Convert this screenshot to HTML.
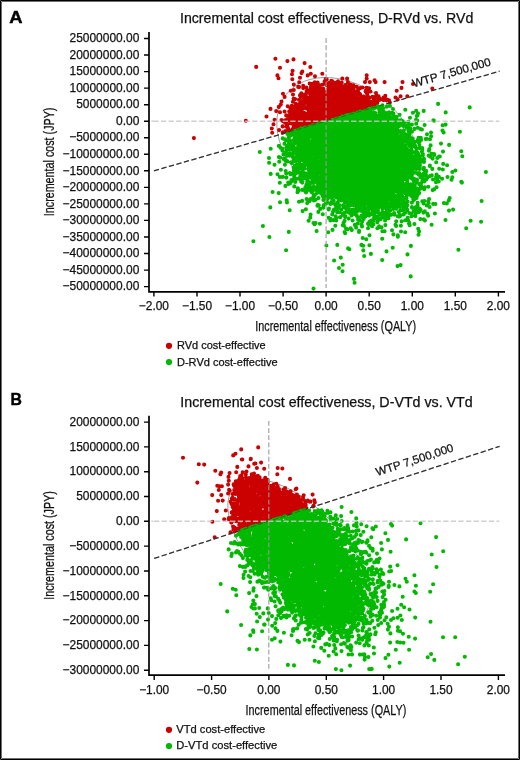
<!DOCTYPE html>
<html><head><meta charset="utf-8"><style>
html,body{margin:0;padding:0;background:#fff;width:520px;height:760px;overflow:hidden}
svg{display:block;will-change:transform}
text{font-family:"Liberation Sans",sans-serif;fill:#111;stroke:#111;stroke-width:0.25px}
</style></head><body>
<svg width="520" height="760" viewBox="0 0 520 760">
<rect x="0" y="0" width="520" height="760" fill="#fff"/>
<text x="9.3" y="22.7" font-size="17.4" font-weight="bold" textLength="13.3" lengthAdjust="spacingAndGlyphs" style="fill:#000;stroke:#000;stroke-width:0.45px">A</text>
<text x="180" y="22.9" font-size="14" textLength="293.3" lengthAdjust="spacingAndGlyphs">Incremental cost effectiveness, D-RVd vs. RVd</text>
<ellipse cx="348.2" cy="144.2" rx="79.5" ry="56.8" transform="rotate(-141.08 348.2 144.2)" fill="none" stroke="#8c8c8c" stroke-width="0.8"/>
<path d="M339.8 98.6h0M317.6 100.9h0M319.5 111.3h0M383.6 98.3h0M338.8 89.5h0M319.6 118h0M295.9 110.5h0M346 114.8h0M321.8 106h0M333.5 84.7h0M296.4 111.9h0M319.5 100.1h0M372.7 105.8h0M353.5 94.6h0M333.9 107.7h0M323.3 88.7h0M375.8 106.3h0M366.5 103.9h0M342.9 89h0M313.7 91.9h0M293.7 116h0M294.4 115.6h0M295.4 117.7h0M303.1 126h0M322.4 93.4h0M353.6 112h0M298.7 123.8h0M355.7 104.8h0M317 120h0M322.6 115.6h0M323 106.5h0M345.6 104.6h0M318.6 94.3h0M323.7 106.7h0M309.5 105.8h0M319.5 104.7h0M329.4 118.1h0M325 118.6h0M312.4 109.5h0M272.2 132.8h0M356.9 91.4h0M290.4 108.3h0M304.9 96.4h0M323.4 90.3h0M349.4 100.6h0M362.7 103.4h0M305 99.2h0M331.7 110.8h0M344.7 91.3h0M353.8 110.1h0M351.5 90.8h0M372.4 96.9h0M358.2 89.2h0M296 106.8h0M362 101.2h0M346.9 100h0M299.8 114.3h0M308 103.3h0M321.1 118.9h0M351.7 104.8h0M300.1 115.5h0M337.2 113.6h0M300.1 120.6h0M348.9 106h0M342.3 107.7h0M310 111.7h0M327.6 110.1h0M315.9 119.5h0M306.3 124.9h0M324.4 98.3h0M352.8 95.3h0M331.5 94.3h0M314.9 113.1h0M348.1 97.6h0M297.4 127.9h0M330.9 98.2h0M311.3 120.4h0M334.3 116h0M302.7 116.7h0M337.3 109.1h0M306.3 118.8h0M314.8 82.2h0M314.6 93.7h0M367.8 100h0M313.7 108.4h0M317.4 88.3h0M365.1 105.9h0M365.5 108h0M305.6 116.5h0M333.3 103.4h0M356.1 108.5h0M339.2 93.8h0M291 112.6h0M362.1 97.1h0M331.7 93.6h0M316.9 94.6h0M303.3 97.4h0M328.8 119.5h0M307.8 100.3h0M332.5 97.4h0M299.5 124.6h0M309.7 123.4h0M346.3 91.7h0M321.1 121.6h0M287 120.8h0M330.4 95.2h0M342.1 112.4h0M368.6 106.8h0M302.3 116.3h0M325 115.6h0M318.7 103.5h0M348.6 96.9h0M332.4 83.9h0M344.4 107.7h0M369.1 88.2h0M331.6 87.5h0M322.2 118.7h0M350.3 96.3h0M346.4 106.7h0M314.1 115.1h0M324.7 111.9h0M328.9 111.2h0M287.9 131.6h0M345.7 96.4h0M356.1 102.2h0M325.6 115h0M344.5 107.1h0M377.5 101h0M330.5 92.1h0M331.6 111.6h0M339.9 107.1h0M305.4 122.2h0M320.4 100.8h0M362 100.7h0M347.1 78.6h0M319.1 91.6h0M339.4 96.6h0M329.7 113.5h0M361 105.4h0M328.2 103.5h0M306.1 115.6h0M333.8 96.8h0M324.5 114.2h0M316 95.8h0M312.8 95.5h0M319 98.1h0M352.7 99.5h0M334.7 95.9h0M332.3 95.1h0M300.9 113.7h0M304.3 127.3h0M356.1 94.7h0M308 125.8h0M305.9 119.1h0M335.2 110h0M338.3 87h0M322.7 113.9h0M314.4 104h0M383.6 97.5h0M311.9 123h0M296.7 119h0M351.7 97.8h0M355 107.6h0M331.4 117.1h0M362.6 97.8h0M326.3 100.1h0M317.6 98.4h0M343.4 105.5h0M319 93.8h0M327.2 112.7h0M335.9 109.4h0M327.7 108.2h0M310.5 91.7h0M335.1 97.2h0M308.1 116.3h0M320.4 118.8h0M298.5 116.2h0M331.9 106.3h0M327.4 104.7h0M332.7 114.6h0M313.7 86.8h0M336.5 95.4h0M319.9 95.4h0M319.8 104.8h0M327 117.3h0M357.2 99.5h0M310.3 97h0M326.3 113h0M317.9 108.7h0M357 97.7h0M291.7 107h0M306.3 99.5h0M334.1 87.4h0M313.4 118.1h0M352.1 90.5h0M374.5 100.2h0M320.2 116.5h0M373.5 103.9h0M341.4 113h0M349.8 89.7h0M310.6 97.5h0M344.1 97.5h0M337.3 87h0M302.6 116.8h0M298.4 120.3h0M352.4 91.5h0M302.5 107.4h0M324.4 118.3h0M336 113.6h0M297.6 107.1h0M307.9 99.7h0M329.8 117.4h0M363.6 101.3h0M312.2 111.9h0M356.5 98.9h0M361.6 109.1h0M300.6 97h0M300.7 110.6h0M312.2 117.1h0M315.6 105.1h0M310 100.2h0M328.9 119.3h0M331.1 85.9h0M317.3 123.3h0M324.1 96.4h0M316.5 121.4h0M325.4 112.1h0M300.5 100.9h0M321 121.4h0M333.6 98.9h0M342.5 96.4h0M322.8 95.8h0M334.1 99.4h0M341.8 96.2h0M345.2 107h0M298.2 125.7h0M333.5 95.4h0M321.2 97.8h0M356.3 99.1h0M317.6 82.6h0M355 104.8h0M294.7 113.8h0M324.7 99.4h0M365.6 91.6h0M345.6 96.1h0M328.3 88.7h0M289.3 130.9h0M345.8 99.9h0M319.3 109.2h0M330.1 110.3h0M322.3 84.8h0M344.1 93.9h0M325.8 111.2h0M313 112.9h0M315.4 102.9h0M286.5 120h0M328 105.3h0M328.4 106.8h0M336.4 115.8h0M305.9 121.5h0M331.7 112.2h0M305.4 115.5h0M307 92.4h0M298.9 99.8h0M320.3 88.2h0M359.7 93.7h0M332.4 81.4h0M331.4 103.7h0M359.8 101.8h0M383.6 100.1h0M323.4 110.1h0M329.7 105.2h0M344.7 107.2h0M298 125.4h0M345.7 114.2h0M354 92.5h0M289.2 111.5h0M338.7 96.9h0M346 97.1h0M335.3 101.1h0M312.1 122.5h0M307.1 123.9h0M350.6 100.3h0M377.5 99h0M329.3 119.9h0M347.2 100.9h0M317.8 87.4h0M303 108.3h0M338.6 99.2h0M354.1 91.1h0M299.5 128.3h0M346.3 99.3h0M344.2 88.3h0M333.8 92.8h0M316.7 92.2h0M355.3 109.3h0M297.9 116.6h0M321.8 114h0M300.6 122.6h0M305.1 119.9h0M353 103h0M341.7 106.4h0M343.1 99h0M314.3 111.7h0M323.6 108.2h0M293.7 126.6h0M336.5 84.4h0M317.3 101.6h0M299.4 112.2h0M296.4 117.2h0M378.6 96.4h0M339.4 101.2h0M301.3 93.2h0M329.5 95h0M350 102h0M343.4 110.2h0M366.7 78.6h0M330.7 101.7h0M362.9 96.8h0M304.2 114.8h0M366.2 107.1h0M360.5 97.9h0M336.6 103.1h0M340.7 87.3h0M310.8 95.6h0M349.8 95.2h0M360.2 94.6h0M314.6 96h0M312.5 119.6h0M278.8 106.9h0M313.5 91.9h0M314.7 113.2h0M360.5 104.9h0M342.5 98.7h0M331.8 83.3h0M303 121h0M335.5 99.2h0M321.8 111.4h0M310.4 115.7h0M307.4 120.2h0M305.5 116.3h0M361.1 98.9h0M318.3 108.1h0M360.4 107.2h0M350.5 103.7h0M329.3 103.3h0M350.2 92.7h0M352.3 109.2h0M309.2 113.8h0M349.7 101.8h0M325 82.6h0M325.4 119h0M345.7 101.1h0M304.3 127.2h0M355 96.9h0M314.5 97.1h0M347.9 97.2h0M318 112h0M334.4 105.3h0M348.4 90.1h0M313.8 90.7h0M345.1 99.3h0M303.2 88.1h0M333.6 109h0M338 102.3h0M314.3 103h0M326.9 85.3h0M311.6 111.5h0M337.8 114.3h0M334.4 87.3h0M327.4 96.2h0M310.8 88.4h0M370.2 105.4h0M329.7 96.1h0M327.1 108.2h0M377.3 103h0M317.7 109h0M354.9 108.6h0M317 119.1h0M318.4 92.3h0M331.4 92.4h0M340.4 115.2h0M329.9 82.9h0M327.9 112.1h0M333.3 111.9h0M336.3 94h0M324 120.6h0M309.8 107.9h0M326.5 101.5h0M339 85.4h0M366 103.3h0M304.5 118.5h0M311.6 91.5h0M322.3 96h0M308.5 97.6h0M300.2 103.1h0M329.8 96.9h0M298.6 112.5h0M337.7 89.4h0M303 118h0M294.5 127.7h0M322.8 98.5h0M294.5 108.5h0M301.6 106.6h0M302.9 118.6h0M330.4 119.6h0M335 98.7h0M329.3 100.8h0M356.7 86.7h0M294.9 127h0M334.1 117h0M331.6 92.4h0M303.2 127.5h0M327.5 106.8h0M303.3 107.7h0M292.1 121.8h0M338.2 91.3h0M339.8 114.6h0M369.9 108.5h0M296.4 115.8h0M334.9 93.2h0M338 81.2h0M339.8 106.4h0M348.1 92.2h0M303.6 107.1h0M341.5 99h0M342.3 104.4h0M320.9 112.3h0M385.3 95.7h0M304.3 113.5h0M323.9 118.9h0M296.7 124.9h0M364.2 99.5h0M317.9 105.8h0M307.4 92h0M323.8 102.1h0M367.9 102.4h0M308.2 90.5h0M315.5 102.8h0M331.6 106.1h0M312.5 117.5h0M373.3 97.3h0M293.2 110.5h0M331.6 114.6h0M376 93h0M318.8 120h0M333.2 114.7h0M354.7 109.7h0M337.4 114h0M315.1 108.6h0M311.6 122.6h0M334.3 99.8h0M366.1 99h0M314.3 108.5h0M343.3 100h0M282.9 132.4h0M328.9 105.9h0M292.8 111.5h0M305.1 124.7h0M320.5 97h0M326.3 117.3h0M344 103.5h0M309.7 119.8h0M300.1 123.7h0M350.5 111.9h0M338 114.4h0M306.2 108.5h0M349.3 105.9h0M348.2 104.5h0M326.6 92.9h0M314.9 106.1h0M321.7 98.3h0M325.2 94h0M375.5 98.6h0M347.3 108.5h0M346.8 95.6h0M371.7 104.1h0M325.8 109.3h0M308.2 104.9h0M304.7 121.7h0M338.7 84.3h0M344.1 93.9h0M315.4 122.9h0M343.5 107h0M351.1 109.9h0M314.7 121.6h0M340.7 103.5h0M301.4 123.4h0M318.1 85.6h0M331.8 104.2h0M346.2 101.1h0M352.9 102.3h0M356.4 107.9h0M306.6 122.8h0M305.5 120.8h0M311.8 117.4h0M342.5 91h0M329.5 91.2h0M359.8 110.6h0M348.2 111.2h0M314.4 115.3h0M365.4 106.5h0M365.9 90.5h0M328 117.7h0M320.5 99.6h0M357.5 99.6h0M366.9 103.3h0M370 107.7h0M335.5 96.4h0M336.1 84.9h0M334 112.9h0M335.5 103.5h0M318.9 108.6h0M338.6 112.1h0M358.3 104h0M286.7 124.3h0M295.1 129.9h0M360.1 107.8h0M324.1 96.4h0M294.6 115.6h0M385.7 99.6h0M370.6 105.4h0M337 117.9h0M352 97.7h0M314.8 109.5h0M340.4 85.7h0M333.6 102.7h0M329.2 89.6h0M395.5 97.5h0M322.3 73.7h0M322.4 89.6h0M324.6 81.4h0M304.2 126.2h0M359.3 105h0M308.5 126.2h0M339.3 95h0M310.3 99.6h0M322.1 120.6h0M344.9 101h0M356.4 97.9h0M318 87.7h0M365.2 100.4h0M310 109.9h0M340.6 115.4h0M352.6 103.5h0M338.8 104.1h0M337.9 101.8h0M339.4 92.7h0M315.6 84.8h0M319.1 85h0M353.4 105.3h0M363.7 96.5h0M343.3 116.1h0M307.1 113.5h0M350.5 111h0M329 99.5h0M332.9 102.5h0M352.7 98.2h0M355.7 103.4h0M314.8 111h0M340.5 107.2h0M314.3 94.2h0M341 102.6h0M365.3 105.1h0M365.9 97.6h0M359.9 101.9h0M323.9 116.9h0M334.8 90.8h0M310.9 124.8h0M322.1 92.3h0M309.2 118.3h0M348.3 109.3h0M354.9 104.7h0M317.2 110.3h0M315.8 90.4h0M341.9 112.9h0M345.6 86.7h0M350.5 109.2h0M308.8 110.5h0M327 91.6h0M317 109.5h0M299.6 109.5h0M332.8 115.7h0M292.9 129.2h0M319.2 115.6h0M362.6 87.5h0M311.5 94.1h0M353.5 111.1h0M317.9 110.1h0M367 93.8h0M348.9 105.1h0M318 116h0M305.6 100.7h0M369.5 105.1h0M332.8 106.5h0M314.8 99.1h0M374.3 97.3h0M313.7 124.3h0M296.7 116h0M340.9 113.5h0M301.7 110.9h0M353 99.5h0M371.6 105.3h0M337.6 90.9h0M351.2 99.7h0M307.3 118.4h0M283.1 121.2h0M314 98h0M346.4 103.2h0M337.2 83.9h0M323.9 115.6h0M304.2 97.6h0M338.1 94.9h0M330.3 100.7h0M327.9 109.4h0M298.3 127.2h0M311.8 121.8h0M354.8 112.2h0M337.8 94.9h0M351.2 110.6h0M330.2 119.6h0M321.8 96h0M303.6 103.8h0M330.8 119.8h0M331.8 108.6h0M316.5 98h0M324 114.4h0M343 113.4h0M328.6 105.5h0M308.8 105.8h0M333.9 108.7h0M311.7 115.9h0M317.6 120.9h0M315.1 98.9h0M354.8 104h0M345 91.6h0M324.5 83.8h0M350.9 106h0M341.1 88.8h0M303.4 127.4h0M311.9 112.8h0M319.9 106.1h0M353.5 100.6h0M366.9 98.9h0M334 109.2h0M366.8 91.4h0M333.9 85.3h0M336.5 89.6h0M290.8 117.8h0M330 98.3h0M329 113.7h0M327.1 103.9h0M309.2 119.5h0M349.8 109.1h0M339.6 84.1h0M326.2 112.4h0M316.2 111.8h0M333.7 98.5h0M347.8 113.6h0M324.2 98.7h0M344.2 110.9h0M347.9 82.1h0M357.1 102h0M344.3 100.5h0M320.6 114.2h0M316.6 107.7h0M325.8 103.2h0M373.9 103.2h0M324.3 96.8h0M327.4 97.4h0M370.9 103.7h0M358.1 91.7h0M334.2 97h0M314.1 106.7h0M305.3 118.3h0M356.3 96.8h0M342.7 113.3h0M332 114.4h0M359.4 109.6h0M342 101.4h0M353.4 105.1h0M370.2 107.7h0M334.8 86.5h0M302.7 95.3h0M361.1 110.7h0M349.5 114h0M311.3 96.6h0M330.7 92.5h0M301.9 128.1h0M315.5 83h0M340.2 98.9h0M317.6 98.8h0M289.9 130.2h0M339.6 102.6h0M312.4 101.7h0M321.2 100.4h0M341 101.9h0M337.3 99.7h0M318.1 96.6h0M348.2 103.7h0M301.9 118.8h0M346 90.3h0M303.5 100.1h0M299.1 87.1h0M309.1 106.4h0M313.7 117.8h0M329.6 104.1h0M335.2 94.4h0M328.3 108.8h0M310.7 107.6h0M316.7 106h0M331.3 90.5h0M317.7 120.2h0M355.8 97.8h0M361.9 102.5h0M365.3 106.9h0M335.7 111.3h0M345.3 85h0M334.1 118.6h0M344.1 103.7h0M333.5 112.9h0M330.9 98.3h0M298.2 119h0M326.8 108.4h0M279.1 130.1h0M285.1 122.7h0M309.3 108.2h0M360.5 110h0M344.9 115.7h0M344.3 110.1h0M357.7 98.8h0M341.2 113.4h0M373 107h0M289.9 114.8h0M314.1 124.6h0M357.1 107.3h0M366.7 75.2h0M309.1 112.1h0M329 114.4h0M331.4 93.5h0M294.8 117.1h0M309 106.2h0M306.8 100h0M331.4 100h0M344.8 103.4h0M366.1 101.4h0M327.7 110.9h0M339.7 101.8h0M370.7 102.1h0M282.7 132.8h0M331.4 102.2h0M311.8 99.7h0M295.1 99.1h0M294.2 111.5h0M316.9 116.7h0M305.1 125.7h0M370.2 107.6h0M332.7 109h0M335.6 100.1h0M352.9 90.9h0M334.9 110.2h0M346.9 87.4h0M292.9 101.8h0M361.1 104h0M340.5 100.9h0M352.5 87.8h0M351.8 113h0M363.6 110.4h0M322.4 116.2h0M349.6 108.3h0M303.8 121.9h0M309.1 107.3h0M304.9 113.5h0M315.4 104.5h0M325.6 106.6h0M360.5 104.8h0M332 82.3h0M320.7 122.5h0M326.1 120.3h0M314.4 122.1h0M351.2 94.5h0M335 102.1h0M298.6 111.4h0M348.5 113.2h0M336.7 109.1h0M341.8 100.3h0M335.8 109.3h0M343.7 102.7h0M299.7 112.7h0M334.6 97.2h0M317.1 111.6h0M358.8 98.2h0M324.6 99.8h0M387.7 99.8h0M339.7 110.2h0M319.2 101.3h0M373.6 100.1h0M375 99h0M315.2 95.1h0M294.7 122.3h0M338.6 84.6h0M328 116.8h0M337.7 116.1h0M365 101.7h0M373.7 101.7h0M339.2 112h0M322.1 100.1h0M287.9 127.7h0M357.9 93.7h0M350.7 97.3h0M308.6 114.3h0M355.2 110.9h0M306.9 102.9h0M315 99h0M352.1 107.1h0M370.3 101.7h0M295 124.7h0M327.9 100h0M308.9 106.6h0M350 85h0M332.2 108.2h0M300 110.3h0M332.9 86h0M356.8 109.6h0M316.4 97.9h0M309.4 120.5h0M326.7 79.6h0M370.1 108.2h0M304.3 122.3h0M318.9 99.6h0M352.4 96.4h0M324.3 121.3h0M322.7 108.7h0M298.2 115.6h0M318.6 115.3h0M351.8 107h0M345.5 113.6h0M354.9 105.4h0M333.2 109.2h0M316.1 109.5h0M291.8 105.7h0M321.8 109.3h0M306.6 121.7h0M299 114.6h0M329.6 103.5h0M331.3 80.7h0M345.9 89h0M319 103.6h0M335.1 105.4h0M299.9 106.2h0M340.8 98.3h0M315.7 88.1h0M344.3 113.7h0M304.1 112.9h0M346.8 105.6h0M348.8 108.2h0M347.6 113.2h0M302.7 101.5h0M324.4 110.2h0M366.6 97.2h0M286.4 126.8h0M346.3 87.9h0M332.6 95.2h0M330.9 117.8h0M347.2 105.7h0M322.3 110.2h0M344.5 86.1h0M310.2 113.7h0M282.6 126.4h0M354.7 111.6h0M293.9 126.7h0M346.2 92.1h0M301.9 120.7h0M324.7 107.5h0M328.4 102.9h0M353.3 87.6h0M304.1 98.6h0M346.2 105.7h0M288.9 116.8h0M292.2 117.7h0M351.3 105.4h0M334.9 103.8h0M306.6 91.1h0M341.7 82.5h0M344.9 109.4h0M342.9 112.9h0M374.4 103h0M367.6 96h0M338.3 115.6h0M341 83.6h0M316.7 107.3h0M348.9 91.6h0M285.2 120.2h0M335.6 96.8h0M318.7 109.3h0M340.6 112.2h0M320.6 93.2h0M293.8 115h0M353 102.1h0M309.1 93h0M332.5 112.3h0M340.6 116.2h0M312.1 119.3h0M362.2 99.6h0M334.9 105.8h0M354 91.1h0M328.1 104.9h0M315.1 100.2h0M341.7 94.3h0M334.5 107.7h0M332.8 99.4h0M349.4 99.2h0M348.4 108.9h0M344.2 113.7h0M332.9 118.7h0M357.9 106.6h0M315.7 120.7h0M314.9 105.5h0M350 90.3h0M336.5 105.8h0M330.5 116.5h0M305.5 122.9h0M323.5 103.4h0M349 111.8h0M356.1 102.4h0M319.8 115.8h0M319.3 105.4h0M303.7 115.2h0M324.4 100h0M338.2 109.6h0M317.8 118.9h0M340.7 100.8h0M301.4 96h0M335 82.7h0M352.2 94.2h0M320 102.2h0M300.3 113.6h0M335.2 107h0M319.9 104.4h0M322 108.4h0M304 96.9h0M362.4 105.9h0M379.8 98.8h0M365.9 106.7h0M333.8 83.2h0M360.2 88.1h0M330.1 93h0M295.7 103.9h0M311.1 93.4h0M312.7 112h0M361.8 103.7h0M353.7 104.3h0M328.1 91.4h0M336.7 115.7h0M302.3 115.5h0M352.5 95.8h0M321.3 105.7h0M341.6 86h0M318.9 112.6h0M292.8 119.4h0M313.5 107.7h0M295.9 120.1h0M321.5 109.2h0M334.7 108.9h0M344.1 95.9h0M296.8 126.5h0M348.1 100.8h0M334.3 97.7h0M331.6 86.8h0M325.6 114.1h0M329.1 116.9h0M344.8 111.5h0M335.1 97.4h0M301.9 104.9h0M287.5 119.2h0M315.6 112.8h0M320.5 107h0M319.2 101.6h0M297 124.1h0M343.4 107.2h0M315.6 102.9h0M343.1 106.7h0M301.3 112.6h0M357.2 98h0M350 96.2h0M338.9 100.8h0M319.8 122.6h0M333.5 104.3h0M348 98.4h0M338.7 96.5h0M297.3 127.8h0M325.7 79h0M326 104.5h0M330.6 86.4h0M361.2 110.7h0M305.9 98.6h0M318 101h0M332 103.6h0M293.7 124.3h0M337.6 105.2h0M349.1 107.9h0M314.6 115.3h0M334.5 112.8h0M309.7 83.5h0M296.8 117.5h0M312.9 93.2h0M347 86.7h0M348.7 85.9h0M333.7 84.2h0M340.2 110.5h0M347.4 97.7h0M342.4 94.5h0M330.3 97.3h0M328.2 83.8h0M352.7 104.8h0M320.1 91.7h0M317.5 110.5h0M357.6 102.5h0M337.7 95.8h0M304.8 125.5h0M289.3 119.6h0M315.4 114.3h0M366.6 87.8h0M333.7 85.3h0M301.1 113.4h0M321.1 103.3h0M372.9 106.8h0M301 121h0M314 95h0M333.7 108.4h0M352.2 106.4h0M296.3 119.9h0M343.8 109.5h0M374.9 101.9h0M325.2 112.7h0M323.2 112.2h0M288.1 130.3h0M333.9 105.7h0M367.8 91.5h0M350.7 84.5h0M325.8 101.7h0M329.5 114.2h0M346.2 98.6h0M296.8 122.5h0M305.1 94.3h0M325.3 104.9h0M329.4 86.8h0M304.6 118.5h0M343.3 108.7h0M320.6 89.1h0M321.9 119.8h0M354.2 103.5h0M340.6 109h0M360.2 100.9h0M339.4 107h0M333.6 105.1h0M294.2 128.9h0M360.8 106.8h0M309.5 97.8h0M331.3 82.8h0M342.3 113.8h0M305.9 96h0M329.7 91.1h0M295.7 119h0M334.5 88.8h0M349.7 100.1h0M325.7 113.7h0M358.7 101.4h0M293.6 98.7h0M302.3 122.2h0M359 105.6h0M296.7 128.2h0M386.3 100.1h0M290.4 123.2h0M356.4 95.6h0M330.4 96.7h0M362.2 109.7h0M341.7 101.6h0M316.8 89.9h0M329.1 101.4h0M336.3 86.5h0M340.2 90.8h0M342.6 86.7h0M299.7 106.5h0M295.3 115.6h0M297.2 114h0M288.6 116.9h0M322.5 108.6h0M363 100.7h0M301.2 118.6h0M370.4 91.5h0M350 93.6h0M305.4 125.1h0M342.3 78.5h0M295.2 129.2h0M295 110.8h0M313.3 90h0M298.8 112.6h0M356.7 104.2h0M353.7 107.7h0M333.1 86.4h0M357.4 104.7h0M292.9 128.8h0M310.5 116.1h0M315.6 88.5h0M320.4 112.4h0M307.9 108.3h0M297.8 110.9h0M346.7 92.3h0M313.2 116.3h0M317.5 119.7h0M325.3 107.2h0M341.1 96.5h0M306.4 87.5h0M323.2 91.5h0M287.1 124h0M350.8 103.1h0M353.4 85.3h0M316.6 89.3h0M301.3 124.5h0M325.4 96.9h0M331.4 101.6h0M359.8 101.4h0M341.9 104.6h0M309.7 111.6h0M332.4 106.6h0M303.3 125.7h0M291.4 119.6h0M320.8 104.2h0M313.8 117.9h0M315.9 104.1h0M320.4 93.7h0M331.3 113h0M344.1 89.6h0M310.7 104.8h0M351 88.2h0M366.5 106.5h0M293.4 115.5h0M319.7 119.8h0M299.6 121.6h0M367.9 107.1h0M319.7 109.9h0M320.9 105.6h0M306.8 101.7h0M360.9 109.7h0M347.2 108.9h0M356.1 102.8h0M314.4 102.9h0M312.5 83.8h0M318.5 117.7h0M336.1 102.7h0M370.5 104.4h0M319.8 118.2h0M316.1 108.1h0M349.1 105.3h0M337.7 95.2h0M345.7 104.9h0M305.8 107.3h0M335.4 101.5h0M339.8 91.3h0M303.2 85.9h0M332.6 93.2h0M342.8 110.8h0M336.8 101.9h0M326 120.2h0M364 106.4h0M314 103.8h0M315.3 95.5h0M302.6 117.3h0M302.1 112.7h0M343.7 107h0M338.8 111.1h0M308.9 105.2h0M285.4 131.1h0M287.5 126.4h0M299.1 112.3h0M305.6 125.6h0M311 86.8h0M311.5 86.3h0M353.8 111h0M304.1 103.7h0M354.7 97.7h0M307.8 115.1h0M300.7 120.2h0M348.8 88.2h0M320.9 112.2h0M326.6 96.8h0M329.5 92.5h0M337.4 116.7h0M292.2 122.7h0M297.2 104.6h0M369.6 97.8h0M353.5 88.3h0M342 97.1h0M347.5 106.1h0M367.7 92.6h0M300.7 103.2h0M389.8 102.6h0M330.7 113.2h0M326 103.3h0M308.9 111.9h0M324.8 103h0M304.1 119.8h0M327.4 94.1h0M359.2 109h0M313.8 110.3h0M295.5 106h0M302.5 108.4h0M325.6 120.4h0M333.3 99.3h0M329.3 82.9h0M374.9 100.7h0M356.4 101.6h0M337.7 103.7h0M362.7 102.9h0M314.1 124.5h0M330.3 109.7h0M319.5 99.3h0M344.7 89.2h0M351.3 113.9h0M328.3 93.2h0M309.8 102.6h0M363.7 99.4h0M380.1 99.8h0M316 122.2h0M322.7 107.1h0M343.6 97.8h0M292.2 123.8h0M351.9 92.2h0M311.1 120.1h0M344 115.6h0M357.3 104.3h0M342.1 107h0M351.7 101.1h0M337.4 102.2h0M193.9 138.1h0M256.2 66.9h0M275.4 58.8h0M287.4 61.1h0M293.5 59.4h0M304.6 63.1h0M310.3 67.1h0M280 67.7h0M277.4 75.4h0M278.5 78.2h0M292.6 70.8h0M292 74.2h0M292.3 79.2h0M302.3 71.5h0M301.5 73.1h0M307.7 75.4h0M310.8 73.8h0M315 76.2h0M300 77.7h0M299.2 82.3h0M293.8 84.6h0M298.2 86.9h0M290.8 90.8h0M293.8 90h0M283 93.8h0M284.6 96.9h0M293 94.6h0M300 95.4h0M281.5 101.5h0M280.8 104.6h0M287.7 106.2h0M270.5 108.9h0M276.2 111.1h0M280 112.3h0M284.6 111.5h0M286.2 115.4h0M289.2 116.2h0M266.5 116.5h0M274.6 119.7h0M281.5 120h0M245.8 120.8h0M273.5 124.3h0M271.8 128.5h0M365 82.1h0M369.8 82.1h0M374.6 80.2h0M375.6 82.1h0M384.6 82.1h0M402.5 82.1h0M401.5 87.9h0M396.7 90.8h0M413 84h0M432.3 88.5h0M400.6 96.2h0M407.3 96.2h0M397.7 99.4h0M386.2 99.4h0M389 100.4h0M376.5 95.6h0" stroke="#cb0000" stroke-width="4.1" stroke-linecap="round" fill="none"/>
<line x1="153.9" y1="170.81" x2="499.6" y2="71.22" stroke="#3c3c3c" stroke-width="1.3" stroke-dasharray="5.3 2.5"/>
<path d="M379 134.2h0M343.6 176.1h0M392.1 198.9h0M394.5 208.1h0M355.7 175.7h0M403.2 179.8h0M371.5 128.1h0M337.8 120.8h0M309.3 168.3h0M295 165.8h0M339.4 135.4h0M357.7 149.2h0M385.9 184.6h0M306.5 148.2h0M432.7 190.1h0M372.8 142.1h0M386.4 195.3h0M361.1 159.5h0M378.2 194.2h0M317.1 148.5h0M377.4 207.4h0M339.8 154h0M343.8 149.3h0M353.3 155h0M416 180.1h0M342.5 130h0M375.2 161.6h0M310.1 129h0M296.9 148.2h0M364.1 212.2h0M395.5 172.4h0M340.7 154h0M336.4 145.6h0M370.1 148.4h0M332.8 185.7h0M296.5 134.8h0M349.7 154.9h0M360.4 151.9h0M379.7 134.6h0M400 176.4h0M397.1 137h0M398.6 216.5h0M397.4 130.7h0M300.4 145.5h0M402.6 160.2h0M364.4 111.5h0M304 149.6h0M357.1 193.2h0M348 170.1h0M385.6 128.8h0M374.6 113.5h0M344 152.7h0M341.3 125.8h0M332.1 162.7h0M370.3 196.3h0M361.8 185.3h0M325.5 181.7h0M351.3 170.2h0M364 150.6h0M346 115.6h0M397.9 168.4h0M332.6 134.4h0M394.4 183.8h0M379.8 182.8h0M378.4 125.4h0M323.5 126.7h0M306.7 150.5h0M340.3 199.4h0M367.9 188.8h0M420.7 210h0M351.6 189.5h0M407.6 156.4h0M310.4 150.8h0M382.6 203.3h0M306.3 129.7h0M365.5 122.2h0M395.4 136.3h0M362.4 156.3h0M383.3 144.5h0M365.7 156.7h0M369 185h0M304.8 141.9h0M323.6 127.2h0M362.3 148.3h0M365.1 133.7h0M394.4 127.3h0M371.1 167.4h0M323.3 196.1h0M331.8 160.6h0M367.6 147.8h0M371.4 190.4h0M400.3 151.7h0M379.4 227.1h0M360 146.4h0M352 158.4h0M348.8 198.8h0M310.2 150.5h0M322.4 158.3h0M346.7 164.6h0M394.6 144.8h0M356.3 196.3h0M354.7 129.1h0M398.1 188.2h0M388.1 206h0M336.2 181.9h0M363.3 173.1h0M415.4 216.1h0M314.3 160.1h0M397.4 151.7h0M326.6 123.5h0M410.7 276.4h0M347.9 147.1h0M397.2 191.1h0M420.4 159.4h0M348.8 170.2h0M328.1 181.4h0M309.4 145.3h0M374.4 204.3h0M401.1 154.5h0M312.5 169.2h0M308.2 161.3h0M363.9 140h0M383.5 139.8h0M343.3 137.3h0M310.2 153.9h0M382.4 105.4h0M388.3 137.4h0M376.6 196.2h0M366.8 186.7h0M343.5 193.7h0M389.5 149.1h0M399.8 175h0M331.6 179h0M388.6 168.6h0M387.6 172.5h0M417 189.2h0M383.1 137.1h0M407.6 160.9h0M379.5 173h0M368.5 202.8h0M306 192.4h0M400.7 155.3h0M387.3 166.7h0M364.1 214h0M332 156.4h0M407.9 136.7h0M345.2 173.4h0M387.7 136.6h0M328.1 150h0M341.9 123.1h0M338.4 175.7h0M352.2 210h0M334 209.6h0M400.1 142h0M389.2 131.6h0M396 187.3h0M378.4 183h0M308.9 138h0M395.6 187.9h0M320.9 132.4h0M321.5 173.4h0M304.1 134.7h0M331.9 147.6h0M375.5 208.7h0M368.1 181.9h0M334.7 178.7h0M360.7 128.8h0M377.4 147.3h0M388.9 122.1h0M328.6 217.8h0M328.2 139h0M331.3 127.2h0M361.6 211h0M373.4 185.9h0M338.8 191.6h0M415.6 207.2h0M389.7 113.8h0M374.7 107.9h0M304 137.3h0M391.8 132.8h0M377.1 188.8h0M360.4 170.6h0M389.4 133.3h0M391.6 178h0M368.8 207.2h0M358.1 116.1h0M324.2 192.9h0M315.9 142.4h0M392.3 204.1h0M383.2 120.8h0M375.2 212.7h0M343.5 156.7h0M387 207.7h0M381.8 144.8h0M309.8 189.3h0M348.6 156.9h0M405.9 185h0M298.6 190.5h0M318.4 161.8h0M397.5 179.5h0M391.3 200.4h0M409.2 222.7h0M400 146.8h0M359.9 152.5h0M417.6 195.1h0M347.8 116.5h0M386.2 145.9h0M394.9 208.2h0M331 124.4h0M349.3 209.7h0M371.3 204.3h0M323.4 199.9h0M361.2 141.2h0M362.8 125.2h0M377.9 120.3h0M337 176.2h0M386.4 185.2h0M362.5 201.7h0M365.9 183h0M349.2 154.7h0M358.6 188.2h0M329.8 192.6h0M315.9 156.2h0M359.9 210.5h0M397.1 132.3h0M363 140.9h0M362.5 158h0M422.3 181.3h0M376.9 192.1h0M369.3 201.9h0M350.1 190.6h0M307.8 175.3h0M383.5 200.3h0M394.3 190.4h0M372.3 134.1h0M362.2 143.9h0M383.7 131.4h0M302.6 211.1h0M283.8 158.9h0M385.2 125.8h0M419.3 184.4h0M351.5 191.5h0M345.3 170.2h0M322.5 140.4h0M417.1 189.8h0M298.2 171.9h0M389.4 152.6h0M375.8 143.8h0M380.7 125.9h0M349.7 170.9h0M310.6 134.1h0M387.8 185.5h0M398 172.2h0M328.5 131.5h0M400.2 200.2h0M330 131.7h0M364.7 188.1h0M361.4 172.5h0M329.9 196.9h0M327.7 192.7h0M395.9 152h0M302.7 168.4h0M300.9 142.9h0M370.9 183h0M371.9 170.7h0M312.6 147.8h0M382.5 176.2h0M438.9 176.9h0M350.3 194.4h0M373.7 218.9h0M301.9 179.2h0M355.4 183.3h0M377.1 196h0M315.2 174.5h0M359.3 135.3h0M389.7 172.8h0M404.8 138h0M398.1 167.8h0M356.6 187.7h0M328.7 184.4h0M322.7 165.6h0M316.1 165.8h0M321.6 151.2h0M395.9 145.2h0M350.2 141.4h0M306.3 150.8h0M391.5 160.5h0M343.9 200.3h0M309 145.7h0M329 179.3h0M367.9 142.1h0M318.6 125.9h0M364.6 207.9h0M332 142.8h0M373.2 123.7h0M392.2 193.4h0M358.9 138.8h0M357.8 217.3h0M362.6 133.6h0M405.1 212.7h0M298.7 168.8h0M417.3 211.3h0M337.5 149.2h0M351.5 184.4h0M383.4 136.8h0M365.5 140.4h0M392.6 168.2h0M349 212.4h0M318.4 163.9h0M322.2 145.9h0M336 138.2h0M378.4 118.9h0M396.7 151h0M363.2 199.7h0M408.5 129.5h0M360.8 203.6h0M402.3 171.6h0M381 110.9h0M364.5 156.9h0M398.2 141.7h0M393.7 123.8h0M316.2 128.6h0M341.3 124.5h0M373.8 113.7h0M392.7 158.5h0M316.1 131.5h0M395.4 119.1h0M377.4 132.5h0M391.3 150.1h0M303 141.1h0M330 137.8h0M350.2 166h0M330.1 134.2h0M351.6 116.2h0M288.8 231.9h0M345 198.6h0M399.6 216.4h0M332.4 162.9h0M358 204.6h0M345 118.8h0M326.2 151h0M395.6 132.8h0M325.5 132.7h0M316.6 174.2h0M371.5 122.6h0M307.3 131h0M372.4 130.1h0M388.2 128.9h0M385.1 119.6h0M355.9 125.4h0M374.8 144.4h0M409.7 225.2h0M366 188.5h0M372.2 156.6h0M366.2 189.6h0M337.7 160.8h0M382 116.1h0M348 183.8h0M340.4 180.5h0M347.6 190.6h0M332.9 132.8h0M278.9 157.1h0M380.4 107.7h0M306.7 189.7h0M362.5 127h0M368.8 155.7h0M365.4 122.3h0M286.7 200.2h0M398 202.4h0M336.4 118.7h0M362 178h0M338.5 159.3h0M393.9 129.5h0M378.9 163h0M371.2 143.1h0M372.2 121.1h0M357.8 190.4h0M353.5 134.8h0M304.3 133.5h0M358.9 158.5h0M362.2 180.4h0M334.6 185.1h0M313.7 164.8h0M481.1 221.8h0M364 159.8h0M372.7 182.4h0M395.7 122.9h0M367.9 175.4h0M320.8 161.6h0M385.5 141.6h0M373.5 209h0M392 172h0M389.8 115.3h0M327.2 179.6h0M343.7 131.7h0M378.8 155.4h0M330.1 123.6h0M331.8 184h0M302.4 129.5h0M418.7 142.4h0M337.5 141.4h0M318.5 198h0M383.9 187.3h0M394.6 119.6h0M327.6 196h0M397.7 132.4h0M310.5 164.7h0M357.1 183.2h0M356.7 132.3h0M390.6 167.1h0M383.7 192.5h0M342 126.8h0M321.5 180.5h0M328.4 122.9h0M364.8 137.6h0M381.4 180.6h0M399.4 139h0M354.9 119.2h0M409.6 158.8h0M340.2 188.9h0M382.9 178.3h0M393 146.4h0M400.1 192.3h0M337.3 209.2h0M341.6 151h0M397.4 173.2h0M391.2 173.3h0M376.9 175.1h0M303.7 141.2h0M359.3 141.6h0M325.8 144.8h0M395.4 181.9h0M331.9 167.3h0M363 152.9h0M381.5 155h0M331.1 139.6h0M325 187.7h0M355 136.8h0M345.3 191.4h0M385 184.7h0M385.1 167.5h0M392 188.7h0M368.7 147.6h0M344.3 136.4h0M368.6 145.8h0M408.2 153.7h0M417.5 115.6h0M358.8 150.6h0M335.8 135.5h0M383.1 156.7h0M333.7 153.9h0M396.7 176.4h0M359.9 182.4h0M406.5 148.5h0M370.1 205.4h0M395.6 155.1h0M388.3 152.9h0M371.3 126.3h0M391 131.1h0M320.3 170.1h0M289 136.7h0M411.1 184.7h0M344.6 220.7h0M370.6 151.5h0M380.3 128h0M269 158h0M359.8 180.2h0M375 181.4h0M359.8 220.4h0M366.7 192.7h0M404.2 154.9h0M374.7 155.5h0M348 144.5h0M313.9 154.6h0M369.3 108.8h0M384.7 141.3h0M374.1 188.6h0M358.9 191.1h0M404.8 160.9h0M383.4 195.3h0M383.4 135.2h0M383.5 141.5h0M403 177.8h0M354.3 144.4h0M398.5 157.2h0M363.3 126.8h0M356.7 207.4h0M380.4 171.2h0M308.6 146.1h0M348.7 175.9h0M313.5 174.4h0M341.5 141h0M355.5 117.4h0M347 158.4h0M308.5 163.9h0M369.6 123.2h0M400.8 168h0M392.1 181.7h0M367.2 177h0M378.6 193.1h0M341.6 140.2h0M320.9 170.6h0M358.5 185.4h0M328.5 180.9h0M380.6 172.8h0M386.6 117.9h0M414.3 141.9h0M389 156.7h0M338.5 174.5h0M343.9 140.3h0M367.4 174.8h0M350.8 187.7h0M394.5 152.2h0M359.2 118.7h0M298.3 138.8h0M379.1 180.7h0M361.5 175.1h0M356.7 164.2h0M373.9 209.8h0M297.5 158.2h0M349.7 183.4h0M407.8 170.4h0M379.7 186.4h0M358.5 187.5h0M302.2 178.2h0M371.6 205.5h0M406.1 207.4h0M326.4 156h0M304.2 152h0M378.3 207.4h0M396.3 154.2h0M310.6 157.3h0M283.4 154.5h0M340.3 133.5h0M378.5 133.4h0M365.6 200h0M346.9 182.2h0M344.5 195.8h0M443.2 163.9h0M320.6 126.8h0M314.7 153.8h0M399.4 147.4h0M371 120.2h0M410.8 184.4h0M314.7 170.4h0M322.3 139.7h0M384.4 149.5h0M301.6 146.9h0M373.5 220.8h0M419.6 160h0M382.6 212.1h0M321.7 185.3h0M326.1 180.4h0M336.6 126.4h0M376.6 179.9h0M382.4 231.2h0M366.6 182.7h0M390.2 171.3h0M327.7 193.5h0M361 123h0M403.8 150.6h0M405.8 173.7h0M375.7 122.1h0M335.4 136.4h0M385 197.4h0M338.8 143.1h0M406.2 157.4h0M321.5 136.5h0M348.6 203h0M406.2 148.4h0M416.4 188.4h0M381 109.3h0M382.2 120.7h0M378.1 119.7h0M377.5 190.2h0M395.9 171.6h0M339.7 155.5h0M394.9 171.9h0M323.7 135.4h0M339.8 189.9h0M410.9 159.1h0M355.2 198.3h0M393.5 150.6h0M401.4 161.2h0M338.8 121.8h0M348.9 115h0M361.2 196.1h0M398.2 196.8h0M327.9 145.9h0M288.2 182.6h0M392.8 171.8h0M384.2 200.6h0M334.6 126.9h0M334.4 146.1h0M393.2 135.6h0M328.2 189.8h0M426.1 179.6h0M335.3 184.5h0M385.5 183.2h0M290.2 134.9h0M342.1 179.7h0M307.7 141.6h0M355.9 172.7h0M306.7 130.3h0M333.4 191.6h0M302.8 133.4h0M337.9 172.9h0M372.5 182.9h0M351.6 174.5h0M375.5 143.9h0M350.1 179.9h0M293.4 146h0M378.7 141h0M335.8 153.3h0M402 199h0M325.8 177.8h0M400.3 210.1h0M401.7 184.8h0M299.8 129.7h0M340.8 154.6h0M377.9 169.6h0M316.6 231.1h0M376 164.1h0M385.3 116.2h0M389 189.6h0M300.6 131h0M301.7 134.9h0M353.6 165.8h0M330.5 155.1h0M324.9 131.9h0M362.5 154.8h0M325.5 150.7h0M347.5 165.3h0M388.1 125.8h0M359.9 158h0M349.5 140.7h0M442.5 130.5h0M315.4 128.9h0M372.8 209.9h0M412.4 185h0M387 197.6h0M357.8 182.8h0M336.9 132.3h0M379.8 116.2h0M358.6 150.5h0M394.7 195.6h0M381 153h0M385.5 219.1h0M349.4 249.2h0M396.6 140.8h0M316.9 148.6h0M397.5 124.2h0M317.4 205.8h0M393.1 154.3h0M279.9 177h0M311.6 136.1h0M415.2 190.4h0M343.6 128.8h0M353.3 177.2h0M398.4 147.7h0M387.3 207.4h0M356.2 180.5h0M336.3 134.6h0M342 190.1h0M366.1 191.4h0M335.8 121.9h0M363.4 130.3h0M341 184.2h0M342.9 133.5h0M397.7 216.3h0M423.9 158.8h0M383.3 145.6h0M303.6 155.6h0M349 185.1h0M302.5 130.5h0M366.8 129.5h0M434 189.4h0M350 118.1h0M415.5 192.4h0M396.3 176.2h0M341.6 174.9h0M377 147.2h0M351.8 230.1h0M380.3 198.1h0M334.3 129.1h0M417.8 165h0M414 193.6h0M319.2 144.3h0M303.2 151.1h0M385.1 190h0M367.2 194.1h0M398.4 163h0M381.8 128.3h0M373.5 160h0M382.4 112.6h0M357.1 164.5h0M404.7 202.3h0M364.5 141.1h0M350.7 169.3h0M363.7 189.5h0M356.3 164h0M346 168h0M359.8 193.2h0M365.4 153.8h0M367.3 132.2h0M363.5 211.3h0M330.8 126h0M375.9 139.7h0M374.5 175.7h0M362.5 164.4h0M343.4 149.9h0M378.2 186h0M372.9 185.9h0M407.3 205.2h0M304.1 149.8h0M402.4 186.5h0M319.6 155.7h0M377.2 197.9h0M348.7 137.7h0M366.2 134.7h0M299.4 178h0M443.6 132.4h0M357.1 136.5h0M309.1 172.5h0M393.7 164h0M384.5 136.8h0M374.5 185.4h0M394.8 189.6h0M363.2 151.8h0M324.7 137.2h0M378.8 186h0M363.3 172.4h0M339.6 155.2h0M371.2 115.8h0M402.6 204.3h0M411.9 190.7h0M335 182.8h0M374 182.5h0M419.1 231.4h0M366 182.4h0M321.6 176.4h0M300.8 151.3h0M316.4 180h0M413.9 189.8h0M408.7 124.9h0M311.4 148.4h0M316.5 126.3h0M393.8 160h0M372.6 165.8h0M346.8 130.3h0M320.4 130.4h0M393.9 131.2h0M373.3 137.4h0M427 134.3h0M350.9 120.9h0M318 169.9h0M381.8 176.1h0M345.8 188.3h0M370 171.1h0M383.9 203.9h0M306.4 184.6h0M349.3 153.6h0M381.6 171h0M374.6 191.9h0M309 134h0M365.4 195.6h0M341.3 162.5h0M288.8 137.4h0M352.6 193.1h0M339 268h0M428.6 202.9h0M366.6 157.5h0M350.4 145.1h0M332.8 184.2h0M310.2 148.2h0M338.6 162.7h0M364 162.4h0M360.3 196.7h0M346.5 143.6h0M333.7 158.2h0M345.9 133.9h0M371.6 155.3h0M359.2 176.9h0M389.6 120.5h0M295.8 130.8h0M328.3 178.6h0M330.4 140.3h0M403.1 135.2h0M315.2 144.1h0M407.2 194h0M382.3 115.5h0M391.8 119.6h0M323.2 207.7h0M389.5 181.2h0M385.2 165.9h0M284.5 143.8h0M375.1 212.9h0M376.5 149.1h0M367.6 118.7h0M338.1 119.2h0M362.3 145.3h0M371.6 184.6h0M421.5 159.9h0M382.4 143h0M372.4 141.3h0M337.2 179h0M343.4 167.1h0M407.1 125.6h0M378.2 154.7h0M322.1 166.3h0M354.2 151.8h0M326.4 168.5h0M333.7 200.8h0M328 139.8h0M306.5 138.3h0M321.7 159.3h0M393.3 157.9h0M386.4 141.5h0M401.5 124.4h0M366.8 197.7h0M372.3 124.8h0M414.4 162.8h0M346.8 164.5h0M335.9 145h0M345.9 140.5h0M304 173.3h0M352.7 180.6h0M341.8 168.1h0M307.4 180.9h0M437.3 158h0M309.1 154.4h0M355.4 166.5h0M366.9 180.8h0M371.1 195.1h0M334.9 193.2h0M318.6 126.4h0M306.5 128.5h0M312.8 175.3h0M344 140.5h0M320.7 171.8h0M368.6 155.5h0M395.8 149.3h0M403.9 151.4h0M329.1 190.7h0M331.2 133.4h0M356.7 209.6h0M406.7 158.7h0M378.4 145.4h0M352.2 126.9h0M305.9 209.2h0M358.1 169h0M375.1 152h0M293.8 170.3h0M382.6 133.5h0M413.1 146h0M369.9 133.5h0M337.7 208.4h0M395.2 143.9h0M391.9 150.5h0M405.1 134.4h0M357.6 203.3h0M328.7 209.4h0M377.8 196.8h0M376.6 173.2h0M297.5 139.6h0M358.5 135.4h0M342.7 198.9h0M341 148.3h0M350.7 170.7h0M348.7 218.6h0M382.5 185.9h0M393.3 145.1h0M365.2 145.7h0M402.1 139.5h0M303 151.5h0M382.1 129.7h0M401.3 166.7h0M339.1 183.7h0M418.5 165.5h0M408.1 220.2h0M358.3 201.3h0M358.3 143.1h0M359.2 177.4h0M333.5 153.1h0M323.9 143h0M366 137.8h0M426.5 138.9h0M390.2 122h0M353.6 176h0M355.6 157.2h0M348.7 119h0M362.4 118.5h0M408.5 163.3h0M304.3 153.6h0M391.4 119.6h0M354.7 114.7h0M357.4 144.6h0M350.4 177.5h0M332.4 194.5h0M329.5 129.9h0M328.2 232.2h0M362.5 192.6h0M372.5 139.3h0M368 114.4h0M333.9 161.3h0M355.5 151.9h0M354.9 197.1h0M318.8 125.1h0M376.5 189h0M369.4 145h0M346 202.3h0M427.4 213.8h0M348 132.5h0M388.8 191.8h0M367.1 151.6h0M354.4 196.9h0M398.8 200.3h0M348.1 151.7h0M399.3 180.7h0M376 138.9h0M332.3 161.2h0M381.1 153h0M299.7 161.4h0M390.3 162.1h0M316.4 173.9h0M366.3 135.3h0M388 143.9h0M373.4 204.4h0M388.4 135.7h0M413.6 211.4h0M404.5 176.3h0M387.1 141.5h0M357.1 145.5h0M333.9 196.5h0M360.7 132.5h0M359.4 127.6h0M376.1 168.2h0M354.3 165.1h0M333 139.1h0M317.8 204.9h0M355.2 192.7h0M416.4 168.9h0M331.2 182.1h0M368.9 145.3h0M393.8 206.9h0M372.1 127.8h0M328.5 135.7h0M397.8 165.2h0M371.6 132.4h0M358.3 206.5h0M320.6 144.5h0M343.6 127.7h0M314.6 224.2h0M328 161.1h0M429.9 176.1h0M374.6 123.4h0M398.8 137.5h0M374.7 172.3h0M312.7 136.9h0M339 121.2h0M332.3 168.6h0M366.3 144.2h0M350.8 197h0M388.5 218.2h0M377.7 170.6h0M300.1 159.5h0M322.4 125.9h0M397.4 143.5h0M379 148h0M348.6 119.1h0M394.4 159.7h0M348.5 190.1h0M369.6 134h0M318.8 205.4h0M361.7 183.8h0M436.5 174.6h0M390.2 126.6h0M346.4 198h0M330.3 179.8h0M304.9 132.1h0M357.7 132.4h0M449 210.6h0M318.1 125.3h0M314.2 154.3h0M404.4 189.2h0M359.7 114.2h0M333.3 133.9h0M314.7 180.6h0M393.1 185.3h0M355.4 120.1h0M370.5 166.6h0M296.3 152.6h0M308.7 159.6h0M400 181.5h0M317.9 155.7h0M374.2 131.5h0M441 143.6h0M302 154.3h0M417.6 202.9h0M361.4 127.5h0M339.4 133.8h0M336.9 190.4h0M314.1 127h0M366.7 140.7h0M338.8 128.6h0M400.5 131.1h0M363.5 209.5h0M301.9 142.2h0M418.5 212.2h0M415.4 147.1h0M332.5 229.9h0M461.3 181.7h0M434.2 155h0M337.3 163.6h0M332.7 190.6h0M373.4 112.8h0M365.7 127.6h0M304.2 150h0M367.4 134.7h0M348.3 151.8h0M318.7 125.4h0M325 132.4h0M453.1 209.6h0M402.6 187.1h0M342.9 193.7h0M390.7 151.5h0M359.1 126.4h0M398.1 140.7h0M292 163.1h0M443.9 203.1h0M317.3 137.3h0M372.1 226.2h0M336.9 164.7h0M423.7 169.2h0M363 156.7h0M398.6 161.1h0M371.2 138.3h0M326.4 194h0M373.8 133.4h0M371.3 181.6h0M398 146.4h0M356.5 190.6h0M374.6 119.6h0M368 118.2h0M333.7 171.9h0M305.4 187h0M383.7 198.1h0M347.3 167.7h0M380.7 153.1h0M367.6 110.1h0M360.8 143.9h0M374.5 134.2h0M355.7 210.3h0M389.9 105.9h0M430.6 145.4h0M416.4 148.6h0M381.3 150.5h0M366.7 144.2h0M391.1 198.9h0M350.6 131.3h0M326.1 132.7h0M313.9 186.6h0M362 176.8h0M309.1 189.9h0M395.8 204.3h0M446.8 203.4h0M300.4 140.3h0M325.1 162.1h0M335.4 139.5h0M382.1 217.3h0M406.8 202.1h0M375.9 173.4h0M413.4 178.6h0M382.5 153.8h0M350.2 136.5h0M382.8 119.9h0M408.9 125.6h0M394.8 150.9h0M421.4 161.6h0M382.3 215.5h0M359.1 119.3h0M316 131.9h0M357.2 123h0M325.5 191.6h0M429.6 207h0M373.7 181.3h0M399.3 155.6h0M302.9 153.9h0M372.3 167.8h0M386.8 209.1h0M340.4 144.5h0M397.1 169.6h0M301.6 147.5h0M362.6 202.7h0M317.9 151.3h0M338 149.3h0M321.8 124.7h0M376 164h0M303.4 143.1h0M447.5 177h0M399.7 168.6h0M318.4 211.9h0M377.5 142.2h0M327 147.3h0M313.2 152.2h0M349.8 127.5h0M332.2 214.5h0M372.9 197.5h0M347 115.4h0M354.6 194.8h0M322.6 185.4h0M356.4 173.7h0M407.3 181.6h0M326.3 181.6h0M378.8 123.8h0M371.6 131h0M354.6 180.7h0M365.4 216.5h0M359.8 142.8h0M362.2 217.2h0M294.4 153h0M364.3 124.4h0M337.9 173.1h0M410.1 139.9h0M304.8 141h0M397.1 125.6h0M335 175.4h0M406.7 127.1h0M340.9 135.3h0M396.2 128.9h0M352.4 152.8h0M318.6 147.4h0M321.2 168.7h0M405.4 150.1h0M352.5 149h0M401.4 151.9h0M348.6 139.6h0M335.6 179.9h0M287.2 155.7h0M309.2 177.4h0M393 170.4h0M309.4 127.6h0M380.1 202.8h0M330.4 122.5h0M378.5 190.9h0M400.1 166.8h0M391.9 192.3h0M392.6 132.9h0M413.7 187.3h0M349.5 118.5h0M337.4 178.1h0M387.4 149.4h0M313.3 142.1h0M327.3 202.6h0M319.3 185.7h0M411.3 172.5h0M326.1 186h0M355.2 186.2h0M402.7 143.9h0M416.2 110.7h0M393 185h0M401.3 134.3h0M333.2 156.6h0M388.9 146.4h0M396.5 148.8h0M353.7 179.4h0M372.7 200.6h0M335.8 154.9h0M287 202.5h0M383.1 201.1h0M313.7 159h0M390.5 165.9h0M380.9 192.4h0M326.6 135.3h0M369.5 159.1h0M382.5 205.9h0M407.9 170.9h0M359.7 151.2h0M417.1 182.5h0M407 149.7h0M348.8 166.4h0M341.9 145.2h0M292.9 156.9h0M386.5 176.2h0M365.5 168.8h0M330.8 161.4h0M326.4 159.1h0M287 149.9h0M400.7 159.8h0M445.6 124.6h0M390.8 127.6h0M385.1 169.5h0M304.3 146.7h0M347.2 194.9h0M359.7 116.3h0M394.9 191.4h0M343.1 195.7h0M338.8 130.5h0M325.4 149.8h0M358.6 184.9h0M377.3 152.2h0M331.1 146.1h0M286.8 149.4h0M322.9 178h0M330.4 186.6h0M375.9 160.7h0M344 225.7h0M399.8 169.1h0M294.1 176.1h0M386.9 113.1h0M325.7 141.3h0M469.7 107.4h0M385.4 161.5h0M408.1 155.2h0M320.8 147.7h0M394.3 126.4h0M280 202.2h0M407.8 177.2h0M289.7 210.2h0M353.1 167.2h0M353.8 188.3h0M328.4 163.9h0M394.5 154h0M368.9 142.9h0M367.5 190.3h0M369.5 235.2h0M377.2 131h0M385.8 133.1h0M345.7 174.9h0M327.1 125.4h0M336.2 167.1h0M317.9 167.5h0M401.6 221.4h0M354.6 187.9h0M319.2 129h0M389.7 120.3h0M364.3 205.6h0M383 155.1h0M386.7 204.6h0M350.2 117.1h0M294.4 148.1h0M378.4 195.2h0M341.7 142.2h0M380 155.1h0M367.2 120.5h0M386.5 251.4h0M337.4 186.9h0M339 135.6h0M322.8 123.3h0M334.8 171.7h0M406.7 195.2h0M289.8 153.4h0M313.1 199.9h0M315.6 223.1h0M335.2 134.6h0M368.2 209.1h0M354.1 156.8h0M380.8 131.2h0M362.7 238h0M303.4 159.8h0M395 168.2h0M356.8 140.2h0M344.9 151.6h0M336.5 189.2h0M351.4 193.4h0M358.8 178.5h0M353.9 123.7h0M355.9 176.1h0M362 143.5h0M353 120.1h0M382.5 131h0M381.3 201.7h0M374.6 205.6h0M291.8 149h0M331.1 185.4h0M334.5 145.3h0M366.9 119.3h0M359.6 179.2h0M345 174h0M388.2 165.6h0M317.8 171h0M366.4 209.4h0M439.2 168.8h0M306.2 131h0M393.9 140h0M411.7 165.5h0M364.4 161.1h0M383.5 123.5h0M470.6 220.7h0M309.7 149.7h0M322 168.6h0M341.8 198.7h0M356 136.7h0M338 205.1h0M342.3 173.8h0M301.9 168.4h0M346.7 160.7h0M402.1 173.2h0M381.6 167.7h0M380.6 157.1h0M382.2 135.5h0M357.5 195.5h0M394.8 187h0M400 192h0M391.4 129.1h0M410.3 194.9h0M313 135.6h0M362.8 198.6h0M364.7 128.3h0M364.8 134.9h0M365.2 201.9h0M337.4 158.3h0M302.9 128.5h0M376 204.1h0M332.3 173.6h0M302.6 169.5h0M352.5 114.3h0M355.9 126.3h0M406.2 184h0M364 179.3h0M404.9 165.5h0M420.7 177.3h0M317.5 132.5h0M332.3 158.2h0M348.1 163.5h0M345.6 145.5h0M297.7 167.5h0M373.6 136.6h0M386 150.3h0M318.6 155.6h0M355.6 180h0M296.7 156.9h0M352.6 220.5h0M311.2 154.6h0M372.2 170.2h0M358.9 124.4h0M397.7 153.3h0M390.2 131.7h0M383.1 138.6h0M412 178.7h0M392.3 117.8h0M300.8 155.3h0M421.9 129.5h0M419.6 148.1h0M323.1 144h0M403.5 126.1h0M334.7 159.6h0M404.8 175.2h0M348.5 184.3h0M355.8 201.6h0M328.6 170h0M342.3 176.6h0M379.1 166.4h0M392.2 196.1h0M387 152.6h0M307 135.4h0M344.5 124h0M344.3 142h0M372.5 144.2h0M337.7 157.7h0M338.2 145h0M333 153.3h0M405.6 207.1h0M348.4 179.8h0M376.3 175.8h0M327.5 129.5h0M389.7 127.8h0M351.2 137.3h0M345.6 194.9h0M376.9 132.4h0M357.4 175.8h0M365 130.5h0M331 124.6h0M325.2 123.8h0M380.9 192.1h0M316.3 153.4h0M337.2 191.1h0M322.9 166.4h0M321 149.4h0M298.7 138.1h0M403.6 184h0M312.8 145h0M382.2 159.8h0M364.6 192.4h0M315.8 141.1h0M355.2 165.6h0M363 182.2h0M381.6 156.2h0M414.4 128.9h0M345.4 167.7h0M384 127.6h0M356.1 162.7h0M396.1 225.9h0M392 230.3h0M347.2 185h0M378.3 138.4h0M344.8 157.5h0M388.3 206.7h0M293.9 178.8h0M396.8 169.8h0M353 123.3h0M375.3 117.2h0M396.1 174.9h0M319.5 124h0M328.1 172.3h0M331.3 162.1h0M386.4 128.1h0M325.9 126h0M372.9 131.8h0M289.1 142.2h0M393.8 138.8h0M381 196.2h0M357.3 125.2h0M372.9 160.6h0M407.3 209.9h0M359.1 135.6h0M324.3 176h0M363.2 120.9h0M315.7 131.3h0M393.9 164.9h0M348.1 146.8h0M321 128.2h0M396.5 185.6h0M354.9 188.8h0M358.9 171.2h0M377 148.9h0M365.1 160.3h0M317 155h0M375.6 160.3h0M394.7 185.4h0M339.8 195.8h0M374.1 168.3h0M378.1 217.6h0M383.5 165.4h0M342.8 128.2h0M302.2 170.8h0M334.7 147.9h0M344.8 133h0M371.6 201.3h0M391.1 176h0M432.6 158.6h0M416.3 196h0M310.8 148.2h0M335.5 119.4h0M342.3 133.3h0M381.9 187.5h0M345.2 145.9h0M396.6 144.4h0M300.5 137h0M387.7 211.8h0M362.1 127h0M370.3 170.6h0M364.1 138.3h0M346 195.6h0M304.4 131.6h0M347.8 124h0M409.8 136.9h0M333.4 166.8h0M354.9 180.1h0M374.7 115.5h0M418.7 189.6h0M305.6 158.4h0M311.1 187.2h0M336.2 220.5h0M314.6 161.8h0M387.4 135.4h0M348.5 173.4h0M355.9 144.9h0M343 159.1h0M384.6 176.7h0M358.5 148.6h0M302.4 155.9h0M379.7 173.6h0M399.6 156.4h0M297.5 149.3h0M425.7 139h0M367.1 123.6h0M323.4 177.5h0M317.3 161.6h0M317.9 153.1h0M329.6 175.5h0M399.8 216.2h0M365.8 139.3h0M397.2 129.4h0M366.2 210.3h0M303.5 142.5h0M371.5 119.2h0M401.2 204.4h0M335.4 186.6h0M372.5 187.9h0M333 186h0M353.5 115.3h0M371 193.1h0M400.5 150.3h0M333.4 126.5h0M373.5 203.3h0M341.7 167h0M356.5 153.6h0M366.3 123.8h0M351.4 186.7h0M363.3 215.7h0M377.4 161.8h0M366.7 192.8h0M311.6 147.3h0M361.7 164.3h0M321.9 132.8h0M393.4 152.5h0M343.1 125.7h0M396.6 171.7h0M363.6 154.8h0M388.5 213.7h0M382.4 202.3h0M384.8 135.9h0M314.6 131.8h0M353.3 181.9h0M329.7 177.9h0M313.5 223h0M318 184.7h0M324.4 137.2h0M393.9 126.4h0M385.5 176.5h0M349.9 159.5h0M335.7 133h0M312.9 160.4h0M399.3 175.5h0M317.6 132.2h0M354.9 224.7h0M345.5 187.5h0M312.5 145.8h0M380.4 162.3h0M333.3 155.5h0M333.4 187h0M356.8 162.3h0M360 147.8h0M363.6 209.2h0M397.5 145.1h0M387.1 161.4h0M422.8 155.5h0M314.6 130.4h0M367.9 110.4h0M299.3 148h0M390.4 170.8h0M353.2 169.6h0M300.3 158.3h0M368.8 139.4h0M338.7 179.2h0M388.3 196.3h0M388.4 149h0M370.9 117.5h0M392.6 155.8h0M293.3 153.5h0M366.4 125h0M367.1 163h0M331.4 154.9h0M433.2 203.9h0M369.9 191h0M380.8 168h0M340.2 135.3h0M324.7 187.7h0M336.1 208.2h0M378 200.8h0M325.3 144.8h0M329.1 128.2h0M401 154.6h0M431.8 175.4h0M370.3 202.1h0M404.2 133.5h0M380.4 198.6h0M337.1 162.4h0M384.2 128.3h0M375.1 153.6h0M403.2 146.5h0M356.6 145.1h0M321.5 140.5h0M330.6 193h0M373.1 135.4h0M403.7 177.7h0M322.7 148.2h0M339 200.4h0M379.8 141.2h0M337.1 184.2h0M311.2 129.7h0M413.1 164.7h0M363.4 194.2h0M355.7 202h0M353.3 185.1h0M337.2 169.6h0M341.7 134.8h0M331.1 153h0M349.7 140.2h0M433.4 120.2h0M320.3 140h0M376.5 188.4h0M381.5 137.2h0M386.2 149.4h0M388.4 189.9h0M349.8 155.6h0M333.3 138.2h0M323.6 205.4h0M369.3 180.5h0M339.7 212.2h0M336.9 158.9h0M349 139.4h0M359.1 230.7h0M341.5 164.6h0M339.6 205.3h0M335.4 138.3h0M380.9 171.8h0M408.5 157.4h0M345.6 208.1h0M305.1 175.2h0M381.7 141.6h0M310.8 159.3h0M340.9 128.6h0M369 224.7h0M389.3 170.5h0M326.1 186.1h0M302.8 174.3h0M384.6 173.3h0M382.4 166.1h0M315.7 199.8h0M357.2 132.9h0M348.2 206.1h0M387.7 135.8h0M409.3 176.5h0M402.3 146.7h0M352.7 161.9h0M405.9 158.5h0M354.1 146.4h0M310.6 158.7h0M300.3 129.6h0M302.3 158.1h0M372.9 173.1h0M306.2 158.2h0M375.7 142.4h0M359.7 124.2h0M384 170h0M378.5 188.4h0M376.9 139.1h0M319.7 184.4h0M339.7 134.6h0M358.3 196.1h0M302.4 170.7h0M390.3 125.6h0M398.5 120.5h0M383.5 115.7h0M402.1 178.6h0M338.2 134.9h0M308.2 141.6h0M361.3 215.9h0M385.9 137.1h0M385 160.7h0M354.2 164h0M357.1 124.8h0M341.1 189.8h0M333 134h0M354.4 201.4h0M383 151h0M364.6 167.9h0M351.7 132.6h0M389 154.6h0M332 153.2h0M341.6 131.8h0M358.1 208.8h0M308.6 150.7h0M328.3 144.2h0M328.2 196.4h0M333.1 152.8h0M370.2 184.1h0M394.8 144.2h0M325.9 182.1h0M303.8 156h0M368.6 134.5h0M309.9 155.2h0M339.6 185.7h0M404.4 176.8h0M304.8 136.3h0M358 127.6h0M414.7 185.4h0M371.9 170.7h0M335.6 151.6h0M370.7 151.7h0M392.4 140.4h0M323.4 129.2h0M300.4 150.4h0M353.5 205.3h0M293.7 140.1h0M371.1 148.2h0M324.9 124.3h0M348.2 203h0M368 113.5h0M386.3 126.1h0M388.9 150.2h0M314.3 161.4h0M360.4 205.5h0M393.4 130.6h0M362.9 123.2h0M361.1 128.4h0M322.7 163.3h0M334.9 166.8h0M318.1 154.3h0M324.1 145h0M334.3 166.8h0M383.8 141.7h0M396 207.5h0M386.2 187h0M307 174.1h0M332.2 176.1h0M346.7 201.8h0M343.6 222.8h0M358.4 164h0M364.3 153.5h0M394 120.5h0M304.2 175h0M355.8 127.4h0M306.6 187h0M318 162.7h0M322.5 125.6h0M378.8 137h0M343.3 161.3h0M337.6 121.4h0M308.4 165h0M340.1 187h0M358.3 162.5h0M335.5 187.5h0M369 191.5h0M394.1 148.2h0M393.7 169.6h0M305 173.3h0M293.4 151.1h0M408.4 121.8h0M388.2 154.7h0M426.8 205.4h0M379.2 124.2h0M367.1 170.6h0M380.7 187.3h0M300 135.5h0M371.7 189.6h0M354.9 225.1h0M311.3 141.9h0M388.4 181.3h0M381.5 151.5h0M404 122.2h0M374.9 120.6h0M390.8 153.3h0M312.2 173.9h0M378 181.3h0M299.8 159h0M355.6 175.7h0M409.2 157.4h0M392.1 113h0M295.2 181.9h0M393.6 178.3h0M328.9 149.7h0M277.5 174.3h0M372.4 126.4h0M299 201.7h0M355.7 141.4h0M369.3 125.1h0M365.8 189.4h0M369.2 192.2h0M335.3 171.1h0M367.3 196.2h0M455.4 170.5h0M320.5 147h0M398.3 139.4h0M312.3 144.3h0M415 145.8h0M379 124.4h0M371.4 168h0M378.8 149.4h0M318.3 187.2h0M317.4 149.8h0M313 150.6h0M414.9 161.6h0M403.8 146.1h0M373.8 151.5h0M304.9 151.9h0M324.5 144.6h0M372 192.2h0M377.7 126.9h0M318.8 125.7h0M346.8 211.4h0M327.7 187.6h0M412.3 186.7h0M320.5 172.8h0M348.2 149.6h0M410.2 128.6h0M335 178.4h0M387.3 178.8h0M365.4 215.4h0M404.2 198.1h0M307.1 148.8h0M360.2 163.7h0M382.7 123.6h0M384.4 179h0M397.5 164.7h0M371.6 134.6h0M397.8 160.5h0M348.9 126.3h0M396.6 117.1h0M380 205.8h0M400.2 199.4h0M370.5 201.9h0M360.2 111.6h0M401.5 172.1h0M333.5 120.3h0M306.1 135.4h0M349.2 122.9h0M365.4 215.9h0M355.9 148.5h0M388.2 157.6h0M380.9 176.4h0M378.6 183h0M315.4 130.9h0M415.7 147.2h0M402.5 210.2h0M391.9 133.6h0M314.8 133.3h0M381.8 137.4h0M358.5 154.9h0M367.7 112.8h0M371.1 190.7h0M397 141.7h0M306.4 150.1h0M375.6 143.9h0M324.2 164.7h0M323.5 173.8h0M298.4 130.5h0M324.2 148.7h0M348.3 157h0M342.3 126.2h0M313 125.2h0M378.3 151.3h0M323.4 184.3h0M342.8 168.8h0M297.9 188.3h0M358.5 180.6h0M409.4 145.9h0M375.9 182.3h0M326.4 185.2h0M358.1 161.8h0M400.7 194.9h0M386.4 160.4h0M319.2 169.3h0M365.2 143.8h0M316.9 160.2h0M309.6 155.9h0M379.5 155.7h0M375 162.1h0M422.9 154h0M314.8 173.6h0M391.2 186.6h0M348.3 171.8h0M393 168.1h0M305.1 143.9h0M405.7 170.1h0M387.6 165.1h0M372.2 157.3h0M386 168.5h0M403.1 125.7h0M383.7 128.8h0M328.3 153.5h0M392.6 160.4h0M381.9 173h0M375.2 174.2h0M365.8 195.7h0M320.2 208.9h0M327 165.3h0M405.1 140.1h0M330.7 133.7h0M377.8 216.9h0M365.8 146h0M309.8 184h0M332.4 124.5h0M326 186.5h0M318.8 145.7h0M280.5 147.7h0M384.5 147.1h0M339.2 138.8h0M356.6 128.9h0M370.5 143.2h0M376.6 116.5h0M405.5 198.1h0M424 159.5h0M365.3 202.6h0M381.1 172.2h0M355.6 200.5h0M355.5 147.2h0M328.4 152.7h0M381.7 171.3h0M364.6 140.5h0M358.2 175.9h0M365.5 170.1h0M357.3 188h0M331.2 138.3h0M303.3 155.1h0M324.4 176h0M413.8 194.9h0M326.9 144.5h0M383.9 202.1h0M390.2 189.4h0M306.8 149.2h0M381.7 131.5h0M344.8 153.2h0M323.2 185.5h0M386.5 147h0M350.7 136.1h0M308.4 173.8h0M364.9 121.2h0M359.9 151.8h0M331.1 179h0M408 162.6h0M325.6 170.9h0M357.4 158.5h0M350.1 213.2h0M387.2 139.1h0M315.7 159.9h0M372.9 144.7h0M419.3 193h0M359.1 142.1h0M364.5 118.6h0M389.3 195.3h0M347.5 156h0M354.2 145.8h0M304.7 153.2h0M398.9 151.3h0M384.6 172.3h0M326.1 123.9h0M384.3 138.9h0M344.8 185.9h0M307 151h0M380.3 118.3h0M399.6 114.7h0M323.2 128.4h0M412.1 174.3h0M379.9 154.7h0M320.9 167h0M345.2 170h0M394.7 144.8h0M322 170h0M354 278.9h0M390.1 184.8h0M407.8 156.9h0M378.6 138.7h0M328.8 174.4h0M383.8 111.7h0M402.7 169.5h0M356.6 139.4h0M371.5 189.7h0M325.4 173h0M401 202.4h0M377.1 141.9h0M332.5 193.6h0M327.7 122.2h0M378.1 203.2h0M376 131.4h0M424.1 189.3h0M308.5 132.2h0M309.7 158.1h0M333.9 122.7h0M352.3 142.4h0M425.4 173.7h0M388 171h0M356.2 191.1h0M352.8 195.1h0M343.9 197.7h0M340.9 190.1h0M311.3 145.2h0M310.5 130.5h0M302 145.2h0M400.6 192.3h0M303.8 176.4h0M394.3 120.7h0M355.7 146h0M325.5 141.3h0M319.7 150h0M413.1 156.7h0M364.8 115h0M307.8 159.8h0M350 116.7h0M338.2 140.2h0M366.2 114.1h0M381.8 136.8h0M380.3 163.2h0M360.1 184.4h0M366.3 239.3h0M345.6 190.5h0M362.2 144.9h0M376.3 190.9h0M327.1 199.2h0M347.5 190.7h0M317.7 129.4h0M397.2 198.5h0M398.8 212.1h0M345.3 165.5h0M367 175.1h0M442.1 178.8h0M338.8 196.2h0M379.4 148.1h0M355.5 205.4h0M397.5 130h0M361.6 199.3h0M349.3 154.5h0M318.9 134.4h0M350.3 167.6h0M394.7 190.5h0M368.1 117.3h0M408.1 139.8h0M326.8 160.8h0M335.4 186.8h0M372.5 112.9h0M378.5 136.6h0M371.9 123h0M379.8 153.8h0M353.9 196.2h0M392 151.3h0M353 164h0M358 195.6h0M329.9 159.4h0M309.4 168.5h0M416.6 195.3h0M331.5 150.6h0M394.3 157.3h0M422.5 177.2h0M374.7 144.3h0M326.1 162h0M342.5 130.6h0M320.4 171.2h0M357 159.5h0M358.6 129.5h0M347.5 155.7h0M377.9 140h0M307.8 180.8h0M328.5 177.5h0M377.2 198.1h0M306 156h0M411.4 153.4h0M347.5 145.4h0M404.6 160.6h0M409.7 158.3h0M369.5 173h0M323.6 125.7h0M330.2 165.8h0M331.7 145.5h0M313.5 165.7h0M360.7 113.7h0M404.1 174.9h0M368 159h0M378.2 116.3h0M353.3 151.3h0M340.8 169.7h0M356.7 134.6h0M337.4 209h0M361.7 152.7h0M362 131.5h0M412.3 165.1h0M385.8 140.6h0M418.3 138.8h0M380.7 161.7h0M331.5 181.4h0M361.3 131.2h0M344.4 176.9h0M382.7 198.5h0M364.9 158.1h0M317.1 139.2h0M383 208.1h0M360.5 138.5h0M339.2 181.3h0M382.5 173.2h0M371.9 181.4h0M387.9 161.3h0M341.2 163.6h0M311.1 141.4h0M365.9 193.1h0M359.5 143.9h0M336.2 171.5h0M304.6 161.6h0M386.3 123h0M358.6 196.6h0M306.8 157.2h0M315.5 154.7h0M353 155.8h0M349.5 177.8h0M371.5 159.6h0M397.3 133h0M367.6 172.7h0M419.7 156.4h0M325.5 176.9h0M376.6 177.4h0M403.9 188.8h0M383 108.4h0M364.2 256h0M390.6 162.2h0M351 174.4h0M354.3 168.8h0M399.2 172.8h0M349.5 124.6h0M356.3 160.1h0M325.7 125.3h0M403.9 184.1h0M402.9 174h0M377.8 133.9h0M406.1 137.2h0M321.3 192.1h0M315.2 162.4h0M321.2 144.8h0M318.9 144.6h0M379.4 124.9h0M389.6 162.9h0M348.3 129.5h0M389 125.6h0M307.6 133.9h0M379.4 130.5h0M386.7 113.4h0M377.6 184.2h0M310.1 170.5h0M399.4 158h0M371.1 163.6h0M305.6 152.1h0M336.8 178.9h0M313.1 138.5h0M289.7 147.1h0M351.7 177.5h0M328.2 123.8h0M366.2 188.9h0M341.5 209.8h0M403.1 173.1h0M393.7 131.9h0M333.5 179.7h0M329.1 131.1h0M389.4 123.8h0M334.9 136.4h0M297.4 149h0M345.9 199.2h0M417.7 140.5h0M339.1 205h0M355.9 126.4h0M377 199.6h0M365.7 208.9h0M313.6 138.4h0M389.9 190.6h0M352.8 117.7h0M323.6 144.9h0M392.7 126h0M341.4 200.5h0M393.1 149.5h0M333.4 166h0M348.2 118.8h0M345.9 151.8h0M393.2 128.2h0M367.2 201.5h0M340.8 189.5h0M394.3 132.9h0M372 195.3h0M297.1 164.3h0M376.2 115.6h0M397.9 168.3h0M421.7 187.7h0M402.3 196.7h0M379.1 226.3h0M393.1 142.7h0M347.3 211.6h0M393.9 186.5h0M303.9 135.1h0M352.9 124.1h0M353.2 124.9h0M350.1 121.6h0M389.5 126.6h0M312.6 172.8h0M312.2 136.1h0M377.7 143.8h0M341.3 171.7h0M304.1 135.9h0M366.3 167.3h0M401.8 138.8h0M338.3 181.7h0M329.9 145.3h0M355.4 164.3h0M320.2 188.6h0M360.1 127.1h0M370.4 177.3h0M374 196.2h0M421.9 178h0M396.4 137.3h0M413 194.1h0M400.9 142.7h0M339.1 126.5h0M391.3 133.7h0M369.9 181.7h0M399.9 139.1h0M382.9 185.5h0M311.2 174.6h0M350.4 179.4h0M412.7 161.2h0M434.1 120.7h0M403.5 189h0M292.7 144h0M319.6 140.4h0M318.4 173.4h0M391 145.8h0M327.5 124.2h0M402.1 145.9h0M330.9 128.9h0M349.3 142.3h0M343.8 215h0M339.6 179h0M338.8 162.7h0M397.8 235.4h0M389.3 148.2h0M334.4 130.7h0M402.7 171.5h0M350.7 114.6h0M414.4 172.5h0M388.7 170.4h0M394.5 127.8h0M330 193.4h0M366.1 127.3h0M368.6 184h0M353.8 114.1h0M372.7 146.5h0M389.1 185.6h0M339.8 158h0M339.1 132.7h0M355.4 171.1h0M342.8 154h0M345.1 217.1h0M280.1 157.6h0M374.4 173.4h0M418.2 228.8h0M363.2 211.1h0M341.9 184.1h0M315.7 163h0M369.6 129.8h0M327.4 193.1h0M358.6 138.2h0M343.3 125.7h0M366.6 151.1h0M323.5 130.3h0M343.8 141.4h0M393.5 183.9h0M382.1 111.4h0M373 136.2h0M393.7 186.1h0M384.7 181.6h0M347.3 181.7h0M377.5 197.7h0M379.2 118.3h0M388.4 118h0M315.2 150h0M334 172.4h0M358.2 196.1h0M295.8 133h0M363.3 250.4h0M366.1 131.1h0M396.1 189.7h0M384.4 153.3h0M314.6 135.3h0M356.3 130.6h0M390.7 185.1h0M370.1 112.3h0M326.2 151.9h0M379.6 201.9h0M380.5 153.1h0M336.7 170.7h0M343.8 197.1h0M392.7 167.1h0M323.3 131.5h0M411.6 159h0M431.7 153.8h0M411.9 131.8h0M362.4 196.2h0M291.8 162.5h0M334.7 175.6h0M350.5 140.5h0M388.8 183.8h0M380.6 178.6h0M367.7 118.8h0M353.3 155.2h0M339.8 183.9h0M398.1 167.8h0M387.3 147.5h0M355.7 119h0M360.2 207.6h0M370.6 195.7h0M349.1 123h0M368.1 160.5h0M376.2 146.8h0M374 182.7h0M395.9 163h0M406.6 179.3h0M344.9 194.9h0M361.9 164.4h0M325.7 176.6h0M324 149.2h0M415.2 161.7h0M387.1 196.1h0M375.6 158.4h0M368.6 116.3h0M393.2 187h0M377.3 222.2h0M364 135.9h0M313.2 183h0M336.5 175.2h0M379 141.6h0M312.7 173.4h0M369.3 152.7h0M411.3 149.1h0M310.9 134.4h0M325.6 198.2h0M302.3 149.9h0M324.5 149.7h0M342.6 189h0M332.6 155.2h0M318.9 163.9h0M322.9 133h0M382.1 164.4h0M312.1 178.5h0M384.7 169.8h0M355.3 188h0M364.4 196h0M313 143.7h0M348.8 138.2h0M377.3 140.8h0M397.9 162.9h0M331 144.7h0M360 157.1h0M381.1 125.1h0M362.2 215.6h0M376.9 133h0M335.4 205h0M373.5 176h0M344.4 157.7h0M328.9 170.2h0M342.1 123.4h0M343.1 141.7h0M358.4 152.2h0M430 139.2h0M349.4 192h0M394.8 153.8h0M396.2 221.2h0M362.7 190.3h0M382.6 129h0M341.8 140.7h0M376.2 178.8h0M348.1 118.5h0M325.1 138.7h0M353.8 119.9h0M368.3 139.3h0M375.7 182.2h0M396 158.4h0M365 110.7h0M344.1 163.9h0M318.5 205.3h0M295.9 138h0M363.2 132.6h0M370.1 121h0M358.6 120.9h0M355.9 133.9h0M405.2 232.2h0M417.2 152.3h0M330.3 169.7h0M306 144.8h0M327.2 146.2h0M376.2 191.5h0M328.8 141h0M418.3 174.1h0M334.4 153.2h0M377.9 116.2h0M405.3 220.3h0M411.2 213.9h0M370.6 122.8h0M310.6 145.7h0M365 158h0M349.7 161.4h0M372.1 138.2h0M314.6 158.6h0M343.2 157.2h0M343.9 127.1h0M312 134.9h0M372.5 181.9h0M335.7 160.8h0M335.1 184.2h0M405.4 168.4h0M295 151.4h0M362.1 114h0M316.3 173.1h0M416.8 115.9h0M363 138.4h0M328.7 152.2h0M380.5 183h0M449.1 144.9h0M406 190.2h0M364.8 158.6h0M374.9 116.7h0M312.3 172.5h0M349.3 152.5h0M311.6 131.2h0M393.4 152.4h0M387.4 150.9h0M329.2 155.8h0M397.5 266.1h0M286.2 173.5h0M323.4 154.5h0M416 151.9h0M329 132h0M342 164.4h0M372.4 142.6h0M374 132.2h0M374 117.3h0M377.4 158.9h0M428.7 155.6h0M357 185.3h0M315.2 166.9h0M352.8 178.6h0M330.7 171.8h0M361.5 147.3h0M357.9 125.7h0M370.2 156.8h0M310.9 175.7h0M365.3 149.7h0M391.2 136.6h0M337.5 141.6h0M298.7 129.9h0M355.6 180.8h0M331.4 172.5h0M337.2 176.9h0M326.5 149.6h0M423.9 167.9h0M415.8 156.9h0M396.8 130.2h0M374.1 142.8h0M364.2 209.2h0M386 154.2h0M397.5 137.8h0M408.6 143.3h0M320.7 137.6h0M393.3 175.6h0M403.1 144.9h0M335.3 178h0M394.6 133.4h0M348.1 248.4h0M360.8 182.9h0M377.5 184.1h0M461.9 182.6h0M285.9 140.6h0M350.7 184.1h0M328.5 177.9h0M340.3 169.6h0M394.7 158.7h0M369.2 142.6h0M339.4 118.1h0M383 190.4h0M355.6 172.9h0M341 182h0M318.5 146.3h0M312.4 130.1h0M371.9 176.1h0M361.5 147.8h0M390.2 140.2h0M311.2 162.3h0M336.6 142h0M338.4 171.1h0M345.4 216.2h0M317.5 174.1h0M293.3 147.2h0M397.6 132.7h0M391.9 171.1h0M308.3 134.6h0M320.6 157.5h0M318.2 142.6h0M394.3 155.5h0M358 177h0M379.7 179.4h0M298.8 151.7h0M302.5 142.1h0M307.1 163.6h0M296.9 134.9h0M336.2 163.2h0M357.4 193.9h0M373.6 148.9h0M334 209.8h0M370.5 193.5h0M380.7 141.9h0M285.4 160.6h0M369.6 161.8h0M338.7 187h0M377.8 168.6h0M371.1 138.7h0M305.1 177.5h0M336.7 175.5h0M319.1 170.2h0M304.3 153.4h0M360 163.1h0M307.2 203.1h0M383.2 147.1h0M350.1 200.5h0M379.3 202.3h0M408.8 170.4h0M404 178.5h0M329.9 163.1h0M363 183.7h0M398.7 136.3h0M387.2 204.2h0M297.6 142h0M324.8 144.1h0M365.7 168.9h0M302.6 153h0M382.8 108.3h0M303.1 138.9h0M301.3 135.5h0M388.6 134.9h0M338.8 133.8h0M328.5 174.9h0M360.2 203.8h0M399.9 206.5h0M378.9 188.9h0M305.4 150.7h0M341.5 179.8h0M390.1 210.8h0M370.1 140.3h0M379.2 174.3h0M407.3 168.8h0M357.6 182.8h0M321.2 178.8h0M373.9 129.5h0M379 195.6h0M344.1 180.7h0M395.4 138.2h0M395.5 224.7h0M355.7 177.2h0M379.2 143.2h0M397.9 139.4h0M385.6 215.9h0M336.1 163.8h0M369.6 152.8h0M358.9 189.9h0M293.6 167.5h0M309.1 155.8h0M356.1 196.9h0M374.3 148.7h0M337.2 128.6h0M370.7 109.2h0M412.5 140.9h0M382.7 208.5h0M312.5 130.3h0M397.8 182.7h0M388.7 134.1h0M295.7 161.1h0M395.6 164.8h0M349.5 147.1h0M397.1 186.7h0M447.1 165.3h0M327.1 185.8h0M340.9 128.8h0M435.4 204h0M392.1 159h0M405.1 166.8h0M361.3 172.3h0M395.8 159h0M332.2 141.7h0M322.7 130.3h0M322.3 162.1h0M307 142.1h0M350.1 165.3h0M445.7 112.4h0M433 179.5h0M310.2 162.5h0M384.4 134.6h0M365.1 152.7h0M404.3 187.4h0M366.1 126.9h0M313.9 142.5h0M366.5 134.9h0M367.4 184.8h0M397.9 141h0M335.8 193.8h0M360 159.8h0M371.9 132.3h0M333.4 127.5h0M332 166.4h0M349.6 152.4h0M402.8 160.1h0M418 113.2h0M390.8 193.4h0M306.4 143.6h0M370.5 192.7h0M368.9 129h0M329.2 145.9h0M368.3 202.8h0M319.3 187.6h0M397 146.9h0M355.9 179.9h0M376.9 144.6h0M377.7 158.9h0M365.8 133h0M403 154.8h0M319.4 138.2h0M317.8 135.2h0M395.5 171h0M380.2 107.3h0M337.6 136.8h0M418.6 137.9h0M369.9 155.2h0M365.1 200.2h0M270.7 148.7h0M285.6 161h0M310.1 176h0M304.4 139.6h0M345.2 171.7h0M388.5 154.7h0M363.4 142.3h0M312.9 139.6h0M390.6 129.7h0M386.5 153.4h0M388.8 186.7h0M381 146.5h0M408.8 166.9h0M366.2 167.1h0M398.2 155.3h0M346.2 141.3h0M344.7 130.6h0M331.9 168.1h0M384.9 170.3h0M369.1 125h0M359.4 199.9h0M344.8 142.6h0M290.9 135.5h0M400.9 225.7h0M395 170h0M312.8 135.5h0M342.3 150.9h0M351.8 173.9h0M348.1 150.9h0M381.2 197.3h0M351.1 200.5h0M329.1 194h0M385.1 195.4h0M372.4 147.1h0M374.5 182.1h0M368.4 127.3h0M306.4 151h0M386.5 149h0M330.3 165.9h0M362.1 132h0M285.9 152h0M371.5 184.4h0M361.2 161.3h0M322.1 160.7h0M384.6 178.1h0M288.7 183.9h0M398.5 155.3h0M318.5 128h0M367.8 182h0M382.4 154.5h0M372 117.3h0M359.8 161.6h0M392.1 192.6h0M348.5 130.5h0M338.7 147.7h0M335.6 145.8h0M338.8 153.9h0M320.6 157.1h0M325 182.8h0M355.1 177.9h0M372.1 208.4h0M340 163.6h0M330.8 131.4h0M320.4 153.9h0M396.5 170.1h0M400.3 173.6h0M307.1 147.8h0M395.6 118.9h0M355.6 174.1h0M294.1 140.3h0M318.1 129.4h0M314.4 159.6h0M347.5 176.1h0M381.9 193h0M335.1 150.2h0M394.4 127.5h0M393.6 140h0M330.1 178.9h0M318.2 163.6h0M337.7 157.9h0M332.3 148.6h0M390.7 164h0M340.8 181.5h0M356.8 163.8h0M358.8 190.2h0M344.8 187.6h0M393.7 116.6h0M363.1 207.5h0M403.8 140.8h0M328.7 209h0M347.9 117.7h0M326 146.5h0M381.8 196.8h0M376.9 141.5h0M294.7 152.8h0M375.8 140.2h0M350.3 125.6h0M328.4 177.2h0M393.3 160h0M337.2 212.2h0M384.8 136.5h0M376.8 203.3h0M353 140.8h0M325.5 163.9h0M407.7 142.7h0M372.9 161.1h0M308 133.9h0M342.7 127h0M317.1 174.6h0M412.8 184.6h0M366.7 166.9h0M339.3 177.1h0M372.7 150.5h0M452.3 177.3h0M356.3 172.8h0M376.7 187.7h0M375.6 210.4h0M348.4 195h0M376.9 167.3h0M375.7 171.6h0M363.9 131.3h0M326.9 194.7h0M282.8 176.9h0M386.7 168h0M394.4 138.8h0M420.2 188.8h0M365.5 127.9h0M332.8 119.7h0M352.5 167.2h0M389 169.1h0M367.6 110.5h0M369.9 173.2h0M390.5 137.4h0M391.8 149.6h0M320.9 161h0M376.7 176h0M330.5 181.7h0M318.9 154.3h0M364.6 137.4h0M320.5 133.4h0M327.9 125.8h0M352.6 197.4h0M360.9 174.1h0M358.2 186.8h0M364.7 155.3h0M374.7 193.1h0M316.7 157.1h0M368.6 212h0M344.2 150.6h0M373.5 127.5h0M418.6 163.5h0M388.5 144.2h0M305 188.7h0M296.4 168.2h0M361.6 150h0M373.5 193.3h0M368.7 199.3h0M367.5 163.8h0M393.8 185.4h0M343.2 152h0M417.3 193.6h0M347.8 171.6h0M301.7 130.6h0M302.6 171.2h0M337.3 137.9h0M363.8 178.7h0M405 167h0M344 147.9h0M313.5 171.4h0M314.1 131.5h0M339.1 168.5h0M340.6 161.6h0M354 187.6h0M303.4 157.9h0M370.5 165.3h0M382.4 116.7h0M367.2 120h0M392.1 129.6h0M323.7 173.9h0M373.8 153.2h0M291.1 162.2h0M371.6 159.9h0M411 193.3h0M302.6 165.2h0M414.7 188.1h0M319.1 136.7h0M323 156.9h0M305.8 135.5h0M347.4 152.6h0M368.3 184.5h0M367.3 150.2h0M362.5 152.2h0M349.1 144.9h0M347.1 192.6h0M365.7 185.6h0M327.9 150h0M386.3 186.7h0M309 170.8h0M378 158.2h0M424.2 181.5h0M410.2 177.2h0M370.7 149.7h0M305.9 128.5h0M397.3 190.4h0M323.8 172.8h0M379 131.2h0M303.2 138.2h0M303.9 148.2h0M417.3 156.6h0M345.2 121.7h0M298.7 143.2h0M391.8 175.7h0M330 150h0M350.1 158.9h0M318.7 151.1h0M411.4 171.3h0M313.1 166.8h0M320.4 189.7h0M411.9 124.6h0M402.7 192.7h0M365.5 134.3h0M300.3 173.4h0M391.9 186.5h0M353.2 150.7h0M403.9 155.3h0M400.7 215.2h0M337.1 163.8h0M334.8 147.5h0M368 153.8h0M356 209.4h0M334.2 126.8h0M328.4 139.3h0M310.6 126.7h0M324.7 151.2h0M396.4 133.6h0M396.2 142.4h0M358.7 114.9h0M376.9 200.7h0M356.8 144.7h0M388.8 136.4h0M391.8 145.2h0M341.5 159.5h0M362.7 145.3h0M376.7 168.3h0M417.9 189.1h0M379.1 193.2h0M392.9 187.1h0M370.1 110.6h0M354.9 202.9h0M402 168.7h0M364.5 197.7h0M321.3 193.7h0M314.7 162.3h0M350.5 183.5h0M337.7 165.6h0M337.8 146.8h0M357.1 167.3h0M333.4 172.5h0M357.3 160.4h0M363.6 182.2h0M389 118.4h0M296.8 134.7h0M318.9 135.3h0M422.3 201.3h0M352.8 145.1h0M414.9 159.4h0M323.7 186h0M407.2 150.7h0M341.1 163.4h0M449.7 198.1h0M378.8 172.2h0M360.1 145.1h0M346.7 198.8h0M308.7 185.4h0M342.7 177.1h0M325.8 203.6h0M345.1 233.2h0M333.1 138.1h0M338.8 130.8h0M367.4 149h0M324.7 145.6h0M348.3 187.5h0M380.2 142.1h0M393 138.3h0M406.5 140.8h0M361.2 143.1h0M387 171.2h0M361.3 162.4h0M329 208.5h0M343.4 207h0M319.9 223.8h0M350.4 137.3h0M385.1 141h0M345.5 189.2h0M338.5 134.4h0M335 168.3h0M347.7 137.4h0M338.5 170.5h0M398.8 158.7h0M383.2 125.2h0M393.5 151.4h0M376.3 165.4h0M343 146h0M424.9 220.4h0M362.3 205.3h0M311.3 129.9h0M339.5 139.3h0M403.2 198.3h0M345.5 153.4h0M394.5 199h0M305.3 157.8h0M374.1 175.2h0M360.2 168.3h0M346.9 134h0M405.6 171.6h0M328.9 165.7h0M330.2 157.6h0M380.9 170.8h0M398.6 171h0M279.2 161.8h0M358.7 137.4h0M285.4 185.9h0M376.2 124.2h0M374.9 135.4h0M420.2 174.2h0M388.2 142.6h0M362 156.7h0M322.2 194.3h0M369.3 192.3h0M341.4 200.5h0M389.1 189.9h0M451.5 179.7h0M308.6 163.5h0M339.3 153.7h0M380.9 165.7h0M333.5 182.9h0M351.9 156.1h0M380 142.8h0M389 112.4h0M354.6 134.6h0M384.1 152h0M359 194.3h0M439.8 156.5h0M316.3 146.2h0M364.6 127.6h0M358.4 181.7h0M269.4 237h0M290.6 144.5h0M352.8 130.4h0M375.8 209h0M389.5 176.1h0M419.9 165.3h0M328.1 150.9h0M371.1 146.2h0M319.2 128.2h0M304.3 146.4h0M342 191.5h0M386.7 155.6h0M355.6 161.6h0M331 132.9h0M338.7 184.5h0M357.8 114.4h0M348.2 119.6h0M367.8 151.6h0M413.7 181.1h0M311.8 142.4h0M316 156h0M459.9 131.7h0M354.6 125.3h0M389.1 187h0M411.9 207.1h0M357.3 178.6h0M364.4 193.8h0M380.9 163.8h0M384.6 231.3h0M323 168.2h0M301 128.5h0M299.6 151.1h0M344.6 232h0M338 124.1h0M304.8 137.9h0M394.6 183.6h0M461.3 151.2h0M333.8 183.8h0M343.7 187.7h0M353.7 155h0M349.1 154.8h0M323.8 176.5h0M328.4 148.4h0M391 155.1h0M356.5 169.7h0M392.3 141.9h0M362.6 142.2h0M328.2 148.2h0M306.6 135h0M334 167.1h0M355.2 158.5h0M284.7 158.5h0M386.1 174.1h0M358.1 187.4h0M408.4 130.4h0M404.3 160.5h0M346.3 190.9h0M364 134h0M403.8 191.8h0M340.5 217h0M321.8 140.7h0M354.1 188.2h0M342.6 185.8h0M391.3 195.2h0M302.7 158.8h0M322.3 182.9h0M294.9 130.9h0M349.6 161.7h0M317.3 161.6h0M354.9 185.5h0M319.8 134.1h0M401.2 158.9h0M298.7 144.9h0M322.5 135.1h0M317.5 131.2h0M411.7 176.3h0M347.6 203.7h0M367.2 131.2h0M326.7 191.1h0M349.2 150.8h0M388.3 194.8h0M343.3 193.1h0M349.3 119.4h0M311 129.3h0M313.5 158.2h0M355.5 149.9h0M375.7 194.9h0M303.6 138.6h0M357.9 155.6h0M332.3 169.2h0M379.9 156.9h0M374.5 139.1h0M353.2 124.4h0M337.7 163.7h0M341.3 170.5h0M376.5 175.2h0M356.6 170.3h0M340.5 183.3h0M370.7 199.7h0M392.4 166.1h0M312.1 161.2h0M379.3 175.8h0M410.2 151.8h0M374.8 143.3h0M406.8 168.3h0M359.4 206.8h0M408.7 177.8h0M399.1 167h0M412 187.9h0M318.2 172.5h0M356.7 130.8h0M372.2 129.1h0M392.4 198.8h0M391.2 138.3h0M371.1 220.6h0M395.6 174.2h0M340.4 136.1h0M329.9 174.7h0M375.8 184.3h0M291.1 133.2h0M322.6 163.5h0M387.1 211.5h0M390.7 189h0M391.1 134.1h0M364 175.4h0M335 120.2h0M392.6 129h0M359.5 133.2h0M421.2 186.2h0M339.1 160.7h0M399 149.2h0M303.1 146.8h0M334.5 137.8h0M300.4 157.7h0M372.5 179.7h0M320.3 127.6h0M372.9 167.2h0M420.3 219.1h0M384.4 159.9h0M331.1 142.4h0M356.8 145.5h0M372.7 212.8h0M297.9 153.5h0M354.1 184.8h0M282.7 138.4h0M335 179.2h0M370.8 127.9h0M332.1 158.7h0M340.5 187.2h0M316.6 131.5h0M352.7 212h0M356.5 132.4h0M364.7 115.8h0M301.2 143.9h0M345.7 168.7h0M371.9 151.9h0M299.3 134h0M388.5 138.8h0M307.1 154.3h0M306.6 173.8h0M350.8 213.4h0M398.2 140.1h0M306.2 164h0M371.7 184.6h0M384.1 179.4h0M302.5 144.4h0M423.7 219.3h0M394 149.2h0M388.3 190.7h0M332.2 161.3h0M410.8 152.2h0M323.4 177.1h0M337.8 162.2h0M399.4 141.8h0M388.8 181.2h0M407.5 134.2h0M372.6 198.1h0M367.8 153.2h0M443 151.6h0M339.7 185.7h0M309.2 145.8h0M331 130.7h0M348.4 149.4h0M385.5 169.9h0M343.5 138.9h0M397.1 170.4h0M403.5 185.3h0M315.4 169.9h0M392.3 158.9h0M323.2 139.2h0M325.4 148.9h0M375.6 183h0M324.8 130.8h0M349.8 120.3h0M392.7 141.4h0M387.8 129.2h0M320.9 126.9h0M367.3 167.1h0M382.4 154.3h0M393.1 206.3h0M360.6 120.8h0M320.3 130.4h0M338.6 158.7h0M399 191.5h0M348.5 169.4h0M333 151.6h0M400.6 265.1h0M337.4 202.8h0M357.8 114.4h0M397.6 163h0M314.9 159.4h0M344.2 156.1h0M368 184.4h0M397.5 156.5h0M385.9 199.9h0M345.3 154.9h0M362.1 173.6h0M369.4 221.8h0M362.7 121h0M368.5 203.8h0M353 134h0M375.1 212.9h0M342 139.5h0M329.4 167.5h0M345.8 127.4h0M387.7 142.8h0M380.5 135.6h0M403.5 157.6h0M414.2 199.5h0M349.4 125.6h0M375.8 156.5h0M423.5 203.4h0M372.4 158.9h0M318.2 140.2h0M348.3 202.6h0M342.3 192.6h0M330.7 163.8h0M366.3 133.8h0M397.9 236.8h0M293.6 159h0M328.9 169.8h0M344.8 212.5h0M356 163.9h0M356.2 121.9h0M342.9 138.4h0M365.9 182.6h0M379.3 109.8h0M405.5 176.3h0M481.6 201h0M345.6 187.7h0M364.8 169.5h0M364.5 176.4h0M386.7 114.7h0M343.2 143.9h0M315.3 138.7h0M386.2 142.1h0M353.7 119h0M322.3 145.6h0M323.8 149h0M406.5 198.2h0M373.4 159.2h0M357.3 198.8h0M342 163.6h0M367 170.5h0M385.3 169.6h0M376.5 150.4h0M376.9 130.1h0M333.8 150.3h0M337.7 121.9h0M379.9 138.2h0M359 123.1h0M346.5 115.6h0M377.5 116.3h0M404.4 173.4h0M323.5 161.1h0M344.7 139h0M307.3 164.1h0M397.5 138.6h0M324 147.9h0M379.4 134.5h0M351.9 143.8h0M388.5 129.1h0M344.1 136.2h0M360.8 167.2h0M337.5 155.1h0M347.8 171.9h0M332.3 131.2h0M377.8 106.4h0M305.3 164.9h0M351.2 139h0M328 125.6h0M399.1 181.3h0M337.7 184.1h0M386.3 156h0M436.1 177h0M382.4 184.5h0M419.4 211.5h0M401.4 165.5h0M398.4 185.9h0M359.8 115.9h0M367.1 170.8h0M353.2 142.4h0M322.7 159.2h0M293.4 161.5h0M386.6 136.8h0M371.5 141.3h0M398.1 193.3h0M349.4 198.2h0M364.4 121.5h0M362.3 195.6h0M378.1 174.8h0M310.2 154.3h0M384.3 144.1h0M373.9 178.9h0M393.1 140.9h0M320.3 154.9h0M377.3 133.8h0M393.1 189.3h0M336.9 180.9h0M362.3 157h0M386.2 121h0M300.2 158.3h0M392.6 161h0M362 159.4h0M306.1 192.3h0M291.4 181.3h0M367.6 169.7h0M348.7 171.1h0M374.3 200.8h0M354 174.9h0M361.3 185.8h0M376.4 202.6h0M349.2 137.6h0M384.6 160.6h0M367.5 141.6h0M346.6 135.1h0M364.6 194.1h0M294.7 157.7h0M334.5 176.2h0M405.5 158.7h0M350.4 153.7h0M396 181.2h0M296.9 136.8h0M391.2 142.5h0M401.2 177h0M384.8 126.2h0M341 186.1h0M321.7 184.1h0M399.6 181.5h0M384 112.2h0M436.6 187.3h0M353.8 181.9h0M357.8 198.3h0M375.4 209.8h0M310.7 152.4h0M315.4 158.5h0M336.7 173.1h0M334.8 163.5h0M380.5 199.9h0M333.1 182.6h0M343.2 159.7h0M304.6 166.3h0M323.4 129.5h0M322.9 165h0M328.9 152.9h0M348.7 131.8h0M347.4 201.1h0M424 161.9h0M347 169.1h0M305.1 191h0M354 136.7h0M401.5 138h0M380.9 159.5h0M390.1 161h0M325 162.6h0M338.5 185.9h0M329.1 182.2h0M308.2 130.9h0M364.7 127.7h0M391.2 146h0M402.4 166.4h0M313.4 127.8h0M347.7 160.3h0M310.7 130h0M373.5 186.8h0M370.4 196.2h0M362.6 143.1h0M345.4 159.5h0M382.4 190.3h0M404.3 178.8h0M368 228.2h0M394.6 138.4h0M325.5 133.4h0M331.2 170.3h0M397.1 168h0M401.7 205.1h0M379.9 183.3h0M365.5 185.2h0M383.4 137.8h0M404.7 179h0M294.4 157.8h0M385.2 158.6h0M337.2 153.9h0M409.4 187.4h0M316.7 164.3h0M357.6 112.6h0M391.8 138.7h0M389.1 135.6h0M407.2 149.6h0M358.1 219.5h0M337.1 130.3h0M403.2 203.2h0M317.8 172.4h0M392.5 144.3h0M410.9 185.2h0M397.1 141.2h0M319.9 147.5h0M366.7 129.4h0M452.3 172h0M380.5 157.6h0M399 143.8h0M355.9 205.2h0M381.3 164.4h0M385.6 197.6h0M356.1 227.6h0M290.1 141.6h0M338.7 165.9h0M321.8 169.9h0M321 137.7h0M369.3 130.4h0M432.3 168.9h0M360.9 140.3h0M386.9 195.3h0M407.7 217.8h0M304 150.6h0M381 205.6h0M347.8 207h0M335.3 225.8h0M350.1 184.8h0M395.5 150.7h0M322.6 176.4h0M421.9 151.5h0M382.6 155.9h0M398.9 185.8h0M340 192.4h0M398.2 182.4h0M379.9 127.8h0M357 164h0M379.1 213.4h0M367.2 181.7h0M380.1 155h0M348.8 160.7h0M397.5 159.5h0M418 162.3h0M365.8 114.2h0M398.1 189.4h0M397.1 150.2h0M374.7 164.9h0M428.2 201.3h0M356.3 177h0M380.4 192.2h0M365.4 158.8h0M337.1 171.9h0M363.1 193.2h0M329.9 176.6h0M395.3 201.7h0M375.4 183.5h0M353.4 172h0M368.4 174.2h0M373.6 134.4h0M312.4 135h0M407.5 254.4h0M317.6 134.8h0M397.3 166h0M396.4 159h0M423.2 174.6h0M346.2 181.5h0M384.1 116h0M373.3 198h0M325 169h0M411.1 142.3h0M400.5 121.2h0M315.5 159.3h0M416 119.9h0M355.8 162.8h0M377.1 205h0M346 142.3h0M270.7 173.9h0M307.1 164.5h0M379.3 161.3h0M313.4 163.4h0M343.6 146.4h0M377.8 183.5h0M363.8 189.2h0M402.9 151.5h0M331.8 160.6h0M352.6 213.5h0M362.3 178.2h0M300.5 176.1h0M404.3 157.2h0M324.3 123.4h0M398.9 126.4h0M382.8 121.4h0M330.1 183h0M360.9 145.3h0M421 183.6h0M404.7 208.6h0M358.8 157.9h0M442.8 169.5h0M368.3 212.8h0M414.7 166.8h0M388.7 154.6h0M307.9 131.8h0M396.7 177.6h0M403.9 130.2h0M419.6 141.4h0M364.9 199.2h0M319 151h0M303.5 136.1h0M393.3 144.1h0M377.7 135.9h0M384.3 166.3h0M324.5 143.9h0M297.1 149.3h0M390.9 126h0M384.8 182.9h0M378.9 146.6h0M385.1 165.8h0M349.9 153h0M354.6 132.1h0M345.5 159.7h0M399.4 149.3h0M301.2 153.9h0M320.4 168.2h0M330.5 162h0M346.8 149h0M314.3 131.7h0M337.3 244.9h0M338.8 160.2h0M340.5 158.8h0M393.1 150.2h0M325.9 153.4h0M395.7 156.5h0M348.3 202.5h0M417.6 193.5h0M296.5 132.6h0M305 127.6h0M382.4 136.3h0M374.4 158.3h0M339.1 151.7h0M338.8 194.6h0M305.5 148.6h0M356.9 185.8h0M345.7 188.2h0M334.1 260.5h0M314.4 133.3h0M405 164h0M318 151.5h0M290.2 183.2h0M356.5 116.8h0M399.8 174.3h0M316 167.6h0M362.3 173.5h0M369.4 157.7h0M357.3 210.1h0M316.3 147.7h0M327.9 166.1h0M371.7 142h0M339 125.2h0M351.1 120.3h0M375.8 216.4h0M417.8 161.2h0M386.8 136.1h0M327.5 159.9h0M366.9 177.2h0M314.6 152.4h0M340.2 192h0M322.6 188.8h0M373 147.1h0M411.5 194h0M336.6 158.5h0M319.1 125.1h0M403 190.6h0M356.1 115.4h0M380.2 137h0M313.3 197.1h0M412.9 112.8h0M315.5 158h0M308.2 145.7h0M356.6 143.3h0M348.7 178h0M359.4 188.8h0M354.7 114.4h0M348.4 126.8h0M366 153.8h0M414.4 166.8h0M373.2 204h0M313 125.8h0M387 159.9h0M382.8 169.5h0M345.7 179.8h0M365.7 153.5h0M373.8 176.4h0M392.4 119.5h0M316.3 155.5h0M348.3 170.2h0M334 184.8h0M368.2 193h0M388.1 131.7h0M351.7 161.3h0M352.9 158.4h0M315.5 138.8h0M378.5 174.6h0M362.5 174.7h0M342 130.7h0M346.6 142.5h0M327 132.3h0M364.5 181.6h0M390.5 139.8h0M424.6 125h0M356.1 151h0M367.7 157.3h0M356 191h0M279.8 182.7h0M293.2 132.3h0M397.1 176.8h0M350.8 121.5h0M297.7 130.3h0M382.2 191.9h0M403.6 207.3h0M404.4 188.2h0M322.8 214.3h0M401.2 157.2h0M313 169.7h0M345 167.9h0M398.3 153.8h0M405.7 193.4h0M378.1 141.5h0M374.6 165.5h0M417.3 120.6h0M375.8 159.3h0M371.5 135.1h0M358.3 138.4h0M365.7 191h0M319.5 177.5h0M420.5 129.1h0M362.8 115.1h0M348.9 172.6h0M381.2 131.2h0M377.3 182.5h0M362.1 128.5h0M395.9 155.8h0M338.2 162.9h0M412.2 145.6h0M368.5 179.9h0M292.4 145.8h0M405.3 161.9h0M327.3 147.6h0M366.9 194.2h0M385.7 203h0M316.7 180.9h0M345.8 157.5h0M295.7 141.8h0M330.4 220.4h0M375.1 153.8h0M369.4 173.7h0M385.9 135.4h0M398.4 143.3h0M323 152.8h0M363.3 172.1h0M391.1 170h0M383.9 148.1h0M390.5 125.3h0M343 122.3h0M345.8 180.8h0M342.4 180.3h0M362.4 159.3h0M357.1 157.2h0M379.3 112.4h0M357.6 193.8h0M340.7 165.2h0M364.1 130.3h0M401.6 160.2h0M329.2 153.7h0M324.5 164.2h0M337.5 131.1h0M289.8 155.8h0M382.2 184.4h0M331.7 160.8h0M321.1 172.9h0M359.2 117.2h0M395.7 182.5h0M366.1 165h0M402.5 164.5h0M358.1 125h0M322.4 145.3h0M336.1 217.7h0M341.7 169.2h0M386.1 180.1h0M408.3 191.6h0M353.3 134.6h0M369.8 115.8h0M309.9 152.2h0M336.2 164.7h0M314.6 165.5h0M360.8 192.2h0M342.9 127.8h0M303.5 131.3h0M401.4 188.1h0M325.6 150.9h0M354.6 174.7h0M323.6 131.9h0M393.8 167.4h0M297.5 192.2h0M383.9 128.5h0M389 197.3h0M334.1 150.8h0M338.5 205.4h0M357.6 223.6h0M381.1 164.6h0M335.5 125.4h0M345.5 142.7h0M377.3 157h0M365.4 137.9h0M327.1 181.3h0M377.8 181.5h0M287.5 133.9h0M405.5 169.2h0M316.2 156.6h0M413 196.2h0M379.9 115h0M306.6 199.1h0M364.5 204.4h0M374.9 140.6h0M352.8 151.2h0M338.8 200h0M285.7 171h0M383.5 186.1h0M310 174.4h0M298.8 178.6h0M427.1 177.9h0M297.6 167.7h0M345.4 142.2h0M367.9 131.9h0M363.5 203.4h0M388.5 116h0M311.1 165.9h0M335.2 156.8h0M286.4 177.6h0M423.5 178.8h0M397.3 179.1h0M370.8 166.5h0M381.7 170.7h0M411.5 195.9h0M397 207.1h0M316.4 156.8h0M329.4 133h0M272.6 192h0M391.8 128.2h0M382.7 170.3h0M303.9 140.6h0M343.1 172.8h0M369 138.6h0M328.6 133.1h0M391 129.8h0M422.2 148h0M370.1 170.9h0M379.4 140.5h0M354.4 123.6h0M395.6 183.4h0M332.3 120.8h0M394.2 120.7h0M403.6 134h0M430.2 156.6h0M352.3 128.3h0M376.6 193h0M340.2 128.2h0M397.3 142.7h0M291.4 180h0M344.1 140.9h0M385.1 136.7h0M353.5 135.9h0M340.9 139.8h0M363.3 191h0M313.5 194.2h0M341.5 191.1h0M413.9 166.7h0M324.4 155.9h0M390.1 113.8h0M314 180.4h0M370.5 192h0M361.3 150.8h0M341 177.2h0M332.5 190.7h0M320.2 172.3h0M344.3 127.4h0M322.3 134.4h0M339 118.8h0M363.1 147.6h0M369.5 128.3h0M363.3 168.7h0M373.9 136.5h0M379.2 202.3h0M339.2 156.7h0M289.9 149.5h0M323.5 138.3h0M359.8 128.4h0M372.2 143.1h0M362 197.3h0M423.5 212.6h0M396.5 155h0M307.5 155.1h0M341.2 187.3h0M362.6 188.2h0M319.3 146.8h0M338.3 155.9h0M396.5 140.5h0M324 150.8h0M373.6 108.6h0M289.8 173h0M324.5 127h0M327.3 129.6h0M337.5 182.6h0M357.7 170.8h0M368.3 144.8h0M285 139.3h0M357.6 152.6h0M359.3 164.8h0M347.5 159.2h0M394.2 198.6h0M329.9 133h0M383.1 138.4h0M407.5 152.2h0M387.2 156.6h0M322.7 170.9h0M393.3 152h0M367.8 123.4h0M312.9 133.6h0M372.4 184.8h0M324.8 124.3h0M376.7 122h0M358.5 124.1h0M393.7 203h0M387.9 145.5h0M311.3 142.1h0M379.2 158.7h0M346.3 130.3h0M296.4 171.4h0M398.3 193.7h0M431.6 224.8h0M395.3 116.7h0M392.8 190h0M393.5 153.4h0M409.2 213h0M319.7 142.7h0M355.9 126h0M381.5 153.8h0M378.5 187.9h0M338.9 168.2h0M402.9 170.9h0M398.3 163.9h0M359.5 170.8h0M395.7 184.6h0M397 166.7h0M346.4 183.3h0M353.1 163.5h0M391 167.1h0M385.7 151.8h0M351 177.9h0M317.8 126.7h0M392.6 153.2h0M290 144.4h0M402.3 122.5h0M341.7 136.1h0M373.7 179.1h0M410 117.8h0M350.2 205.4h0M327.4 195h0M339.9 150.6h0M352.4 119.2h0M296.2 134.7h0M375.3 187h0M325.3 129.4h0M318 192.2h0M386.8 142.4h0M403 201.7h0M347.5 180.4h0M414 164.6h0M354.3 137.6h0M386.2 148.9h0M405.1 177h0M354.3 173.8h0M384.6 161.3h0M359.4 136h0M307.9 145.9h0M326.4 187.8h0M403.7 214.4h0M391.8 185.6h0M313.3 126.3h0M354.3 154.2h0M358.8 169.6h0M402.6 121.2h0M331.8 173.7h0M389.6 149.9h0M338.7 156.3h0M357.8 197.2h0M418.5 154.1h0M387.7 156.8h0M309.5 126.7h0M369.6 164h0M348 193.9h0M342.2 128.9h0M353.3 142.5h0M417 179.9h0M306.7 137.9h0M355.9 204.4h0M353.9 113.5h0M337.2 130.5h0M407.2 182.4h0M403.7 132.7h0M389.3 154.3h0M339.9 168h0M369 182h0M379.3 144.6h0M314.2 133.4h0M393.8 201.3h0M384.9 149.8h0M370.3 110.8h0M412 207.6h0M336.7 142.1h0M371.5 123.5h0M402.7 203.6h0M365.1 183.9h0M369.8 132.6h0M313.4 135.4h0M402.8 178.4h0M347.5 176.2h0M387.9 178.4h0M334.8 191.3h0M398.2 142.1h0M304.6 168.4h0M380.6 219.2h0M396.5 187.6h0M383.9 191.2h0M412.8 141.5h0M350.3 134.7h0M318.3 151.6h0M392.1 159.1h0M334.3 129.6h0M364.2 132.9h0M297 133.5h0M303.3 131h0M377.9 190.1h0M356.6 212.1h0M374.5 168.3h0M393 173.9h0M340.1 129.5h0M309.3 152.9h0M393 191.1h0M406.9 127.8h0M330.2 142.5h0M305.5 136.2h0M335.7 128.7h0M409.9 159.6h0M359.3 153.6h0M373.2 123.2h0M370.6 128.7h0M381.7 166.7h0M355.9 134.3h0M384.4 183.6h0M376.7 156h0M374.3 129.2h0M360.6 121h0M401.6 120.7h0M309.5 162.2h0M384.9 200.6h0M352.6 152.2h0M424.8 211.2h0M386.5 167.5h0M365.9 132.4h0M345.2 131.7h0M412.7 168.5h0M372.4 181h0M380.4 196.3h0M310.8 142.9h0M324.9 189h0M370.9 182.2h0M362.4 150.9h0M338.7 200.9h0M397.7 200.3h0M370.1 161.2h0M374.6 137.5h0M309.2 201.3h0M336.2 158.1h0M376 184.5h0M399.7 136.7h0M328.7 178.4h0M388.6 117.2h0M398 202h0M386.2 139.8h0M368.6 159.6h0M354.6 180.6h0M332.4 150.5h0M317.2 161.9h0M326.1 198.7h0M325.8 159h0M350.6 184.4h0M332.3 161.3h0M310.1 143.3h0M341.4 131.9h0M352.1 164.8h0M389.8 177.1h0M352.9 210.5h0M402.2 182.3h0M422.3 177.1h0M377 197.9h0M338.4 159.3h0M370.6 196.2h0M395.6 148.1h0M358.4 188.3h0M333 183.9h0M328.2 186.5h0M334.7 188.7h0M347.1 140.3h0M357.9 179.2h0M426 174.9h0M352.5 182.4h0M390.1 173.7h0M364 135.6h0M350.1 172.8h0M372.9 189.3h0M384.8 115.6h0M359.5 204h0M388.6 179h0M321.7 172.1h0M337.3 140.5h0M385.3 167.9h0M303 144.1h0M382.2 205.4h0M355.4 175.8h0M415.8 213.3h0M340.1 137.2h0M363.7 115.3h0M403.3 167.1h0M314.6 131h0M374.3 164h0M306.5 134.2h0M343.7 175.1h0M315.6 155h0M381.9 159.3h0M356.9 125h0M381.9 116h0M322.4 124.6h0M318.3 181.2h0M393.8 128.2h0M394.1 196.1h0M340.4 158.5h0M340.7 199.1h0M369.9 119.6h0M412.7 167.8h0M322.5 149.3h0M355.4 154.8h0M364.4 154.8h0M321 180.8h0M397 137.5h0M366.9 111.9h0M393.3 149.2h0M397 200.5h0M424.8 187.2h0M342.5 182.4h0M408 140.5h0M332.3 129.8h0M336.4 125h0M347.3 152.7h0M333.9 132.3h0M333 181.9h0M302.2 182.6h0M404.2 157.1h0M333.5 220.1h0M354.9 124.3h0M284.9 164.8h0M336.2 172h0M367.7 147.4h0M383.7 134.6h0M355.5 171.6h0M262.9 226h0M313.5 125.9h0M347.8 151.4h0M317.6 144.3h0M329.4 133.8h0M300.8 150h0M387.4 188.7h0M422.3 150h0M305.4 142.1h0M402.4 183.2h0M403.7 137h0M333.9 185.8h0M402.7 145.4h0M389.9 203.5h0M351 198.5h0M346.2 177.3h0M414.7 156.7h0M409.9 188.9h0M354.2 166.5h0M353.3 156.7h0M409.6 167.7h0M317.5 189.2h0M348.5 139.5h0M364.1 112.8h0M306.4 162.3h0M368 111.1h0M378.4 204.1h0M368 165.9h0M326.4 245.5h0M382.2 175.3h0M347.2 175.5h0M370.4 138.3h0M386.6 217.2h0M391 169.9h0M371.3 141.2h0M339.5 198h0M347.6 124.6h0M367.9 136.6h0M413 163.9h0M359.7 114.7h0M393.5 166.6h0M374.9 204.9h0M286.8 153.3h0M405.8 179.2h0M369.1 215.6h0M414.8 142.1h0M373.9 148.7h0M403.1 131.1h0M431 132.5h0M351.1 175.7h0M355.9 166.2h0M316.6 148.6h0M314.9 149.7h0M355 150.8h0M383.7 152.1h0M390.2 136.5h0M364.3 199.5h0M371.6 108.5h0M361.2 119.8h0M299.6 163.4h0M352.1 177.7h0M384.8 143.1h0M379.2 183.3h0M363.9 118.6h0M387 140.8h0M367.3 119.6h0M296.5 142.3h0M287.4 161.4h0M336.8 158.2h0M361.8 132.6h0M339.9 217.2h0M338.7 133.4h0M307.4 143.4h0M320.7 173.3h0M310.3 217.6h0M425.6 173h0M317.8 135.1h0M356.7 192.2h0M362.8 126.1h0M361.5 224.5h0M303.3 142.9h0M379.9 197.2h0M354 193.5h0M380 169h0M368.4 148.4h0M405.9 168.1h0M328.6 174h0M365.6 172.7h0M337.9 159h0M356 119.9h0M342.6 145.6h0M332.8 135.1h0M361.4 216.1h0M294.7 138.3h0M416.6 197.9h0M365.7 125.7h0M346.8 141.2h0M373 183.8h0M300.6 179.4h0M372.4 137.8h0M401.3 155.3h0M337.3 194.8h0M312.1 129.5h0M372.1 172.4h0M393.9 145.1h0M306.2 156.9h0M324.6 134.1h0M337.5 180.2h0M367 202.5h0M349.8 165.7h0M319.5 191h0M336.4 154.7h0M385.8 147.6h0M378.4 200.6h0M363.5 145.2h0M384 134.3h0M381.7 157.4h0M348.1 116.8h0M404.5 192h0M324.2 160.4h0M368 223.8h0M389.9 142.7h0M321.3 177.1h0M358.3 118.4h0M362.4 176h0M419.8 166.7h0M362.5 112h0M337.2 142h0M325.3 149.5h0M384.4 163.8h0M371.2 185.7h0M398.8 163.4h0M389.8 194.7h0M368.4 149h0M392.2 166.1h0M360.4 173.1h0M342.8 225.3h0M394 142.3h0M414 188.4h0M400.4 203.6h0M303.5 147.7h0M388.8 133.3h0M320.4 122.8h0M342.7 264.8h0M331.4 136.6h0M324.8 146.9h0M348.8 163.6h0M298 160h0M282.5 148.9h0M356.5 119.6h0M329.1 187.5h0M317 189h0M402.6 186.6h0M337.6 170.6h0M380.8 197h0M386.6 106.8h0M337.1 121.3h0M343.2 151.8h0M298.2 145.8h0M392 176.7h0M393.2 208.9h0M382.2 164.1h0M311.1 128h0M301.6 130.7h0M411.2 164.5h0M361.8 122.5h0M341.9 145.4h0M305.1 163.9h0M321.3 169.2h0M289.4 144.6h0M401.8 122.6h0M274.5 164.7h0M330.6 171.7h0M344.2 125.4h0M306.9 132.5h0M290.6 153.8h0M337.7 141.9h0M379.8 138.2h0M342.9 172.9h0M355.7 163.3h0M380.2 119.1h0M359.1 117.5h0M379.6 157.3h0M393.6 175.6h0M310.6 214.6h0M356.2 177.8h0M310.5 199h0M385.7 163h0M405.1 165.5h0M342.4 142.2h0M380.7 159.5h0M321.5 124.2h0M431.1 136.3h0M394.8 147.6h0M319.4 157h0M315.9 164.7h0M324.7 133h0M366.4 213.9h0M378.6 159.4h0M318.1 167.8h0M373.4 170.7h0M297.8 136.6h0M320.7 144.6h0M395.6 141.4h0M379.3 185.5h0M316.3 188h0M394.9 164.3h0M333.6 121.2h0M305.7 153.2h0M394.4 169.8h0M373.5 133.9h0M355.5 117.6h0M340.7 149h0M333.1 189.1h0M381.3 135.6h0M318.9 164.3h0M350.3 169.6h0M418.5 234.7h0M392.3 168.6h0M372.9 135.6h0M429.9 165.5h0M384.8 183.5h0M377.3 164.8h0M421.1 140h0M368.9 115.6h0M379.4 174.8h0M321.9 190.9h0M392.4 169.3h0M368.4 170.8h0M361.8 133.6h0M386.9 189.1h0M298.1 191.2h0M413.3 144.5h0M426.3 171.1h0M407.2 164.3h0M342.8 135.1h0M330.7 188.8h0M383.3 124.5h0M364.6 120h0M331.7 191.8h0M403.6 187.1h0M362.9 141.8h0M406 173.3h0M379.9 160.6h0M412.4 193.7h0M328.8 157.2h0M336.9 138.5h0M310.4 142h0M413.9 200h0M364.9 181h0M412.5 152.1h0M326.3 160.5h0M343.6 178.3h0M399.5 168.8h0M371.3 223.5h0M403.7 145.3h0M356.7 191.5h0M423.9 173.8h0M342.5 116.6h0M391.9 167.8h0M378.8 206.4h0M324.5 163.5h0M361.9 191.9h0M384.2 173.2h0M394.5 184.2h0M339.7 137.7h0M317.4 144.1h0M345.9 185.5h0M339.1 128.3h0M294.6 143.7h0M384.1 154.6h0M339.1 185h0M386.6 124.2h0M339.1 135.3h0M409.8 154.7h0M387.3 214.6h0M413.2 199h0M390.2 177.7h0M335.1 191.4h0M369.3 150.2h0M365.7 116.5h0M323.9 188.7h0M373.1 189.3h0M352.1 186.4h0M332.9 160.1h0M351.1 191.5h0M302.3 189.9h0M369.4 245.3h0M407.2 140.1h0M346.7 163.5h0M341.8 176.6h0M375.5 186.6h0M363.7 219h0M371 195.1h0M327.8 122.3h0M372.3 115.1h0M384.7 176.2h0M338.2 148.6h0M338.8 164.8h0M358.3 202.7h0M350.9 203.5h0M339 136.5h0M371.1 214h0M393.6 155.9h0M390.6 198.3h0M371.1 142.9h0M388.8 174.8h0M359.6 192.3h0M377.9 107.5h0M320.1 126.6h0M355.5 129.3h0M407 151.9h0M367.5 137.8h0M367.4 111.1h0M319 142.9h0M334.5 130.4h0M326 175.7h0M364.5 162.2h0M351.9 185.2h0M397.2 185.8h0M311.3 166.8h0M411.3 172.3h0M313.1 146.4h0M381.7 137.7h0M366.6 150.9h0M335 184h0M321.5 183.4h0M388.9 191.9h0M374.2 119.9h0M382.4 137.4h0M346.7 190.4h0M360.4 164.3h0M259.8 152h0M348.9 115.8h0M406.1 189.9h0M368.1 207.6h0M388.6 136.7h0M367.5 118h0M362.2 221.6h0M303.8 140.2h0M379.1 189.7h0M340.1 172.7h0M347.2 118.2h0M375.2 203.1h0M320.6 128.9h0M378.4 203.9h0M317.8 137.9h0M379.1 151.1h0M356.5 202.7h0M344.1 142.1h0M389.7 172.6h0M368.9 201.4h0M347.1 142.4h0M351.2 178.8h0M361.9 216.7h0M358.1 150.4h0M355.1 214.3h0M352.6 121.7h0M299.3 142.3h0M320.4 166.2h0M313.3 149h0M369 202.8h0M367.2 166.7h0M383.9 141.9h0M377.8 210.8h0M378.3 127.5h0M383.2 181.9h0M337 189.5h0M382.8 185.1h0M344.9 131.2h0M350.7 228.3h0M390.8 118h0M395.2 166.8h0M363.7 214.3h0M391.7 187.1h0M406.3 169.8h0M324.1 139.2h0M384.7 167.4h0M349.3 135.6h0M329.3 145.9h0M362 210.1h0M370.9 184.7h0M409.2 161.6h0M415.6 180.5h0M340.7 145.2h0M434.9 213.5h0M303.5 160.7h0M318.9 146h0M356.1 198.2h0M394.2 162.7h0M298.4 148.5h0M350 134.6h0M331.1 141.9h0M340.2 177.4h0M307.2 162.5h0M378.6 171h0M403 209.8h0M363 168.2h0M368.9 185.3h0M373.9 127.7h0M394 178.4h0M404.1 161.9h0M345.7 147.5h0M337.8 144.5h0M373.5 129.6h0M300.9 132.8h0M381 142.6h0M404.6 122.7h0M378.6 207.8h0M307.4 159.4h0M322.7 124.2h0M384.5 168.8h0M344.3 160.1h0M298.6 167.8h0M378.9 179.1h0M369.2 156h0M345.2 206.9h0M357.6 136.5h0M317 158.9h0M408.9 157.4h0M330.3 218.9h0M359 128.8h0M309.4 132h0M312.1 133.2h0M413.7 162.4h0M409.2 134.3h0M352.7 151.3h0M331.5 180.8h0M348.6 179.8h0M315.4 143.4h0M335.1 193.6h0M385.5 170.6h0M316.5 176.5h0M353.8 195.8h0M311.1 154.8h0M356.9 172.9h0M312.4 136.7h0M372.4 176.7h0M351.5 174.2h0M320.9 164.9h0M408 188.7h0M346.1 167.8h0M369.1 132.2h0M365.1 143h0M372.6 136.4h0M371.3 157.4h0M407 155.1h0M327 129.7h0M351 137.3h0M350.7 166h0M388.2 199.7h0M328.9 136.4h0M386.7 144.6h0M343.6 195h0M351.9 125h0M378.1 158.1h0M355.8 169h0M313.7 148.7h0M418.6 174.5h0M369.9 155.9h0M415.1 179.4h0M343.1 143.3h0M387.1 164.8h0M348.1 137.5h0M358.9 161.3h0M374.6 164.5h0M393 109h0M419.7 168.9h0M371.3 135.9h0M372.9 196.8h0M331.3 202.3h0M349.7 136.6h0M403.4 179.6h0M312.4 146h0M382.2 145.8h0M386.9 197.4h0M345.7 142.4h0M387 106.3h0M370.4 196.2h0M353 132h0M333.1 172.9h0M419 158.2h0M308.1 152.8h0M342.8 146.2h0M387.3 139.9h0M401.8 173h0M399.7 166.3h0M376.6 211.6h0M343.9 181.1h0M288.6 149.1h0M391 154.1h0M316.7 158.4h0M344.9 122.6h0M362.2 124.3h0M403.4 137.2h0M314.7 144.5h0M313.7 134.6h0M294.3 186.4h0M397.3 205.8h0M341.8 177h0M369.5 133.6h0M368.1 214.9h0M381.1 179.7h0M405.6 159.4h0M360.8 139.2h0M350.3 200.9h0M358.3 148.2h0M401.4 171.8h0M358 114h0M388.9 143.8h0M359.8 148.3h0M365.8 212.9h0M330.2 151.3h0M403.8 159h0M396 179.9h0M289.7 140h0M392.7 149.7h0M310.3 163.8h0M349.6 161.7h0M396.4 136.6h0M323.2 188h0M418.1 162.4h0M393.4 234.4h0M371.9 166.8h0M296.4 150.5h0M382.9 183.8h0M387.2 198.6h0M321.8 184.6h0M391.6 131h0M386.3 141.4h0M333 168.1h0M381.9 181.7h0M429.3 149h0M384 174.8h0M308.2 142.2h0M379.4 154.6h0M329.2 125.3h0M292.7 173.6h0M390.8 179.9h0M285.4 140h0M381.5 227.2h0M360.2 126.2h0M304.6 142.6h0M401.7 195.3h0M399.6 185.4h0M406.5 208h0M398.7 145h0M307.6 156.4h0M391.3 135.6h0M391.3 129h0M351.6 148.3h0M349.5 190.2h0M417.9 127.8h0M368.2 206.9h0M335.8 140.1h0M389.4 207.6h0M416.3 181.9h0M305.4 139.5h0M347.1 135.4h0M353.1 161.3h0M392.1 145.1h0M352 142.3h0M346.2 156.4h0M313.4 132.6h0M381.2 206.4h0M390 132.6h0M311.4 182h0M362.1 175.4h0M390.6 132.4h0M317.6 132.6h0M334 160.2h0M376.4 125.8h0M359.2 140.9h0M339.5 122.8h0M332.5 153.7h0M305.1 177.2h0M330.6 186.1h0M353.3 190.2h0M390.5 131.8h0M370 173.9h0M373.1 188.2h0M338.3 207.4h0M364.7 114.9h0M379.1 142.3h0M301 144.5h0M347.6 170.2h0M400.4 148.1h0M307.7 158.5h0M350.1 185.6h0M313.2 153.9h0M328.2 173.3h0M337.3 189.2h0M308.4 127.6h0M380.9 178.5h0M414.4 224h0M408.4 166.3h0M325.9 171.8h0M324.9 172.7h0M306 155.2h0M408.8 160.4h0M315.4 189.8h0M366 130.2h0M324.5 138.7h0M302.1 200.9h0M429.1 199.1h0M399 163.8h0M318.1 152.2h0M330.6 188.4h0M307.1 148.7h0M349 140.8h0M381.7 188.1h0M364.8 170.2h0M321.7 187.3h0M287.2 145.7h0M367.6 165.6h0M392.3 112.8h0M387.7 173.9h0M396 174.4h0M373.3 121.1h0M370 177.9h0M317.4 157.4h0M348.4 140.6h0M370.7 135.7h0M417.9 163.6h0M346.2 148.8h0M370.9 253.9h0M373.8 182h0M314.7 182.2h0M375.9 196.5h0M439.1 156.6h0M321.2 160.5h0M353.4 172.8h0M329.8 196h0M351.2 210.4h0M302.7 130.6h0M390.3 178.4h0M342.5 271.3h0M368.9 154.9h0M376.1 130.9h0M369.8 202.5h0M374.1 171.5h0M318.2 164.1h0M371.9 139.3h0M286.1 250.3h0M379.1 143.4h0M322.4 137.5h0M336.3 145.8h0M343.9 126.9h0M303.8 136h0M356.9 202.1h0M384 180.4h0M380.1 184.5h0M390 195.8h0M333.6 143.4h0M306.6 151.9h0M371.1 198.8h0M380.7 118.7h0M325.6 186.4h0M382.3 144.1h0M370.7 183.9h0M408.5 161h0M357.3 193.1h0M314.2 125.5h0M363.6 140.3h0M286.4 147.7h0M379.3 156.4h0M326.4 153.8h0M380.3 117.4h0M389.7 147.7h0M375.2 217.2h0M309.3 156.4h0M324.7 144.6h0M379.8 179.6h0M351.1 183h0M333 211.8h0M362.9 136.9h0M448.8 200.4h0M357.4 162.2h0M350.3 140.3h0M403.8 167.2h0M318.3 157.9h0M381.8 195.9h0M377.4 155.6h0M347.2 168h0M293.2 134.1h0M357.9 171.3h0M428.1 215.7h0M390.3 123.3h0M390.2 147.9h0M367.7 166.7h0M408.3 184.5h0M327.4 162.1h0M368.1 167.5h0M354 131.4h0M381.4 124.7h0M293.2 145.1h0M357.1 156.1h0M389.7 160.1h0M412.7 138.5h0M368 132.1h0M365.3 154.7h0M342.6 176.4h0M415.4 209.4h0M321.6 138h0M378 217.8h0M330.2 133h0M297 164.2h0M316.1 175.1h0M337 159.8h0M363 132.2h0M405.8 173.1h0M353 175.6h0M373.3 121.2h0M382.4 152.5h0M345.4 165.4h0M386.9 169.2h0M320.6 188.2h0M380.6 143.1h0M396.6 134.1h0M340 133.4h0M381.2 200.6h0M397.8 176.2h0M379.7 119h0M370 189.4h0M337.2 163h0M375.4 152.2h0M301.2 181.8h0M359.1 157.3h0M358.7 202.1h0M354.7 139.5h0M409.5 172.4h0M396.6 180.4h0M389.7 145h0M343.8 188.4h0M353.2 161.5h0M341.2 167.6h0M314 200.5h0M328.6 190.9h0M371.6 131h0M356.3 167.9h0M375 167.3h0M351.2 126.4h0M361.9 139h0M309 142.5h0M289.1 143.2h0M391.9 164.2h0M376.1 143.5h0M321.9 193.1h0M331.9 160.6h0M342.1 188.6h0M401.1 139.1h0M373.7 148.9h0M345.4 154.7h0M382.5 168.2h0M385.1 220.4h0M384.4 193.3h0M363.2 172.3h0M401 138.4h0M344.6 120.9h0M311.7 144.8h0M304.2 140.5h0M337.1 184.7h0M411.9 202.6h0M408.1 141h0M362.2 140.7h0M330.8 137.7h0M322.9 122.3h0M373.9 135.2h0M434.1 154h0M368.5 195.3h0M364.5 168.3h0M397.3 135.1h0M350.9 115.7h0M375.2 113.1h0M351.6 145.3h0M363.8 193.9h0M349.1 132.4h0M402 144.9h0M372 139.4h0M352.6 199.5h0M379.9 118.3h0M312.8 126.5h0M305.1 156.5h0M327.1 132.3h0M355.8 171.4h0M371.5 125.8h0M308.7 135.5h0M375.9 144.6h0M345.3 173.3h0M385.6 163h0M369.4 154.1h0M381.9 196.5h0M384.2 204.6h0M392.7 247.8h0M301.3 137.9h0M340.5 186.9h0M355.3 116.2h0M380.1 153.3h0M332.2 174.2h0M328.4 136.9h0M394.1 174.1h0M368.7 142.6h0M363.6 191.2h0M333 203.2h0M361.5 135.5h0M331.6 180.2h0M374.9 157.2h0M347.8 138.3h0M304.3 131.6h0M349.6 166.6h0M280.9 169.7h0M330 152.6h0M378.3 141h0M304.1 161.6h0M398.2 144.7h0M320.6 126.3h0M437.1 179.4h0M333.6 187.1h0M347.1 192.4h0M371.7 157.2h0M405.7 165.3h0M399.3 200.3h0M361.7 119.3h0M392.4 131.8h0M389.3 148h0M352.9 115.6h0M377.4 176.4h0M329.8 155.6h0M416.7 207.1h0M416 160.1h0M317.1 172.8h0M386.3 178.7h0M380.9 155.3h0M370.2 129.5h0M341.9 122.9h0M351.9 169.6h0M347.9 117.5h0M330.4 203.9h0M365.1 135.3h0M428.9 150.7h0M344.5 153.8h0M328.2 164.6h0M363.3 162.5h0M403.4 147.2h0M270.3 207.4h0M357.4 153.1h0M368.9 193.8h0M351.4 131.5h0M336.9 169.7h0M376.4 193.7h0M332.1 158.3h0M377.2 160.6h0M346 228.5h0M344 187.1h0M346.9 178.2h0M361.3 141.8h0M376.2 157h0M419.3 208.5h0M337.7 182.7h0M320.9 179.4h0M363.1 113.9h0M301.9 135.8h0M382.1 127.2h0M375.2 189.3h0M363.2 245.8h0M349.5 140.2h0M377.5 203.3h0M393 145.2h0M303.5 159.5h0M331.8 193.1h0M302.7 164.8h0M345 144.5h0M325.1 173.4h0M366.2 179.1h0M310.2 156.4h0M368 124.2h0M358.1 115.1h0M362.1 135.3h0M362.6 135.9h0M317.1 192.9h0M377.3 228.3h0M358.4 121.2h0M364.5 196.3h0M399.7 144.6h0M297.8 190.1h0M367.5 115.5h0M330.9 170.4h0M336.7 154.7h0M339.5 119.5h0M355.9 153.3h0M341.9 118.8h0M333 141.4h0M358.9 165.2h0M394.1 213.1h0M309.8 142.6h0M369 158.3h0M371.4 161.4h0M357.5 163.9h0M320.6 180.9h0M338.6 133.2h0M410.7 186h0M314.3 140.1h0M313.9 163.7h0M367.2 150.9h0M377.3 167.1h0M356.4 159.3h0M358.3 182.4h0M387 210.3h0M379.9 149h0M367.7 160.2h0M322 176.5h0M334.7 122.3h0M389 183.1h0M348.9 178.6h0M402.7 175.3h0M373.4 141.7h0M409.8 130.5h0M318.5 181.7h0M366.5 138h0M313.8 135h0M330.3 152.6h0M361.9 176.3h0M324.6 149.6h0M363.2 166h0M324.2 183.5h0M346.7 120.1h0M339 168.5h0M413.5 152.4h0M326.8 136.1h0M377.6 184.4h0M384.7 121h0M355.4 193.5h0M311.4 145.1h0M326.1 174.3h0M349.6 204.3h0M322 187.5h0M348.3 122.2h0M307.1 178.7h0M360.1 122.9h0M379.1 169.1h0M393.3 146.5h0M351.5 215.4h0M407.2 136.2h0M370.3 152.2h0M391.1 131.1h0M357.7 170.7h0M350.8 212.8h0M412.3 173.3h0M361.4 244.9h0M323.7 172.2h0M394.7 135.4h0M306 157.8h0M307.2 163.4h0M315.4 181.8h0M352.5 146.2h0M384.8 119.7h0M299.6 134.7h0M385.4 225.1h0M349.3 210.3h0M360.3 173.7h0M363.5 144.7h0M374.9 164.1h0M329.8 173.4h0M348.9 168.6h0M343.6 205h0M363.3 128.1h0M363.1 188.1h0M358.6 136.7h0M338.9 193.4h0M354.7 187.2h0M396.3 207.5h0M383.5 212.8h0M386.9 130.5h0M381.3 173.2h0M361.8 156.8h0M343.6 153.5h0M362.1 166.8h0M371.8 174.6h0M338.9 207.7h0M328.3 184.8h0M372.6 183.7h0M388.7 147.5h0M378.8 118.5h0M294.7 131.2h0M315.6 139.2h0M356.1 153.2h0M354 165.3h0M315.7 159.1h0M374.4 193.6h0M327.2 156.2h0M324.2 126h0M392.4 194.4h0M348.1 160.9h0M375.9 202.9h0M306.9 140.1h0M392.5 137.3h0M353.1 149.7h0M372.7 203.9h0M374.8 173.4h0M358.7 143.5h0M355.6 210.9h0M438.7 181.5h0M355.5 192.7h0M389.7 155.2h0M376.2 142.5h0M349.3 154.6h0M412.4 169.1h0M329.1 126.1h0M336.7 206.8h0M445.5 220h0M414.1 179.8h0M373.9 128.2h0M419.4 145h0M315.3 156.9h0M338.5 177h0M380.9 175.8h0M330.3 192.9h0M369.3 137.9h0M378 220.6h0M383.2 184.3h0M337 188.9h0M351.4 118.3h0M364.2 184h0M339.6 162.8h0M391.9 206.1h0M396.3 156.2h0M311.2 154.9h0M332.4 122.1h0M392.6 193.5h0M336.4 139.1h0M317.8 150.8h0M345.4 142.1h0M311.7 165.7h0M351 133.6h0M374.9 156h0M398.4 179.9h0M313.6 188.5h0M362.2 183.2h0M330.2 170h0M368.7 134.8h0M319.1 134.9h0M314 133h0M365 135.9h0M356.9 215.9h0M393.1 180.1h0M381.2 159.1h0M347.6 229.3h0M294.9 136.3h0M317.6 175.3h0M313.3 175.2h0M321.6 145.2h0M319.3 165.1h0M384.6 197.9h0M315.5 167.8h0M406.6 178.1h0M368.9 162.9h0M333.3 182.7h0M290.7 135.2h0M318.7 129.7h0M386.2 145.4h0M412.7 173.5h0M321.7 145.9h0M404.9 165.9h0M392.5 181.2h0M392.4 156.8h0M362.6 129.8h0M337.7 189.9h0M346.4 118h0M338.2 155.6h0M339.1 131.1h0M344.4 140.1h0M385.4 196.9h0M442.6 125.2h0M386.9 192.5h0M388.6 130.6h0M344.7 159.7h0M369.7 135.9h0M336.8 177h0M354.5 193h0M329.8 166.3h0M417 157.8h0M372.1 155.6h0M334.1 144.2h0M399 203.3h0M359.8 149h0M323.3 150.8h0M402.9 151.5h0M311.1 164.3h0M338.3 165.5h0M375.3 140.6h0M344.9 202.3h0M394 148.6h0M408.3 190.1h0M315.7 177.8h0M369.4 177.3h0M374.1 115.2h0M397.6 160.9h0M391.5 181.4h0M369.8 162.2h0M373.4 215h0M343.9 171.6h0M335.7 123.3h0M331.1 185.5h0M278.9 145.9h0M333.3 195.5h0M330 189.8h0M368.5 157.2h0M398.4 160.7h0M306.7 160.4h0M386.1 120.8h0M360.1 140.6h0M411.9 151.4h0M358.5 115h0M356 176.7h0M365.6 133.9h0M398.8 185.9h0M396 164.3h0M411 154.4h0M325 160.6h0M297.1 154.3h0M373.5 125.1h0M308.6 220.8h0M341.9 176.9h0M353.3 173.3h0M360.7 122.4h0M390.3 126.4h0M395.7 176.1h0M404.7 205.6h0M407.6 178.3h0M304.5 143.4h0M317.2 127.3h0M382.5 196.9h0M333.2 161.7h0M385.6 137.9h0M401.1 150.3h0M341.2 162.9h0M364.3 126.3h0M368.5 191.2h0M354.8 119.5h0M428.3 186.8h0M349.6 128.9h0M407.8 174.2h0M364.4 179.7h0M370.3 112.2h0M332.5 194.7h0M350.7 122h0M338.1 143.9h0M334.8 150.7h0M322.9 176.9h0M366.5 169.8h0M364.1 187h0M379.8 214h0M334.3 134.3h0M319.1 132.9h0M328.6 167.5h0M316.7 134.6h0M313.4 190h0M349.3 142.1h0M374 158.9h0M406.9 194.5h0M375.8 193.1h0M371.8 117.7h0M318.3 142.4h0M314.3 152.7h0M388.2 159.7h0M416 154.2h0M420.8 137.9h0M400.2 143.5h0M462.3 156.3h0M352.4 168.1h0M340.8 145.6h0M325.8 134.3h0M321.4 132.3h0M313.5 288.6h0M318.1 188.7h0M334.5 124.7h0M342.4 175.9h0M282.4 150.6h0M343 214.5h0M384.1 125.3h0M317.4 156.1h0M405.8 203h0M347.8 205.6h0M384.7 147.2h0M368.6 112.4h0M344.4 176.5h0M391.2 195.5h0M393.4 113.5h0M330.1 185.3h0M410.9 245.9h0M351.3 135.7h0M420.8 186.9h0M357.6 173.4h0M330.4 168.3h0M376 125.5h0M412.2 145.9h0M363.8 174.1h0M325.1 181.1h0M361.6 189.7h0M328 178.9h0M413.6 165.7h0M316.6 161.3h0M398.2 171.2h0M369.7 199.8h0M323.4 163.8h0M415.5 168.5h0M387.7 166.9h0M344.2 148.2h0M311.8 177.3h0M397.6 184.7h0M344.4 183.3h0M296.9 152.9h0M383 132.5h0M378.8 159.1h0M371.8 150.9h0M311.5 160.5h0M373.4 224.2h0M371.8 207h0M337.7 120.9h0M329 189.5h0M318.9 170.1h0M380.5 185.1h0M368.4 146.4h0M325.8 167h0M345.8 192.2h0M401 231.5h0M383 139.9h0M304.8 132.2h0M396.1 208.8h0M407.3 160.7h0M370.1 151.8h0M299.3 148.2h0M385.3 148.3h0M309.2 170h0M395.5 133.1h0M360.5 151.2h0M355.8 151.6h0M376.9 192.5h0M392.1 154.3h0M409.7 150.5h0M306.6 178.7h0M384.1 161.9h0M373.3 209.2h0M382.2 260.1h0M382.2 238.8h0M343.2 213.9h0M345.6 125.6h0M392.9 184.7h0M395.9 177.5h0M394.6 185.9h0M417.6 204.9h0M385 212.9h0M314.3 143.6h0M422.7 188h0M402.2 150.9h0M335.6 187.7h0M384.4 213.6h0M330.5 161.8h0M392.6 138.3h0M409 223.6h0M360.2 147.3h0M335.7 160.8h0M358.6 160.1h0M376.7 145.5h0M365.4 187.3h0M371.5 170.2h0M302.3 154.5h0M349 203.1h0M314.7 195.6h0M329 184.1h0M383.3 150.3h0M367.9 204.3h0M401.5 139.4h0M307.6 156.7h0M317.2 187.2h0M382.5 121h0M328.3 131.3h0M302.3 159.6h0M411.2 149.6h0M363.4 175h0M324.2 185.1h0M334.8 136.1h0M305.3 175.1h0M377.9 191.5h0M369.1 192.6h0M386.2 125.8h0M342.5 167.6h0M403.4 199.5h0M358.8 151.3h0M385.6 133.6h0M354.3 144.7h0M353.5 193.3h0M374.2 184.9h0M326.4 141h0M316 155.2h0M351.9 130.2h0M319.3 170.7h0M364 171.7h0M402 132.6h0M340.4 192.9h0M353.2 131.8h0M405.4 145.6h0M342.8 120.4h0M407.1 171.6h0M378.8 187.3h0M350.5 159.2h0M388.6 175.5h0M331.7 197.5h0M303.6 155.7h0M340.4 118.4h0M374.1 197.2h0M299.6 167h0M332.4 157.7h0M408.4 174.6h0M377.7 194.9h0M363.5 111.7h0M395.9 140.3h0M341.7 119.8h0M307.8 159.7h0M375.2 157.3h0M345.2 196.1h0M392.6 161.6h0M388 155.7h0M363.9 185.9h0M316 161.7h0M363.6 193.4h0M353.2 151.1h0M371.9 195.7h0M387 202h0M354.8 165.1h0M394.9 198.9h0M330.3 154.3h0M321.8 153.6h0M414.1 168.3h0M331.4 181.1h0M339.4 180.5h0M310.5 172.2h0M325.7 197.9h0M336.1 157.8h0M331.8 122.3h0M297.9 132.5h0M339.5 140h0M408.4 189.4h0M391.4 150.1h0M380.9 200.4h0M322.1 155.6h0M374.1 205.5h0M395.4 141.6h0M373.1 159.9h0M387.1 170.5h0M338 178h0M379.5 139h0M350 142.9h0M322.8 154.3h0M390.6 176.7h0M347.6 129.9h0M368.9 185.4h0M353.5 202.9h0M347.2 120.7h0M362.9 174.1h0M307.8 181.1h0M383 179.7h0M327.2 183.1h0M383.4 117.9h0M348.9 158.7h0M333.2 144.8h0M330.5 126.7h0M392.8 169.1h0M375.2 137.4h0M341 137.3h0M319.2 165h0M374.4 147.3h0M349.2 189.7h0M392.8 154.6h0M344.4 158.1h0M386.6 123h0M369 206.4h0M382.4 199.6h0M429.8 166h0M326 156.7h0M334.2 139.8h0M348.3 139.7h0M409.9 153.1h0M369.9 162.1h0M404.1 149h0M371.4 163.7h0M359.4 132.6h0M335.6 172.9h0M356.8 149.9h0M383.6 217.3h0M380.5 122.5h0M399.7 190.9h0M324.6 124.7h0M347.4 196.6h0M356.1 211.9h0M407.8 173.7h0M376.6 218.4h0M363.8 114.9h0M316.1 155.3h0M361.7 155.9h0M367 157.2h0M373.1 156.9h0M397.7 177.2h0M364 181.8h0M404.4 157.8h0M309.3 201.3h0M322.2 134.3h0M385.8 144.1h0M353.4 210.2h0M394.2 159h0M388.9 215.8h0M366.3 171.4h0M419.6 165.7h0M331.8 182.5h0M393.6 132.2h0M335.6 216.3h0M365.2 193.7h0M366.6 196.9h0M423.9 173.4h0M363.1 195.9h0M348.5 200.4h0M382.9 192.5h0M373.9 112.8h0M383.4 188.6h0M323.8 165.2h0M355.3 129.2h0M290.5 174.2h0M334.4 165.9h0M345.2 170.6h0M386.5 149.5h0M391 197.8h0M362.9 197.8h0M342.3 150.8h0M384.6 177.1h0M416 164h0M366.1 199.5h0M369.3 176h0M379.3 180h0M381.5 161.2h0M339.2 170.9h0M352.6 160.5h0M373.6 191.8h0M339.5 166.3h0M355.5 142.2h0M346 189.1h0M331.9 128.4h0M372.5 183.1h0M369.7 188.6h0M374.4 133.4h0M343.9 135.3h0M331.8 145.4h0M372.6 165.7h0M364.5 157.6h0M365.3 119.3h0M314.1 158.6h0M337.7 134.2h0M424.3 201h0M392.4 147.1h0M400.5 178.2h0M377.5 142.4h0M360.6 198.2h0M373.2 116.7h0M334.9 169h0M407.4 137.8h0M314.2 152.1h0M354.6 145.1h0M303.3 178.6h0M371 140.5h0M345.1 136.8h0M315.8 180.2h0M329.1 162.4h0M361.8 186.2h0M391.3 214.8h0M405.3 109.7h0M379.8 146.2h0M375.7 136.1h0M393.1 159.4h0M399.8 169.9h0M311.4 191.9h0M325.9 122h0M337.5 146.8h0M405.8 140.4h0M299.2 151.9h0M352.8 181.1h0M339.7 143.9h0M308.7 166h0M324.7 158.4h0M369 184.2h0M294.8 158.3h0M327.2 133h0M416.9 173.1h0M403.5 134.1h0M378.2 134.2h0M370.5 208.4h0M400.8 162.6h0M353.3 190.5h0M391.3 138.3h0M322.9 196.3h0M331.1 186.5h0M398.9 159.2h0M358.7 138.6h0M371.4 202.8h0M334.3 163.9h0M352.5 173.4h0M340.4 199.1h0M416.2 123.7h0M317.2 131.1h0M344.4 173.4h0M370.8 176.8h0M392.1 152.6h0M339.9 145.5h0M304.8 148h0M378.4 160h0M380.5 164.2h0M362.2 151.5h0M325.5 144.9h0M390.6 181.3h0M404.4 163.7h0M314.9 141.3h0M424.9 175h0M332.4 140.1h0M324.8 168.7h0M374.6 173.6h0M332.3 166.8h0M380.5 170.2h0M381.5 159.6h0M352.7 128.1h0M360.9 159.1h0M379.6 122.1h0M364 165.3h0M340 185.4h0M354.8 132.7h0M318.7 149.7h0M336.6 181.1h0M342 162.7h0M357.1 169.2h0M387.8 160.8h0M382.6 140.5h0M302.4 142.1h0M373.7 177.8h0M325.9 175h0M269.1 162.8h0M382.7 198.8h0M366.1 113.9h0M403.6 158.5h0M377.8 175h0M347.8 128.5h0M346.9 202.2h0M379.5 214.4h0M373.8 145.8h0M366.9 153.3h0M322.5 161.7h0M349.8 191.4h0M323.4 180.1h0M365.2 151h0M392.6 119.9h0M377.3 118h0M335 168.2h0M308.9 152h0M374.7 201h0M458.4 249.8h0M342.6 128h0M295.8 173.4h0M334.6 163.8h0M320.9 147.6h0M383.3 163.5h0M362.6 164.4h0M350.3 143.6h0M310.6 150.6h0M311.9 152.9h0M373.9 147.4h0M408.2 187h0M373.9 208h0M322.3 137h0M394.4 133h0M345.7 147h0M342 156.5h0M296.7 178.7h0M385.7 200h0M334.8 121.7h0M398.8 177.7h0M380.5 185.9h0M400.4 167.5h0M406 141.4h0M301 144.4h0M330.7 141.9h0M418.7 159.7h0M329.7 169.2h0M348.4 164.9h0M322 140.2h0M373.1 166.3h0M380.7 186.5h0M394.4 214.6h0M344.2 159.7h0M377.9 136.9h0M388.7 196.5h0M334.2 155h0M316 144.1h0M298.5 155.7h0M386.2 207.8h0M311.1 187.8h0M359.2 162.5h0M381.4 133.2h0M374.2 185.8h0M362.2 196.1h0M326.3 162h0M325.4 196.7h0M339.9 140.9h0M379.4 186.4h0M350.8 201h0M353.3 209.6h0M392.2 137.9h0M350.2 186.2h0M347.6 153.3h0M382.7 156.4h0M363.7 149.9h0M403.7 191.1h0M365.9 111.8h0M359.4 115.3h0M380.8 196.7h0M398.2 148h0M406.6 154.8h0M379.6 200.3h0M365.9 194.7h0M358.9 112.2h0M398.4 179.3h0M321.9 167.7h0M353.2 192.8h0M358.9 203.5h0M324.9 176.8h0M390.6 163.8h0M309.4 188.4h0M313.5 164.3h0M393.6 183h0M397.1 149.9h0M341.1 173.3h0M350.2 140.6h0M300.6 156.6h0M359.8 162.4h0M360.6 199h0M411.5 216.3h0M334.1 137.2h0M374.7 157.9h0M336.3 143h0M397 142.4h0M334.2 129.1h0M317.1 124.5h0M340.4 121h0M380.1 130.3h0M400.2 187.5h0M349.8 129.2h0M366.4 141.7h0M376 149.3h0M363.1 179.1h0M377.5 132.2h0M397.2 169.7h0M371.1 189h0M414.9 146.2h0M357.5 120.3h0M436 182.2h0M385.6 161.2h0M356.9 211.8h0M394.7 127.2h0M384.2 129.3h0M410.8 161.9h0M403.1 152.2h0M348.6 176.6h0M327.5 180.3h0M331.7 198h0M350.5 152.7h0M309.1 142.7h0M352 160.9h0M405.6 168.1h0M330.5 148.4h0M330.3 181.7h0M388.8 121.8h0M362 226.4h0M338.3 122.2h0M387.5 173.6h0M298.9 156.9h0M380.5 124h0M379.6 181.3h0M380.7 186.6h0M423.7 110.9h0M367.7 174.1h0M408.8 173.7h0M412.3 169.8h0M400.5 120.4h0M390.1 161.4h0M308.2 132.1h0M420 209h0M395.6 185.3h0M359.8 175.4h0M357.2 115.1h0M402.6 173.9h0M436.2 162.2h0M369.2 177.6h0M380.9 206.4h0M353.1 118.1h0M335.3 174h0M317.6 153.9h0M372.2 173.3h0M367.8 113.6h0M346.3 168.9h0M438.1 103.9h0M370.3 115h0M351.6 194.4h0M370.1 119.7h0M347.9 166.9h0M375.3 128.5h0M366.5 166.5h0M335.7 183.4h0M316.9 188.9h0M358.3 129.2h0M336.5 184.9h0M322.3 191.1h0M369.7 123.3h0M336.4 197.5h0M359.4 143.6h0M308.4 168.8h0M355.4 196.2h0M278.7 193.1h0M329 194.5h0M385.1 124.4h0M325.4 122.2h0M335.1 157.2h0M328.1 192.7h0M378.6 199h0M333.9 151.4h0M351.7 154.6h0M313.2 180h0M361 114.6h0M368.2 123.7h0M392.9 168.8h0M328.8 121.8h0M317.3 163.6h0M411.9 215.4h0M306.4 147.3h0M349.4 175.7h0M386.6 185.1h0M342.4 119.1h0M385.5 136.9h0M369.9 118.5h0M294.3 141.4h0M343.5 154.1h0M419.1 173.1h0M359 232h0M342.3 135.6h0M350.6 139.4h0M404.5 157.3h0M304.4 147h0M375.4 185h0M409.5 165.3h0M354.6 191.4h0M348.5 149.2h0M340.8 257.6h0M322.3 155.6h0M323 133.3h0M339.4 164.2h0M332.6 153.7h0M369.9 189.3h0M379.7 136.7h0M368.2 163h0M357.3 175.2h0M393.4 156.4h0M370.7 191h0M333.9 133.6h0M384.4 135.6h0M316.8 157.5h0M368.9 196.3h0M316.7 151.1h0M407.6 201.6h0M335.3 178.2h0M389.3 129.7h0M390.3 179.5h0M372.4 128.6h0M297.8 154h0M400.1 124h0M372.3 159.4h0M354.6 282.8h0M253.4 241.3h0M466.2 228.3h0M485.9 172h0" stroke="#00b900" stroke-width="4.1" stroke-linecap="round" fill="none"/>
<line x1="153.9" y1="170.81" x2="499.6" y2="71.22" stroke="#222" stroke-opacity="0.45" stroke-width="0.9" stroke-dasharray="5.3 2.5"/>
<line x1="326.1" y1="38.1" x2="326.1" y2="288" stroke="#999" stroke-opacity="0.9" stroke-width="1.2" stroke-dasharray="4.9 2.335"/>
<line x1="151.4" y1="121.2" x2="153.3" y2="121.2" stroke="#c8c8c8" stroke-opacity="0.85" stroke-width="1.5"/>
<line x1="153.3" y1="121.2" x2="499.3" y2="121.2" stroke="#c8c8c8" stroke-opacity="0.85" stroke-width="1.5" stroke-dasharray="5.3 2.31"/>
<text transform="translate(413.7 87.6) rotate(-16.07)" font-size="11.5" textLength="81" lengthAdjust="spacingAndGlyphs" fill="#111">WTP 7,500,000</text>
<path d="M149 32V291.8H505" fill="none" stroke="#000" stroke-width="1.7"/>
<path d="M144 38.5H149M144 55H149M144 71.6H149M144 88.1H149M144 104.7H149M144 121.2H149M144 137.7H149M144 154.3H149M144 170.8H149M144 187.4H149M144 203.9H149M144 220.4H149M144 237H149M144 253.5H149M144 270.1H149M144 286.6H149M153.9 291.8v4.8M197 291.8v4.8M240 291.8v4.8M283.1 291.8v4.8M326.1 291.8v4.8M369.2 291.8v4.8M412.3 291.8v4.8M455.3 291.8v4.8M498.4 291.8v4.8" stroke="#000" stroke-width="1.4"/>
<text x="139.3" y="42.2" text-anchor="end" font-size="12.3" textLength="69.8" lengthAdjust="spacingAndGlyphs">25000000.00</text>
<text x="139.3" y="58.7" text-anchor="end" font-size="12.3" textLength="69.8" lengthAdjust="spacingAndGlyphs">20000000.00</text>
<text x="139.3" y="75.3" text-anchor="end" font-size="12.3" textLength="69.8" lengthAdjust="spacingAndGlyphs">15000000.00</text>
<text x="139.3" y="91.8" text-anchor="end" font-size="12.3" textLength="69.8" lengthAdjust="spacingAndGlyphs">10000000.00</text>
<text x="139.3" y="108.4" text-anchor="end" font-size="12.3" textLength="63.1" lengthAdjust="spacingAndGlyphs">5000000.00</text>
<text x="139.3" y="124.9" text-anchor="end" font-size="12.3" textLength="23.3" lengthAdjust="spacingAndGlyphs">0.00</text>
<text x="139.3" y="141.4" text-anchor="end" font-size="12.3" textLength="70.1" lengthAdjust="spacingAndGlyphs">−5000000.00</text>
<text x="139.3" y="158.0" text-anchor="end" font-size="12.3" textLength="76.8" lengthAdjust="spacingAndGlyphs">−10000000.00</text>
<text x="139.3" y="174.5" text-anchor="end" font-size="12.3" textLength="76.8" lengthAdjust="spacingAndGlyphs">−15000000.00</text>
<text x="139.3" y="191.1" text-anchor="end" font-size="12.3" textLength="76.8" lengthAdjust="spacingAndGlyphs">−20000000.00</text>
<text x="139.3" y="207.6" text-anchor="end" font-size="12.3" textLength="76.8" lengthAdjust="spacingAndGlyphs">−25000000.00</text>
<text x="139.3" y="224.1" text-anchor="end" font-size="12.3" textLength="76.8" lengthAdjust="spacingAndGlyphs">−30000000.00</text>
<text x="139.3" y="240.7" text-anchor="end" font-size="12.3" textLength="76.8" lengthAdjust="spacingAndGlyphs">−35000000.00</text>
<text x="139.3" y="257.2" text-anchor="end" font-size="12.3" textLength="76.8" lengthAdjust="spacingAndGlyphs">−40000000.00</text>
<text x="139.3" y="273.8" text-anchor="end" font-size="12.3" textLength="76.8" lengthAdjust="spacingAndGlyphs">−45000000.00</text>
<text x="139.3" y="290.3" text-anchor="end" font-size="12.3" textLength="76.8" lengthAdjust="spacingAndGlyphs">−50000000.00</text>
<text x="153.9" y="309.9" text-anchor="middle" font-size="12.1" textLength="30.1" lengthAdjust="spacingAndGlyphs">−2.00</text>
<text x="197.0" y="309.9" text-anchor="middle" font-size="12.1" textLength="30.1" lengthAdjust="spacingAndGlyphs">−1.50</text>
<text x="240.0" y="309.9" text-anchor="middle" font-size="12.1" textLength="30.1" lengthAdjust="spacingAndGlyphs">−1.00</text>
<text x="283.1" y="309.9" text-anchor="middle" font-size="12.1" textLength="30.1" lengthAdjust="spacingAndGlyphs">−0.50</text>
<text x="326.1" y="309.9" text-anchor="middle" font-size="12.1" textLength="23.2" lengthAdjust="spacingAndGlyphs">0.00</text>
<text x="369.2" y="309.9" text-anchor="middle" font-size="12.1" textLength="23.2" lengthAdjust="spacingAndGlyphs">0.50</text>
<text x="412.3" y="309.9" text-anchor="middle" font-size="12.1" textLength="23.2" lengthAdjust="spacingAndGlyphs">1.00</text>
<text x="455.3" y="309.9" text-anchor="middle" font-size="12.1" textLength="23.2" lengthAdjust="spacingAndGlyphs">1.50</text>
<text x="498.4" y="309.9" text-anchor="middle" font-size="12.1" textLength="23.2" lengthAdjust="spacingAndGlyphs">2.00</text>
<text transform="translate(53.6 161.9) rotate(-90)" text-anchor="middle" font-size="13.8" textLength="108.6" lengthAdjust="spacingAndGlyphs">Incremental cost (JPY)</text>
<text x="255.2" y="330.7" font-size="14" textLength="161" lengthAdjust="spacingAndGlyphs">Incremental effectiveness (QALY)</text>
<circle cx="169" cy="345.8" r="3.1" fill="#cb0000"/>
<text x="177" y="349.4" font-size="11.1" textLength="88.7" lengthAdjust="spacingAndGlyphs">RVd cost-effective</text>
<circle cx="169" cy="362.1" r="3.1" fill="#00b900"/>
<text x="177" y="365.7" font-size="11.1" textLength="100.6" lengthAdjust="spacingAndGlyphs">D-RVd cost-effective</text>

<text x="10.4" y="405" font-size="17.4" font-weight="bold" textLength="11.4" lengthAdjust="spacingAndGlyphs" style="fill:#000;stroke:#000;stroke-width:0.45px">B</text>
<text x="180.3" y="406.5" font-size="14" textLength="292.4" lengthAdjust="spacingAndGlyphs">Incremental cost effectiveness, D-VTd vs. VTd</text>
<ellipse cx="299.0" cy="551.1" rx="91.4" ry="43.9" transform="rotate(45.67 299.0 551.1)" fill="none" stroke="#8c8c8c" stroke-width="0.8"/>
<path d="M260.3 501.8h0M250.2 494.1h0M234.5 504.4h0M241.8 494h0M273.7 497.5h0M263.7 504.2h0M255.5 487.1h0M289.4 492.2h0M244.6 519h0M262.3 517.8h0M251.5 525.6h0M276.9 502.7h0M259.7 512.5h0M276.5 496.7h0M248.4 498.7h0M276.7 507.6h0M283.1 494.2h0M256.2 497.7h0M245.4 485.1h0M231.7 512.4h0M246.4 502.1h0M261.4 511.2h0M274.7 508.9h0M270.8 488.2h0M246.7 479h0M265.4 500.8h0M289.7 511.4h0M278.7 494.1h0M233.4 529.2h0M273.4 515.4h0M264.4 506.7h0M243.8 507.7h0M269 491.2h0M266.2 518.8h0M247.6 506h0M243.9 520.3h0M281.4 517.1h0M293.7 506.2h0M290.6 491.4h0M258.1 492.1h0M251.4 506.5h0M285.1 502.5h0M243.1 516.2h0M261.5 507h0M234.7 503.6h0M297.2 504h0M291.6 505.4h0M254.3 488.7h0M261.6 493.9h0M242.8 506.6h0M259.8 483.1h0M249 510.3h0M242.5 490.2h0M253.7 524.8h0M290.6 507.6h0M295.6 495.5h0M279.2 508.6h0M244.8 525.2h0M291.4 505.2h0M265.7 501.5h0M298 507.3h0M260.6 510.9h0M249.9 506.2h0M243.9 486.4h0M271.2 512.7h0M256.5 524.3h0M249.1 493.9h0M242.4 508.8h0M289.6 509.6h0M266.6 481.9h0M232.7 504h0M249.1 519.8h0M259.8 516.1h0M249.6 521.4h0M262 502.1h0M252.1 519.1h0M253.8 513.6h0M246.1 519.6h0M244.3 520.2h0M246.7 512.7h0M252.4 492.2h0M256.7 513.2h0M237.1 488.9h0M253.3 493h0M251.4 500h0M272.6 515h0M238.9 488.5h0M240.4 484h0M273.4 487.1h0M279.1 501.4h0M268.7 519.4h0M276.6 506.8h0M257.7 504.7h0M246.4 499.7h0M252.7 517.7h0M235.4 517.2h0M270.9 516.4h0M269.1 513.9h0M243.5 506.1h0M230.6 501.7h0M243.6 521.8h0M240.2 476.1h0M264.1 486.9h0M290.5 501.3h0M239 514.8h0M243.8 515h0M296 510.6h0M258.4 500.5h0M277.7 486.3h0M244.8 497.2h0M265.1 522.3h0M276 494.4h0M234.3 490.5h0M259.2 498.7h0M252.8 506.6h0M283.8 516.1h0M286 514h0M247.9 500.6h0M261 519.1h0M282.7 493.7h0M243.8 521.5h0M295.7 496.7h0M237.4 511.3h0M284.9 502.1h0M244.6 513.4h0M259.6 477.3h0M279.1 505.4h0M257 485.7h0M269.8 505.3h0M280.3 507.3h0M264.1 496h0M268.3 500.7h0M296.4 488.6h0M273.1 491.2h0M268.3 488.5h0M264.6 482.8h0M240.4 492.9h0M300 505.8h0M277.3 514.6h0M235.3 491.8h0M262.4 515.8h0M290.1 501.5h0M274 511.4h0M231.6 503.9h0M259.4 484.9h0M264.5 500.1h0M268.3 514.5h0M238.1 528.7h0M261.2 514.1h0M284.2 498.1h0M235.7 514.6h0M281.8 495.6h0M254 473.5h0M241.7 518.5h0M267.6 502h0M251.1 488.9h0M269.8 509.4h0M263.6 501.9h0M287.1 501.1h0M258.7 490.6h0M268 507.9h0M240.3 483.9h0M269.5 506.6h0M300.5 510.9h0M261.8 491.7h0M293.6 498.9h0M284.2 492h0M241.9 499.4h0M254.6 494.3h0M273.3 510.3h0M277.3 505.2h0M277.5 500.4h0M272.7 504h0M271.6 491.5h0M247.3 513.8h0M238.1 507h0M255.8 489.4h0M274.8 514.4h0M296.9 494.5h0M240.1 479.1h0M251.7 490.8h0M266.9 497.2h0M254.5 483.9h0M275 513.4h0M251.7 490.7h0M252.6 505h0M252.9 476.9h0M256.5 477.2h0M239.5 509.8h0M246.7 499.7h0M280.1 499.3h0M290.7 493.2h0M265.8 518.4h0M280 509.4h0M281 499.1h0M289.7 512.2h0M269.7 487.4h0M276.4 510.3h0M302.2 508.9h0M313.6 505.8h0M275.7 497.3h0M290.5 500.6h0M252.7 506h0M271.4 489.3h0M292.4 508.7h0M243 526.3h0M245.1 497.3h0M241.2 488.2h0M267.2 507.6h0M251.7 476.7h0M273 511.9h0M250.3 521.1h0M248.5 527.6h0M252.3 498h0M264.4 521.2h0M241.5 528.4h0M234.3 490.6h0M228.1 493.5h0M283 492.3h0M255.3 512h0M237 502.3h0M269.3 503.5h0M259.4 517.1h0M300.7 500.4h0M282.4 502.8h0M256.3 501.1h0M242.3 478h0M243.8 517.3h0M285.2 514.5h0M267.1 492.1h0M246.2 498.3h0M297.9 507.7h0M250 518.8h0M247.5 487.2h0M263.7 492h0M244.7 524.7h0M279.3 491.5h0M271.6 507.8h0M295.9 495.2h0M268.5 493.5h0M252.5 499.1h0M273.3 503.2h0M274.8 491h0M278.4 516.9h0M266.7 486h0M244.2 523.3h0M275.9 492.6h0M249.3 517.6h0M251.8 487.5h0M294 512.3h0M247.3 512.8h0M249.3 502.2h0M284.5 496.9h0M261.8 501.6h0M290 509.9h0M237 487.2h0M260.3 517.8h0M288.7 512.2h0M239.2 497.4h0M265.3 485.9h0M278.3 504.9h0M265.4 489.9h0M286 514.8h0M302.5 509.8h0M252.1 483.8h0M250 490.2h0M240.9 511.6h0M277.8 509.4h0M261 512.9h0M263.1 517.8h0M242 519.7h0M263.7 494h0M254.5 494.3h0M265.7 499.5h0M271.6 488.7h0M283 506.5h0M252.2 486h0M251.1 485.3h0M240 496.1h0M261.3 487.3h0M251.9 479.6h0M274.6 487.9h0M244.1 492h0M264.2 518.3h0M253 513.3h0M264 513.3h0M252.2 476.5h0M293.8 510h0M254 488h0M289.2 508.3h0M263.5 520.3h0M243.2 517.5h0M270.1 499.2h0M235.4 510h0M257.8 511.2h0M245 505h0M253.3 485.6h0M263.9 522h0M260.9 504.9h0M267.6 485.9h0M273.4 505.9h0M275.6 495h0M246.2 525.1h0M292.3 511.9h0M246 502.3h0M257.4 508h0M264.6 496.1h0M261.8 519.4h0M261.8 488.5h0M255.4 519.9h0M240.9 524.3h0M257.6 515.7h0M269.1 486h0M303.7 495.3h0M246.8 514.1h0M246.3 505.2h0M298 505.4h0M247.8 512.1h0M278.6 500.3h0M277.8 493.4h0M267.6 482.5h0M273.4 503.5h0M301 502.2h0M283.3 489.6h0M258.1 506.3h0M287.4 498.2h0M253.9 505.8h0M248.8 527.6h0M259 514.1h0M259.1 491.4h0M296.7 496.4h0M242.3 526.5h0M246.4 502.9h0M264.6 505.8h0M263.1 501.2h0M248.5 492.2h0M299.4 506.3h0M259.4 489h0M236.9 492.5h0M265.1 522.1h0M284.3 511.4h0M245.2 507.9h0M266.5 499.4h0M249.5 513.5h0M269.2 499.8h0M238.6 480.8h0M234.4 527.6h0M265.8 489.3h0M304.2 508h0M264.2 489.3h0M279 489h0M264.3 488.4h0M250 480.9h0M246.9 500.2h0M258.2 489.7h0M252.4 503.6h0M289.8 513.8h0M257.9 477.3h0M249.4 510h0M256.9 497.4h0M292.2 507.3h0M239.8 478.4h0M243 499.8h0M234.5 503.2h0M252.8 516.2h0M244.5 524.1h0M249 513.6h0M283.8 506.2h0M292 505.7h0M234.5 531.5h0M257.7 502.4h0M260.6 519.1h0M241.3 488.4h0M246.4 490.8h0M253.7 498.8h0M297.6 508.1h0M251 526.8h0M239.4 486.6h0M259.7 498.8h0M243.6 519.2h0M304.1 509.3h0M242.4 504.3h0M240.7 512.6h0M256.4 524.2h0M241.1 506.1h0M312.6 494.6h0M252 509.1h0M251.9 525.1h0M265.8 498.1h0M253.8 521.4h0M243.1 523.4h0M240.7 485.1h0M289.3 511.4h0M252.1 524.1h0M273 518.1h0M276.3 483.8h0M243 520.4h0M266.8 498.2h0M235 486.8h0M245.6 516.2h0M271 510.7h0M283 502.2h0M252.5 498.4h0M263.5 494.1h0M281.5 517.1h0M245.7 494.7h0M272.3 518.9h0M281.3 509.9h0M271.8 509.4h0M295.4 510.5h0M281.7 511.3h0M233.9 518.8h0M275.3 515.2h0M288 500.3h0M310.4 501.5h0M293 509.1h0M287.4 513.6h0M277.1 517.7h0M254.5 485.5h0M251.4 506.3h0M283.3 494.1h0M252.4 478h0M287.7 505.7h0M273.1 509.2h0M286.4 515.3h0M284.8 510.5h0M291.9 512.7h0M237.8 500.5h0M259.3 511.4h0M271.1 508.7h0M277.2 503.1h0M258.7 514.8h0M246.9 508.2h0M254 513h0M238.8 498.6h0M266.9 482.7h0M280.1 510.7h0M230.5 532.4h0M240.5 508.9h0M263.6 499.5h0M236.1 514.1h0M248 496.5h0M240.5 477.2h0M237.2 483.6h0M278.6 490.6h0M246.1 499.9h0M305.7 504.9h0M264.6 514.6h0M281.3 516.7h0M257.8 475.7h0M297.5 501.4h0M288.2 495.3h0M268.2 499h0M262.9 480.6h0M254 499.3h0M291.2 508.3h0M259.9 517.9h0M258.6 516.6h0M243 497.7h0M239.2 524.7h0M253.8 524.3h0M261 515.7h0M257.7 489.9h0M293.5 513.2h0M254.6 516.7h0M242 500h0M253.7 522.5h0M252.2 521.9h0M251.6 487h0M253.2 479h0M239.9 495.1h0M278.3 511.6h0M295.2 506.3h0M269.3 520.9h0M269.2 508h0M260.8 517.6h0M272.1 492.2h0M266.9 495.2h0M266.3 494.3h0M254.4 512.8h0M264.2 481.4h0M277 499.1h0M242.9 501.8h0M252.8 498.8h0M273 513.7h0M267.3 483.1h0M298.7 507.5h0M234.7 499h0M281.7 506.9h0M267.5 505.9h0M293.9 503.1h0M250.7 520.7h0M270.2 490.7h0M275.9 518.5h0M266.2 489.8h0M266 504.2h0M251.1 520.5h0M236.5 521.2h0M296.5 501.5h0M249.2 478h0M288.6 499.8h0M267 519.5h0M302.2 504.5h0M250.3 522.7h0M255.6 515.2h0M282.3 514.9h0M249.5 521h0M284.3 508.4h0M235.4 493.9h0M257.2 509.6h0M288 498.6h0M273.5 516.9h0M240.5 490.3h0M284.7 505.2h0M260.5 507h0M264.8 511.5h0M298.6 504.1h0M265.8 495.8h0M254.7 525.4h0M264.1 512.5h0M278.5 516.6h0M267.9 493.8h0M261.9 489.7h0M251 498.4h0M251 525.1h0M239.9 528.2h0M277.6 501.2h0M274.1 500h0M264.4 513.6h0M286.4 511.3h0M294 510.3h0M285 512.4h0M264.3 494.2h0M286.2 503.7h0M261.5 518h0M243.4 481.4h0M290.8 513.4h0M259.2 490.4h0M253.2 486h0M241.2 486.1h0M273.6 496.8h0M280.9 505.2h0M262 485.2h0M254.7 503.8h0M292.4 501.1h0M259.6 512.5h0M245.8 503.8h0M240.5 476.1h0M299.4 507.3h0M285.8 502.7h0M234.1 516.3h0M258.8 507.6h0M277.7 512.8h0M243 510.6h0M266.5 505.9h0M272.7 516.6h0M303.5 505.6h0M269.9 504.4h0M254.3 477.1h0M258.9 499.1h0M252.6 497.7h0M241.1 482.5h0M277.5 502.7h0M238.3 486.3h0M288.4 503.8h0M252.6 507h0M276.6 512.8h0M272.7 504.7h0M296.3 506.7h0M284.3 499.5h0M282.9 514h0M239.9 497.6h0M280.6 496.5h0M289.3 505.7h0M238.8 495.7h0M290.6 496.6h0M277.2 507.3h0M251 504.4h0M292.6 507.8h0M244 481.1h0M263.6 499.8h0M254.1 503.6h0M279.4 511.1h0M246.4 485.8h0M249.3 490.1h0M242.2 518.1h0M275.9 493.6h0M261.2 480.6h0M284.3 509.1h0M275.9 516.8h0M251.5 523.7h0M264.5 520.5h0M267.7 512.9h0M267.3 518.4h0M242.8 520.8h0M241.4 504.6h0M264.9 482h0M252.7 510.9h0M242.1 527.7h0M304.9 506.4h0M260.3 489.4h0M251.3 495.7h0M243.3 507.6h0M293.4 496.3h0M267.3 484.3h0M285.4 500.9h0M254.7 507.9h0M272.6 507.1h0M292 507h0M294.8 497.2h0M247.8 513.6h0M283.2 500h0M250.1 484.1h0M272.9 509.7h0M240.6 500.5h0M300.4 509.7h0M265.9 521.2h0M267 489.2h0M248.3 523.7h0M260.1 487.7h0M297.7 508.6h0M232.1 513h0M288.6 512h0M242 517.8h0M238.8 521h0M277 501.2h0M240.3 514.4h0M253.3 497.1h0M293.7 497.2h0M235.1 488h0M257.8 516.6h0M262 491.3h0M268.8 512.8h0M256.1 525.3h0M259.2 511.3h0M279.9 498.1h0M236.5 519.5h0M298.9 497h0M273.2 513.2h0M247.5 492.3h0M276.4 490h0M234.6 509.2h0M271.5 507.5h0M309.8 501.7h0M247.4 499.7h0M245.3 509.4h0M238.6 518.5h0M245.6 516.4h0M297.8 499.7h0M240.2 486.4h0M280.3 504.8h0M263.3 482.6h0M304.7 505h0M240.1 490.5h0M306.4 508h0M243.4 511.4h0M282.6 493.8h0M246.9 511.6h0M293.7 510.2h0M248.3 526.9h0M257.4 499.6h0M249.4 517.2h0M272.9 503h0M286.2 499.3h0M271.5 492.7h0M291.5 510.4h0M289.4 512.3h0M283.3 501.9h0M279.6 499h0M295.8 504.5h0M285.1 488h0M271.1 495.4h0M250.7 506.3h0M263.9 490h0M269.8 505.9h0M246.3 520.3h0M243.4 494.7h0M265.7 511.2h0M288 497.5h0M258.8 502.5h0M252.1 526h0M247.5 519.4h0M305.9 501.4h0M264.9 495.5h0M276.1 516.4h0M296.9 511h0M279.4 509h0M281.6 503.7h0M261.6 502.3h0M255 511.1h0M278.8 499.8h0M273.8 489.6h0M296.1 505.6h0M250.6 518.7h0M274.7 496.5h0M229.1 489.9h0M293.6 499.2h0M285.6 506.4h0M290.2 502.7h0M255.4 502.6h0M253.4 478.8h0M285.2 506.3h0M271.8 487.1h0M254.2 476h0M241.5 481.8h0M307.9 500.6h0M246.6 508h0M274.5 505h0M251.8 507.1h0M251.7 474.2h0M246.2 482.6h0M289 492.7h0M244.4 515.9h0M264.8 522.5h0M268.4 516.7h0M281.2 508.4h0M256.6 510.1h0M289.6 508.3h0M271.3 518.3h0M260 500.7h0M244.8 510.4h0M243.4 498.3h0M214.7 537.2h0M244.8 526.6h0M261.5 516.8h0M251.2 495.1h0M267.6 501.9h0M244.6 503.2h0M241.5 500.3h0M266.3 497h0M242.8 510h0M286.9 508h0M265.9 494.2h0M258.6 506.8h0M266.9 518.4h0M295.6 499.7h0M288.9 511.6h0M257.3 511.9h0M241.3 506h0M251.7 519.2h0M256.7 479.6h0M247.8 498.9h0M266.6 498.9h0M302.9 509.9h0M245.9 487h0M247.7 493.7h0M291.3 508.3h0M260.8 485.3h0M291.4 511.9h0M298.3 507.9h0M240.8 494.3h0M242.9 504.7h0M253.2 501.8h0M273.2 516.7h0M256.7 489.9h0M281 495.4h0M257.9 500.6h0M301.3 508.7h0M236.5 528.7h0M244.4 510.9h0M271.4 485.9h0M259.3 493.2h0M277.7 515.6h0M267.5 517.3h0M248.4 511.6h0M239.5 479.2h0M257.9 495.6h0M257.2 519.9h0M261.1 490.6h0M244.1 522.1h0M276.6 488.9h0M257.3 502.7h0M283.2 499.4h0M283.1 496.7h0M231.3 522.5h0M290.8 495.1h0M256.5 485.9h0M289.8 497h0M272.5 510.7h0M298.5 496.7h0M294.6 501.4h0M222.7 500.6h0M290.6 505.5h0M244.6 522h0M261.2 492.4h0M254.6 504.7h0M238.5 509.6h0M278.9 513.2h0M254.9 490.4h0M275 500.7h0M239.2 494h0M234.3 511h0M282.5 495.8h0M253.3 495h0M257 477h0M272.2 488.6h0M286 500.2h0M256.6 488.8h0M276.8 515.2h0M232.6 507.1h0M270.8 515.2h0M294.7 505h0M252.8 510h0M268.5 505.2h0M232.5 497.8h0M265.2 477.9h0M232.2 521h0M236.8 489.8h0M242.3 492.7h0M244.9 517.4h0M245.4 495.1h0M250.2 505.5h0M239.7 485.6h0M285.9 508.1h0M296 509.5h0M252 488.8h0M246.6 510.5h0M302.9 504.8h0M248.2 512.2h0M267.6 479.8h0M263.1 495.6h0M295.9 511.9h0M268.5 502.8h0M273.7 488.9h0M243.4 525.9h0M279.5 502.1h0M251.8 491.5h0M275.5 516.5h0M274.3 500.5h0M266.4 498.4h0M253.1 510.9h0M277 507.2h0M233.2 526.5h0M258.5 490.2h0M236 529.3h0M283 504.3h0M279.8 513.8h0M300.6 507.8h0M247.5 493.5h0M283.8 501.1h0M247.1 484.6h0M253.6 524.9h0M246.8 519.7h0M245.5 518.5h0M274.2 497.7h0M268 517.5h0M240.8 476.8h0M287.1 512.2h0M241.2 500h0M263.7 515h0M280.1 496.9h0M233.8 485.3h0M287.4 503h0M295.3 508.3h0M256.8 522.8h0M253.7 520.5h0M279.2 513.1h0M250.5 490.6h0M272.3 509.5h0M256.4 510.6h0M269.6 497.1h0M248.6 516.3h0M252.3 490.5h0M273.8 484.5h0M243.5 516.8h0M243.5 507.2h0M271.7 518.1h0M258.6 481.8h0M264.8 520.6h0M241.9 501.5h0M245.6 511h0M277.5 496.1h0M290.8 508.3h0M247 485.3h0M242.5 494.5h0M260.7 486.1h0M291.4 510.5h0M248.7 504.3h0M276.4 514.6h0M241.8 483.8h0M277.6 492.2h0M258.9 498.2h0M239.1 514.1h0M246 510h0M248.8 480.9h0M284.5 503.3h0M255 507.5h0M269.4 500.3h0M278.6 502.6h0M262.8 497.2h0M256.5 482.9h0M256.3 487.7h0M288 501.9h0M260.4 504.3h0M254 517.2h0M286.8 491.6h0M294.8 497.3h0M241.9 513.7h0M250.6 493.2h0M237.5 481.4h0M264 489.3h0M259 514.3h0M240.8 525.9h0M283.8 496h0M269.5 510.8h0M272.6 488.4h0M289.8 509.1h0M302.9 499h0M245.8 474.5h0M249.2 522.6h0M303.9 507.8h0M255 523.4h0M262.5 520.1h0M277.3 474.2h0M282.6 494.4h0M270.1 508.8h0M240.9 525.2h0M242.4 517.8h0M265.2 500.1h0M294.8 498.3h0M250.9 479.7h0M258.8 514.2h0M303.2 507.9h0M285.2 507.9h0M272.1 505.1h0M273.5 509.8h0M257.6 487.2h0M245.9 477.5h0M283.4 513.9h0M276.2 512h0M297.9 505.9h0M271 496.3h0M270.8 501.9h0M280.5 501.2h0M246.9 501.6h0M252.3 498.4h0M273 499h0M258.3 512.8h0M231.7 498.8h0M250.3 505.9h0M239.3 479.6h0M236.4 514.5h0M237.2 504h0M232.6 494.1h0M254.6 479.5h0M275.1 517.8h0M269.1 514.9h0M251.3 508.3h0M269.2 507.6h0M265.3 510.1h0M275.1 505.8h0M250.6 515.2h0M260.1 510.2h0M253.5 495.6h0M233.8 499.5h0M238.1 510.3h0M241.6 475.3h0M270.1 506.2h0M264.6 520.5h0M228.9 518.1h0M251.5 489.2h0M271.7 489h0M278.6 492.8h0M236.9 528.6h0M266.1 482.5h0M252.1 513.6h0M287.2 509.5h0M259.9 522.2h0M283.4 491.6h0M266 515.1h0M253.1 474.3h0M259 491h0M244.8 490.1h0M247.7 527.8h0M246.1 526h0M262.7 521.1h0M254.4 501.4h0M250.6 517.4h0M272.1 485.9h0M243.7 483.8h0M233.6 510.7h0M276.2 516.9h0M270.9 507.4h0M244.1 526.8h0M271.2 519.1h0M275 514.8h0M234.5 520.5h0M236.4 506.9h0M278.6 503.9h0M277 500.6h0M281.2 507.9h0M305.1 506.7h0M241.1 501.6h0M254.3 481.7h0M264 512.7h0M274.5 500.3h0M291.8 513.2h0M280.9 512.9h0M270.2 508.7h0M232 517h0M256.4 505h0M231 518.1h0M281 506h0M248.5 508.6h0M244.3 482.3h0M274.5 501.4h0M258 486.7h0M237.4 490.8h0M275.6 515.3h0M241 516.5h0M247.8 513.5h0M280.4 516.3h0M255 506.3h0M291.9 502.1h0M303.4 504.8h0M253.6 510h0M256.9 484.1h0M288.3 512.8h0M298.3 510.9h0M264.6 489.2h0M237.6 508.7h0M285.7 502.3h0M248.4 510.4h0M242.5 506.2h0M270.8 487h0M273 501.3h0M260.2 516.6h0M262.9 480.9h0M279.6 504.8h0M273.6 494.4h0M274.3 499.2h0M314.8 502.4h0M278.7 510.8h0M280 517.2h0M273.3 496.9h0M268.8 513.6h0M248.8 502.8h0M279.7 495h0M240.7 484.3h0M266.8 502.7h0M267 514.2h0M259.3 500.4h0M267.7 516h0M273.8 492.9h0M246.5 501.3h0M257.7 523.2h0M286.3 493.1h0M258.1 524h0M239 496.6h0M283.8 506.1h0M254.8 483.5h0M272 497.1h0M281.4 507.2h0M262.4 513.4h0M247.8 488.4h0M252.7 501.7h0M228.6 519.3h0M285.8 501.7h0M282.5 516.1h0M256.3 512h0M239.9 512.6h0M254.3 492.6h0M235.6 513h0M298.1 510.2h0M305.6 507.1h0M263.5 488.8h0M242.4 502.6h0M294 508.7h0M264.3 480.9h0M253.7 515h0M269.6 507.2h0M265 494.7h0M298.5 498.2h0M305.1 501.3h0M257.5 489.8h0M237.9 508.4h0M261.7 497.2h0M272.7 493h0M242.7 503.8h0M266.3 503.2h0M268.8 509.9h0M265.2 493.3h0M267.8 482.4h0M255.8 488.1h0M280.6 508.4h0M261.9 501h0M276.3 505.1h0M243.3 504.3h0M271 495.6h0M253.7 492.3h0M260.3 487.9h0M294 506.1h0M274.4 515.2h0M253.8 475.5h0M294 508.2h0M256 500.1h0M257.5 523.4h0M245.4 504.8h0M269 496.3h0M290.5 509.9h0M243.9 518.7h0M244.5 525.3h0M252.8 511.9h0M271.8 491h0M255.4 518.8h0M275.6 508.8h0M267.9 498h0M290.6 509.6h0M301.1 505.1h0M260.4 501.4h0M269.6 515.2h0M298.9 508.3h0M296.7 499.6h0M257.2 521.6h0M237.5 503.6h0M301.4 505.1h0M291.4 498.1h0M235.1 493.5h0M258.5 493h0M266.6 500.5h0M256.9 485.7h0M267.4 496.2h0M258.8 505.2h0M313.1 506.5h0M281.6 497.3h0M262.3 519h0M247.2 514.4h0M249.2 515.4h0M252.7 526.3h0M266.6 519.8h0M265.3 504.8h0M241 517.4h0M272.2 519.5h0M274.6 500.5h0M274.5 518.2h0M260 480.1h0M260.2 499.5h0M247.3 521h0M240.8 501.1h0M280.9 502.3h0M292.2 494.9h0M251.6 506.9h0M250.9 495.8h0M272.7 500.3h0M289.6 507.8h0M284 494.8h0M287.2 505.9h0M261.3 516h0M260.4 519.6h0M259.4 523.1h0M254.3 501.6h0M235.4 518.6h0M285.9 510.6h0M252.5 510h0M244.6 518.4h0M251 477.9h0M233.6 484.2h0M243.1 497.5h0M183 457.7h0M198.8 464.3h0M204.2 464.6h0M197.3 482.6h0M215.3 470.8h0M220.4 474.2h0M221.2 472.6h0M212.2 495.1h0M217.3 485.8h0M219.6 486.2h0M221.9 486.2h0M218.8 490h0M221.2 495.1h0M218.1 500.8h0M216.8 511.1h0M225.8 510.5h0M224.2 519.2h0M212.4 521.8h0M233.2 455.4h0M235.5 453.8h0M241.2 449.5h0M241.9 459.5h0M250.7 459.2h0M237.3 466.9h0M248.5 466.2h0M254.2 463.8h0M229.6 473.1h0M228.5 476.9h0M228.8 480.8h0M228.1 484.6h0M236.2 472.3h0M235.8 481.2h0M229.6 490.8h0M242.7 472.3h0M246.5 471.5h0M258.2 447.4h0M241.2 449.2h0M242.3 459.5h0M250.8 458.9h0M255.4 463.5h0M261.1 462.6h0M248.5 466.5h0M256.9 468h0M264.2 468.8h0M277.7 468h0M282.3 468.5h0M290 478.9h0M295.7 489.2h0M303.1 496.9h0M314.3 500.3h0M266.2 480.5h0" stroke="#cb0000" stroke-width="4.1" stroke-linecap="round" fill="none"/>
<line x1="154.2" y1="558.41" x2="499.6" y2="446.36" stroke="#3c3c3c" stroke-width="1.3" stroke-dasharray="5.3 2.5"/>
<path d="M292 520.5h0M314.1 585.5h0M283.6 615.9h0M340 586.1h0M326.5 532.8h0M327.6 553h0M258.4 553.3h0M309.6 556.9h0M335.2 625.4h0M274.2 544.5h0M319.3 620.3h0M318.6 580.6h0M309.9 553.8h0M360.7 587.7h0M308.3 587.1h0M389 581.7h0M274.6 563.9h0M298.2 527.8h0M272.5 544.2h0M286.2 593.9h0M274.5 545.2h0M290.9 536.8h0M325.5 597.5h0M353.8 624.7h0M352.5 560.2h0M283.7 543.5h0M308.7 525.6h0M330.3 592.5h0M373.2 597.7h0M290.3 528.3h0M330.6 534.3h0M278.7 537.8h0M267.7 608.4h0M279.9 532.8h0M325.8 524.3h0M272.9 551.6h0M347.3 608.2h0M353.7 598.8h0M261.3 547.2h0M306.3 608.6h0M305.6 589h0M257.1 621.5h0M336.4 550.5h0M279.4 588h0M317.4 551h0M322.6 604.4h0M333.9 605.5h0M331.3 617.3h0M298.2 563.9h0M283.8 517h0M246.8 545.2h0M297.7 544.7h0M315.2 537h0M344.3 560.4h0M290.6 534.2h0M301.8 555h0M255.7 528.3h0M351.9 589.7h0M309.6 573.7h0M303.2 539.6h0M297.6 598.4h0M337.8 528.9h0M331.9 621h0M353 604.2h0M268.1 539.4h0M349.5 630.2h0M323.6 617.9h0M267.7 568.6h0M316.2 555.1h0M297 514.1h0M244.1 531.1h0M331.6 592.2h0M248.7 540.4h0M273.8 560.6h0M295.1 616.4h0M309 567.5h0M308.1 520.2h0M366.4 571.6h0M361.6 613.2h0M283.5 527h0M290.5 538.7h0M312.3 551.1h0M269.1 555h0M340.9 612.7h0M309.2 582.2h0M305.9 584.5h0M261.3 563.4h0M299.3 526.2h0M264.3 577.8h0M335.6 553.4h0M331.4 622.9h0M354.1 625.4h0M305.1 589.6h0M333.8 609.7h0M311.7 532.7h0M317.9 571.1h0M301.2 598.7h0M340.4 592.2h0M275.9 596.4h0M342.9 564.3h0M355.4 590.2h0M287.8 556.4h0M315.5 611.8h0M274.7 528h0M346.4 582.2h0M258.3 556.7h0M326.4 587.7h0M270.7 530.5h0M318 557.9h0M324.1 619.8h0M273.2 552.9h0M320 520.6h0M307.8 520.6h0M252.9 545.7h0M254.2 550.3h0M288.4 518.2h0M300.8 551.2h0M278.2 525.3h0M344.8 621.3h0M316.3 584.5h0M310.6 608.6h0M320.8 525h0M282.2 532.3h0M301 597.8h0M341.1 644.3h0M274.1 544.2h0M274.4 568.8h0M327.8 594.3h0M351.1 595.5h0M377.7 620h0M295.8 569.9h0M330.6 596h0M297.2 524.7h0M281.7 522.3h0M335.9 560.9h0M285.8 571.6h0M358.9 608.5h0M381.1 543h0M310.1 573.1h0M363.6 623.6h0M352.1 571.7h0M308.2 615.4h0M350.8 570.7h0M347 571.6h0M300.6 559.2h0M356.2 518.4h0M336.6 575.5h0M320.8 571.6h0M267.4 527.2h0M322.4 511.9h0M323.5 561.6h0M359.9 540.7h0M318.8 543.1h0M270.4 538h0M305.4 599.5h0M254.3 548.8h0M323.6 586.1h0M277.4 545.8h0M312 554.7h0M306.9 566.2h0M331.3 573.8h0M273.5 543.3h0M394.4 585h0M329 592h0M343.4 544.5h0M322.5 530.2h0M314 552.8h0M264.1 564.1h0M383.9 602h0M287.5 593.2h0M303.5 572.6h0M306.2 564.9h0M308.3 623.9h0M349.6 594.4h0M284.4 542.5h0M298.4 518.5h0M302.7 584.2h0M330.6 613.8h0M330.4 575.9h0M443.2 551.3h0M271.4 600.2h0M352.8 583.6h0M397.6 617.8h0M303.3 525.7h0M325.5 552.9h0M353.3 612.1h0M309.6 546.9h0M284.7 542.4h0M341.7 521h0M300.9 513.4h0M263.2 566.2h0M340.8 550.2h0M282.2 582.8h0M294.6 525.2h0M311.4 526.2h0M305.4 542.5h0M327.4 510.8h0M299.2 572.4h0M290.1 565.6h0M337.1 639.8h0M309.7 633h0M332 629.2h0M358.9 562.5h0M289.1 549.2h0M323.3 560.6h0M286.9 575.5h0M311.1 551.5h0M294.2 545.2h0M339.8 624.2h0M328.1 625.1h0M337.8 570.9h0M339.5 561.4h0M345.6 585.8h0M242 532.5h0M345.7 552.2h0M258.9 556h0M275.8 562.7h0M338.3 548.1h0M290 538.7h0M335.6 543.4h0M276.2 538.5h0M311.9 524.4h0M362.7 618h0M338.5 560.8h0M356 564.1h0M261.7 562.6h0M344.3 553.4h0M366.5 563.7h0M283.9 540h0M303.5 597.5h0M305.6 542.8h0M312 526.8h0M301.8 592.5h0M349.3 551.2h0M288.8 546.3h0M327.4 568.8h0M379.5 558.6h0M318.1 598.3h0M317.8 553h0M311 540.7h0M351.9 588.9h0M334 619.7h0M326.7 557.4h0M302.9 514.1h0M273.1 551h0M293.6 596.1h0M258.9 530.6h0M294.9 538.3h0M334 586h0M277.9 559.7h0M308.2 536h0M336.7 541h0M329.2 565.8h0M252 526.8h0M252.1 545.8h0M313 524.4h0M293.2 587.8h0M330.7 576.9h0M282.5 580.2h0M243.2 544.4h0M290.5 533.9h0M316.7 542.9h0M285 570.8h0M361.3 599.2h0M340.9 610.2h0M248.8 550.5h0M261.9 531.6h0M231.9 553.5h0M258.6 535.3h0M326.7 643.7h0M323.5 555.7h0M307.9 556h0M304.5 565.2h0M317.4 584.9h0M350.9 650.2h0M305.4 534.2h0M312.3 517.5h0M323.1 576.7h0M306.9 594.5h0M327.6 578.8h0M288.5 554.1h0M306.6 517.4h0M296.4 564.6h0M316.2 609.9h0M302.2 580.2h0M309 527.5h0M335.6 562.6h0M282.7 546.3h0M318.1 533.2h0M336.1 545.5h0M317.1 518.9h0M297.3 591.9h0M340.6 599.1h0M300.9 510.9h0M318.3 574.4h0M268.3 589.8h0M370.6 616.7h0M270.9 537.6h0M287.6 576.9h0M258.7 550.6h0M303.1 551.1h0M336.1 590.7h0M243.5 577.9h0M340.6 567.8h0M291.7 553.1h0M321.5 517.1h0M299.3 551.6h0M333.8 619.5h0M294.1 594.1h0M352.7 565.4h0M347.9 599.1h0M296.5 573.6h0M298.5 579.3h0M280.6 548.3h0M364.1 591.5h0M294.1 593h0M337.9 595h0M275 563.8h0M346.1 620.9h0M269.6 571.6h0M374 653.5h0M401.8 620h0M382 606.4h0M269 523.5h0M348.9 606h0M339.6 556.5h0M330.2 552.6h0M253.9 553.9h0M262.1 631.2h0M343.6 609.7h0M312.3 581h0M256.9 527.7h0M286.1 550.4h0M252.1 563h0M346.9 620.6h0M349.8 613.8h0M279.3 536.7h0M348.9 608.7h0M323.8 599.2h0M296.5 531.8h0M346.2 586.7h0M362.4 566.2h0M274.5 561.4h0M335.2 624.8h0M302.2 531.8h0M266.9 565.7h0M332.1 553.1h0M290.6 598h0M331.5 593.6h0M354.2 573.8h0M304.4 557.6h0M307.7 522.1h0M335.8 558.8h0M352.8 602.3h0M331.4 561.6h0M322.1 623.7h0M286.9 553.7h0M284 541.1h0M331.7 542.2h0M328.4 597.7h0M327.7 588.1h0M293 608.7h0M259 542.7h0M312.1 566h0M399.7 662.7h0M306.1 587.9h0M330.5 552.6h0M322.5 566.4h0M323.5 556.8h0M374.1 603.9h0M268.4 581.9h0M400.1 631.2h0M331.6 535.7h0M342.2 588.4h0M369.1 612.6h0M253.3 608.5h0M257.5 573.1h0M322.4 615h0M316.8 536h0M315.1 516.6h0M281.8 556.9h0M326.1 526.6h0M276.7 566.3h0M359.1 584.8h0M322.8 525.1h0M314.5 527.8h0M299 550.5h0M254.2 554.3h0M311.4 526h0M345.7 533.8h0M281.2 524.2h0M361.5 582.1h0M339.8 623.1h0M277.2 559.7h0M271.3 532.2h0M326.7 559.1h0M350.1 562.6h0M311.9 588.5h0M363.5 637.5h0M339.7 550h0M291.3 532.3h0M350.7 591.9h0M239.4 534.3h0M342.4 623.6h0M321.6 518.4h0M309.1 601.5h0M306.5 583.6h0M317.9 530.9h0M285.5 566.6h0M324.6 556h0M304.5 584h0M297.6 537.6h0M343.2 529.1h0M328.8 617h0M312.9 525.2h0M258.3 562.6h0M307.6 545.5h0M345.6 608h0M330.4 583.3h0M339.5 574h0M295.3 587.9h0M310.3 586.2h0M331.5 604.4h0M319.8 553.5h0M354.3 575.1h0M335.1 542h0M287.6 526.3h0M292.6 555.3h0M333.9 567.3h0M286.3 604.3h0M312.3 514.3h0M364.5 582.7h0M381.9 549.4h0M285.2 522.2h0M332.8 615.3h0M285.8 565.1h0M295.8 585.6h0M318.7 611.6h0M339.3 623.2h0M304.9 585.1h0M346.2 594.4h0M325.1 558.8h0M256.2 534.6h0M377.6 600.9h0M337.2 585.7h0M256.2 538.6h0M348.1 573h0M351.8 607.4h0M256.3 560.3h0M322.9 528.4h0M291.3 548.5h0M323.6 577.9h0M376.3 615.7h0M286.2 524.2h0M279 575.3h0M334.3 564.4h0M300.1 609.6h0M392.1 611h0M325.9 571.9h0M329 593.7h0M337.2 631.5h0M305.6 532.2h0M310 599h0M341.5 539.2h0M289.4 593.2h0M308.1 558.6h0M261.3 533.5h0M336.7 603.9h0M293.3 537.5h0M297.4 568.7h0M340.9 631.2h0M320.7 528.4h0M317.6 572.7h0M309 563h0M293.3 539h0M280.3 602.8h0M307.4 590.6h0M295.8 547.7h0M414.4 591.6h0M272.2 581.5h0M330.6 618.7h0M355.7 542.6h0M361 591h0M281.7 559.4h0M311.2 562.5h0M291.4 606.3h0M281.5 561.7h0M312.6 556.2h0M339.1 629.3h0M299.9 563.1h0M408.7 636.8h0M331.2 568.5h0M340.7 603.9h0M298.9 596.3h0M245.5 535.3h0M283.9 608.9h0M256.7 613.7h0M294.5 535h0M325.2 577.7h0M315.6 527.4h0M300.2 587.6h0M304.3 563.5h0M316.6 539.1h0M275.4 528.2h0M297 572.2h0M271.1 562.9h0M295.2 552.9h0M304.8 560h0M272.8 540.1h0M290.2 557.6h0M331.7 609.9h0M311.5 574.5h0M314.5 590.4h0M331.9 599.2h0M338 530.9h0M292.1 552.9h0M282.1 524.4h0M343.9 599.4h0M403.5 642.8h0M331.1 570.1h0M339 603.9h0M252.4 528.4h0M340.9 597.6h0M310.6 598.8h0M311 599.9h0M358.1 630.6h0M372.6 614.9h0M256.6 535.1h0M338.2 622.5h0M330.8 561.4h0M287 569.7h0M352 626.5h0M311.2 539h0M363.8 603.4h0M355.4 617.5h0M268 619.6h0M260.5 534.4h0M369 589.8h0M283.4 616.5h0M341.7 548.1h0M338.2 544.5h0M343.6 555.9h0M333.6 651.5h0M381.3 608.9h0M397.5 608.7h0M346.3 536.5h0M333.6 553.5h0M241.7 534.6h0M352.4 629h0M295.5 591.8h0M341.1 595h0M299.3 521.7h0M247.8 539.9h0M348.4 617.2h0M275.9 569.7h0M357.8 573.3h0M323.3 596.1h0M264.6 587.5h0M299.6 529.3h0M281.4 531.2h0M324.1 546h0M304.5 546.3h0M404.1 607.2h0M330.2 631.4h0M366.7 643.3h0M283.9 564.3h0M326.8 578.6h0M315 569h0M334.7 559.7h0M330.3 516.8h0M364.3 654.3h0M336.9 535.9h0M335 556.8h0M287.6 543.6h0M318.6 606.5h0M263.7 553.7h0M280.1 576.7h0M349.6 585.3h0M347.5 632.3h0M272.9 556.5h0M361.2 524.2h0M315.4 600.2h0M334.8 550.7h0M263.1 540.3h0M335.2 544.3h0M364.6 659.6h0M315.2 573h0M300.2 511.9h0M260.7 536.4h0M335.8 515.4h0M307.8 553.5h0M313.8 543.2h0M320.3 559.5h0M279.1 534.7h0M308.9 514.6h0M284.7 535.2h0M253.3 528.8h0M367.5 541.6h0M341.4 670.2h0M342.3 612.4h0M274.2 535.2h0M315.5 602h0M344.3 579.7h0M330.8 623.2h0M344.1 615h0M316.2 562.4h0M334 565.8h0M310.7 568.5h0M319.6 571.2h0M340.9 635.1h0M341.6 556.6h0M320.8 531.8h0M293.2 515.7h0M244.7 536.5h0M309.1 523h0M313.9 559.2h0M300.7 576.2h0M311.8 605.9h0M342.5 558.4h0M305.9 521.3h0M312.5 596h0M368.4 657h0M383.2 607.5h0M361.5 589.9h0M278.6 555.8h0M311 514.6h0M343.7 605.5h0M276.7 548.3h0M395.8 649.7h0M246 531.1h0M362.9 610.4h0M307.2 554.2h0M294.3 516h0M281.8 527.3h0M348.6 595.4h0M330.3 595.6h0M310.3 525.1h0M343.5 627.5h0M280.5 571.2h0M291.6 635.2h0M397.5 565.3h0M307.2 566.7h0M286.6 564.4h0M318.6 539h0M328.2 585.3h0M406.8 581.7h0M290.5 587.5h0M316.4 595.3h0M344.5 528.1h0M304.1 601.6h0M299.1 581.1h0M255 557.8h0M355.5 550h0M326.2 554.7h0M304.1 520h0M264.6 624.6h0M262.3 532.1h0M281.5 556.2h0M271.2 527.2h0M340.1 543.9h0M320.6 561.7h0M300.4 584.1h0M290 586.6h0M326.6 567.4h0M298.6 547.6h0M300.3 611.2h0M346.2 537.2h0M260 568.7h0M253.9 529.6h0M356.2 530.7h0M249.6 535h0M319.4 573.7h0M289.2 533.7h0M296.6 547h0M315.1 626.2h0M305.4 565.1h0M270 580.7h0M281.2 588.2h0M311.5 598.6h0M351.9 588.4h0M354.2 611.1h0M306.5 584.9h0M332.1 585.3h0M353.2 569.9h0M308.4 518.8h0M279.9 560.3h0M334.6 533.8h0M328.3 558.2h0M341.1 626.2h0M306.3 529.1h0M308.9 588.6h0M323.5 579.4h0M355.3 596.4h0M314.1 602.5h0M286.6 535.2h0M335.3 627.3h0M301.5 593.2h0M292.9 528.4h0M312.9 525.4h0M364 581.7h0M318.1 574.9h0M297.9 549.9h0M379.9 575h0M334.3 586.3h0M372.8 596.6h0M346.2 596.9h0M259.4 553.2h0M321.3 615.3h0M313.1 561.1h0M349.6 592.4h0M300.7 563.7h0M289.7 584.4h0M259.2 608h0M369.2 669.1h0M333.3 574.2h0M311 587.6h0M267.4 562.3h0M277.2 520.8h0M338.6 632.8h0M309.7 614.8h0M281.6 553h0M281 618.1h0M329.7 545.7h0M311.4 525.8h0M283.3 542.5h0M320.7 527.4h0M261.1 537.7h0M246.7 539.9h0M358 543h0M345.5 557.9h0M308.8 529.5h0M245.3 566.6h0M355.3 619.9h0M280.7 545.7h0M270.9 576.2h0M271.6 552.9h0M307.5 603.4h0M325.3 578.5h0M310.6 614.7h0M323.9 619h0M301.6 583.9h0M329.3 617.7h0M310.7 598.6h0M346.9 571.6h0M321.1 613.1h0M321.1 537.7h0M328 610.3h0M285 565.7h0M267.1 530.5h0M324.3 603.8h0M332 615.8h0M262.7 566.3h0M325.8 599.6h0M307.3 616.9h0M277 572.2h0M250.8 529.4h0M306 596.5h0M359.3 562.6h0M285.1 527.5h0M345.7 558.2h0M313.4 646.5h0M343.3 575.5h0M322.4 518.2h0M334.6 630.1h0M331.3 614.9h0M276.5 538.2h0M311.4 514.1h0M325.6 597.9h0M321.5 525.3h0M256.5 596.1h0M302 537.8h0M251.7 548.2h0M312 546.8h0M290.2 568.8h0M335.9 557h0M278.8 563.3h0M376.5 607.2h0M343.2 562.2h0M384.1 594.6h0M334.5 589.8h0M280.2 613.1h0M367.5 540.3h0M366.4 542.8h0M381.3 604.8h0M290.5 528.4h0M272.3 563.9h0M299 524.1h0M323.8 618.7h0M295.5 573.6h0M371.9 594.4h0M318.1 638h0M313.8 575.4h0M313.7 531.3h0M258.3 546.4h0M310.6 619.5h0M300.3 546.9h0M306.5 544.5h0M314.4 604h0M344.8 630.8h0M311.6 555.6h0M337.7 616.9h0M362.5 596.4h0M349.2 582.7h0M317.4 542.3h0M362.5 541.7h0M319.3 566.7h0M286.1 526.3h0M319.1 521.5h0M315.7 561.7h0M296.4 565.8h0M382.3 591.5h0M273.8 519.7h0M354.7 582.3h0M319.3 638.2h0M372.4 528.3h0M348.1 527.9h0M344.4 568.5h0M380.4 580.6h0M324.5 579.3h0M303.4 532.2h0M299.9 605.6h0M324.3 571.9h0M299.7 562.6h0M261.3 534.7h0M334.9 562.8h0M345.6 607.5h0M321.9 596.4h0M300.3 543.4h0M270.3 579.5h0M333 558.3h0M295.2 555.5h0M320.6 516.2h0M311.7 591h0M289.2 589.8h0M283.3 537.5h0M333.7 640.5h0M281.4 566.7h0M273.6 558.7h0M326.8 531.6h0M304.7 587.9h0M354 525.4h0M353.9 568.7h0M291 550.9h0M282.3 527.5h0M312.8 545.8h0M300.6 513.2h0M324.3 537.2h0M337.5 607.6h0M306.5 591.8h0M340.7 552.3h0M273.5 525.8h0M330.3 534h0M311.8 532.1h0M327.2 560.2h0M299.7 513.2h0M287.2 601.3h0M351.4 604.8h0M309.1 556h0M262.4 524.1h0M295.1 598.9h0M258.3 569.9h0M294.3 513.4h0M315.9 613.1h0M314.3 613.5h0M302.5 561.3h0M323.2 610.8h0M310.4 582h0M250.1 542.2h0M249 551.2h0M299.4 607.7h0M334.6 580.3h0M334.4 557.6h0M262.1 544.9h0M315.9 527.1h0M320.9 605.4h0M290.4 568.8h0M289.9 563.6h0M338.9 558.2h0M337.6 569.9h0M315.5 633.2h0M257.2 536.5h0M343.4 593.7h0M344.8 528.5h0M299.1 606.8h0M262.6 556.9h0M300.3 602.7h0M354.6 609.1h0M285.6 582.2h0M339.7 600.7h0M307.9 528.1h0M348.5 647.8h0M280.1 589.7h0M282.9 560h0M345.8 574.4h0M321.6 613.7h0M347.6 586.9h0M287.9 542.3h0M270.2 567.2h0M294 595.9h0M295.9 574.4h0M256.6 552.1h0M302.7 536.2h0M308.3 516.4h0M352.4 584h0M327.2 609.8h0M274 558.5h0M358.9 611.1h0M291.6 530.8h0M357.7 603.7h0M367.3 639.7h0M320.8 612.4h0M357 609.6h0M286.4 519.2h0M290.5 531.1h0M315.3 602.5h0M316.9 573.8h0M338.1 579.8h0M321.3 529.8h0M335.3 613.8h0M372.8 568.3h0M295 560.7h0M313.2 559.1h0M311.2 557.7h0M302.6 557.9h0M268.8 613h0M258.5 535.9h0M271.7 577.1h0M280.5 520.2h0M287.3 570.1h0M260.7 558h0M342.3 592.7h0M307.5 582.2h0M309.2 542h0M273.5 531.2h0M342.1 551.2h0M247.3 560h0M312.5 615.4h0M314 552.6h0M334.3 560.5h0M321.9 609.9h0M329.9 599h0M345.9 603.7h0M305.3 593.9h0M281.1 559h0M250.8 549.6h0M362.3 571.1h0M376.1 592.7h0M323.7 575.9h0M348.2 611.2h0M276.8 537.4h0M275.1 522.5h0M329.7 639h0M330.1 566.1h0M302.8 598.2h0M330.3 580h0M312.1 595h0M284.1 532.6h0M265.4 549.2h0M306.6 563h0M300 575h0M323.9 527.1h0M318 546.9h0M305.1 540.9h0M294.2 564.8h0M270.5 569.1h0M318 587.6h0M350.7 585.4h0M323.6 525.4h0M335.3 596.9h0M325.5 613.3h0M239.4 534.5h0M292.5 552.3h0M335.1 585.3h0M322.8 576.2h0M355.8 600.1h0M337.2 573.5h0M305.7 541.1h0M335.5 584.4h0M295.2 573.3h0M288.7 547.8h0M328.9 611.3h0M317.2 622.1h0M357.3 597.4h0M357.1 576.9h0M285.9 603h0M325.7 538.5h0M263.9 549.4h0M319.8 567.7h0M330.6 601.3h0M318.9 590.9h0M307.7 552.9h0M357.2 583.7h0M251.1 544.6h0M336.2 640.6h0M326.2 556.8h0M304 613h0M317.5 517.7h0M378.2 625.1h0M281.1 520.2h0M284.1 561.1h0M287 547.6h0M302.5 578.3h0M262.6 553.4h0M332.5 582.5h0M323.2 617.8h0M258.4 527.1h0M318.6 541.3h0M375.1 573h0M341.3 544.2h0M331.2 571.6h0M372.2 603.7h0M340.5 591.1h0M361.2 551.9h0M308.9 589.1h0M294.8 566.9h0M392.1 525.6h0M324.1 527.1h0M278.9 539.6h0M369 568.9h0M294.6 570h0M298.8 594.8h0M292.5 561.5h0M297 589.5h0M385.4 533.3h0M332.9 551.1h0M304.4 555.4h0M317.9 558.4h0M356.4 565.9h0M299.4 546.5h0M258.8 549.4h0M312.1 616.3h0M279.3 564.4h0M353.4 561.4h0M268.9 528.4h0M304.5 539.1h0M336 579.8h0M334.8 524.2h0M287.9 664.9h0M294 584.7h0M331 611.3h0M332 581.6h0M314.1 578.4h0M264.1 624.6h0M325.2 537.4h0M324.2 588.4h0M293 595.8h0M373.4 602.1h0M314.1 614.3h0M281.6 557.9h0M257.1 569.6h0M277 529h0M314.9 541.4h0M327.3 580.4h0M257.5 536.7h0M288.7 594.4h0M321.7 528h0M250.5 571h0M277.1 553.7h0M358 594.1h0M270.2 563.6h0M327.3 548.8h0M264.9 549.7h0M332.8 541.8h0M279.5 578.3h0M344.4 587.9h0M304.2 606.9h0M300.9 525h0M333.2 625h0M355.5 545h0M288.1 547.5h0M332.1 572.5h0M345.5 602.5h0M273.7 536.7h0M409.1 649.7h0M350.5 614.2h0M305.5 518.8h0M285.7 583.4h0M312.5 598.6h0M361.4 562.6h0M389.3 666.6h0M326.1 619.9h0M322.4 585.7h0M338.3 591.3h0M334.7 555.3h0M369.2 588.9h0M293.1 520h0M312.8 562.3h0M310.1 538.5h0M255.4 543.6h0M330.3 571.3h0M264.7 558.5h0M314.7 615.8h0M325.8 534h0M282.4 535.9h0M338.8 561.1h0M289.6 546.3h0M339.8 560.3h0M275.2 550.1h0M377.6 570.7h0M305.9 538h0M278.3 525.8h0M330.5 512.2h0M327.9 525.3h0M320.4 520.7h0M311.1 566.7h0M300.6 521.9h0M301.4 602.4h0M338.8 583.1h0M321.5 545.9h0M371.7 606.2h0M301.7 531.8h0M362.2 639.7h0M330.7 553.2h0M346 591.5h0M306 617.5h0M378.6 586.9h0M335.7 560.3h0M344.9 587.1h0M312 571.6h0M293.2 535.9h0M345.5 562.9h0M286.3 574.1h0M309.1 614.3h0M275.1 557.2h0M341.2 620.2h0M243.2 531.2h0M343.7 599.6h0M278.6 571.9h0M300.4 535.7h0M297.2 522.9h0M254.5 527.2h0M328.8 577.3h0M306.9 529.5h0M350.6 598.2h0M309.8 560.8h0M276.7 521.9h0M323.4 539.4h0M361.7 575.2h0M287.5 569.6h0M317.1 555.6h0M261.6 527.8h0M296.7 519.8h0M316.9 524.7h0M345.7 609.2h0M337.2 519h0M356.4 577h0M361.8 590.8h0M342.3 606.8h0M331.7 555.9h0M342.7 590.9h0M291.2 538.3h0M344.1 591.3h0M319.7 513.2h0M267.2 568.6h0M317.6 545h0M304.6 569.9h0M338.4 555.8h0M377.7 582.5h0M307.5 585.6h0M311.9 604.5h0M359.9 654.6h0M340.4 559.3h0M343.9 578h0M333.5 543.1h0M325.8 550.3h0M379.4 612.5h0M347.7 576.1h0M287.3 539h0M316.5 591.3h0M308.1 550h0M385.5 658.1h0M354.5 575.8h0M298.5 548.8h0M321.4 588.4h0M344.8 612.3h0M370.5 548h0M253.1 630.3h0M384.6 620.2h0M296.4 519.5h0M326.4 526.8h0M334.6 629.1h0M325.9 520.2h0M275.1 592.6h0M316.1 596.7h0M259.8 549.6h0M287.5 548.3h0M321.9 532.7h0M295.9 513.4h0M258.2 574.7h0M288.1 587.7h0M283.9 632.7h0M337.9 562.4h0M287.1 537.9h0M314.3 536.5h0M322.2 620.1h0M382 612.8h0M318.8 552.3h0M256.2 557.9h0M291.3 591.3h0M325.6 619.7h0M325.9 622.4h0M344.7 599.2h0M282.3 532h0M266.6 537.1h0M336.7 611.7h0M257.1 535.1h0M243.5 535.9h0M255.7 525.8h0M299.3 528h0M353 544.2h0M232.8 588.7h0M342.2 559.9h0M345.6 536.3h0M348.7 567.7h0M301.8 568.1h0M370.5 594.1h0M318.5 580.9h0M346.7 554.6h0M308.3 558.1h0M370.3 614h0M274.4 549.1h0M327.3 575.7h0M286.6 556.4h0M338.3 589.2h0M328.9 566.8h0M275.9 536.2h0M284.5 537.4h0M289.2 569h0M275.2 623.1h0M317.2 572.9h0M306.9 561.2h0M296.8 541.6h0M322.6 608.8h0M327 628.1h0M294.2 554.1h0M263.6 555.6h0M305.8 629h0M307.5 563.4h0M302.7 572.7h0M364.3 617.7h0M268.1 561.9h0M315.1 624.1h0M312.5 599h0M285.5 528.4h0M318.7 559.9h0M322.5 530.8h0M283.3 549.1h0M333.5 564.2h0M343 597.5h0M314.1 533.7h0M342.3 596.2h0M362.4 654.5h0M369 578.9h0M326.8 557h0M307.2 552.6h0M293.9 559.1h0M262.6 557.5h0M248.5 549.4h0M324.6 595h0M342.1 594.4h0M261.7 551.5h0M338.8 554.6h0M348.8 563.2h0M330.8 563.2h0M379.4 576.8h0M273.3 538.1h0M303.8 520.9h0M278.3 610.2h0M340 620.2h0M318.2 533.9h0M314 559.5h0M322.7 604.5h0M294 587.5h0M315.3 529.5h0M250.3 538.9h0M351 556.2h0M282.7 523.2h0M380.9 569.6h0M265.9 533.5h0M289.3 528.8h0M258.2 541.1h0M381.2 623h0M324.2 538.8h0M328.8 554.2h0M321.3 567.3h0M433.1 584.3h0M305 532.5h0M336.9 589.2h0M337.3 552.6h0M267.3 560.2h0M327.4 602.6h0M292.8 525.3h0M326.1 593.3h0M290.4 586.9h0M282.2 556.3h0M326.7 564h0M309.4 581.4h0M330.3 536.5h0M341.4 598.8h0M353.6 576.9h0M353.9 578.4h0M252.9 571h0M335 564.5h0M316.1 594h0M251.3 546h0M268.2 537h0M304.1 559h0M328.5 604h0M393.4 618.3h0M347.3 603h0M329.2 534.3h0M318.4 610.1h0M320.5 570.7h0M307.6 605.2h0M262.3 559.8h0M340.2 573.7h0M276.1 534.4h0M277.3 544.5h0M276.9 565.2h0M266.1 543.4h0M326 568.1h0M289.7 532.8h0M281.1 617.7h0M331.9 535.5h0M301.7 535.9h0M240 543.2h0M300 530h0M328.5 564.3h0M300.9 572.9h0M285 562.9h0M297.2 531.2h0M288.2 596h0M322.2 596.1h0M311.2 591.1h0M317.9 530.4h0M332.8 577.9h0M336.1 546.7h0M273.5 522.4h0M278.8 526.7h0M330.8 612h0M310.2 543h0M245.1 571.6h0M328.9 533.8h0M272.9 574.8h0M297.1 576h0M331 581.8h0M348.6 598.4h0M321.3 531h0M328.7 595.7h0M277 567.9h0M236 535.8h0M349.4 572.6h0M301.2 602.9h0M337.3 534.8h0M340 577h0M272.6 521.5h0M310.6 515.2h0M325.4 551.4h0M321 590.4h0M348.1 557.6h0M296 544.3h0M332.6 561.7h0M341.6 618.4h0M320.8 623.4h0M299.8 518.7h0M319.2 547.3h0M313.2 568.1h0M282.7 569.6h0M329.6 581.8h0M357.5 588.1h0M338.8 576.5h0M250.5 546.5h0M306.3 579.8h0M276.2 558.9h0M341.7 607.7h0M272.6 520.5h0M310.7 625.7h0M359.2 590h0M344 534.9h0M285.9 516.8h0M292.3 525.4h0M319.9 540.3h0M327.5 625.4h0M348.7 586.2h0M320.6 560.2h0M320.3 593.7h0M262.6 553.3h0M313.5 617.3h0M311.6 525.2h0M303.9 548.3h0M313.2 525h0M251.8 563.6h0M336.9 622.8h0M364.8 596.7h0M281.5 522.4h0M391 620h0M248.9 562.4h0M338.3 545h0M354.6 565.1h0M293 552.1h0M295 575.5h0M304.8 565.5h0M324.3 529h0M340.1 595.1h0M324.5 613.6h0M278.6 536.2h0M353.7 581.8h0M287.2 534.7h0M294 559.1h0M306.3 532.4h0M330.2 611h0M363.5 608.7h0M349.7 620.6h0M361.6 617.9h0M287.4 541.6h0M341.6 589.1h0M334.1 614.7h0M275.4 555.5h0M293 630.9h0M267.3 562.2h0M253.8 526.7h0M331 586.8h0M272 577.9h0M289.7 601.1h0M248 530h0M324.7 599.1h0M342.3 587.2h0M262.6 543.3h0M301.5 529.7h0M299.1 557.1h0M317.1 616.3h0M298.4 518.3h0M252.2 540.3h0M286.7 564.9h0M342.3 585.5h0M301.1 551.1h0M293.9 618.4h0M306.4 545.1h0M313.4 527.7h0M279.5 560.4h0M324.6 515h0M332.7 595.2h0M274.7 543.8h0M340 574.6h0M272 616.1h0M257.4 528.6h0M332.6 534.6h0M252.2 529h0M269.9 579.3h0M311.3 528.1h0M309.8 536.6h0M287.9 575.8h0M333.1 590.2h0M296.1 582.1h0M325.4 571.6h0M318.2 593.6h0M300.5 610.8h0M279.6 526h0M309.2 524.9h0M317.7 619.9h0M282.7 555.5h0M333.4 589.5h0M333.7 598.8h0M293.8 586h0M285.5 569.3h0M277.1 554.1h0M298.4 597.1h0M312.9 597.6h0M256.2 531.9h0M242.7 530.8h0M275 551.1h0M339.7 601.5h0M264.7 525.9h0M431.7 554.5h0M279.7 524.4h0M339.1 560h0M324.2 579.3h0M350.1 587.6h0M297.9 542.1h0M366.6 642.1h0M282 541.8h0M341.1 516.1h0M308 618.2h0M293.9 526.7h0M336.1 561.8h0M297.6 590.3h0M291.8 519.4h0M301.4 540.6h0M303.9 608.3h0M296.5 578.3h0M285.3 534.4h0M332.1 536.3h0M320.4 543.9h0M300.2 512.3h0M293.6 532.1h0M287.9 575.4h0M322.6 535.9h0M276.5 563h0M353.1 615.7h0M305 545.9h0M254.4 529.4h0M347.4 614.7h0M270.7 598.2h0M333 603.3h0M271.7 560.7h0M310.4 605.1h0M309.2 539h0M298.8 525.6h0M347.8 587.7h0M318.6 598.8h0M334.3 602.8h0M298.7 584.2h0M280.8 565h0M316.8 602.1h0M371 600.9h0M361.8 542.1h0M297.6 602.5h0M336.5 598h0M274.6 532.1h0M277.7 566.3h0M288.8 544.8h0M297.9 531.6h0M295.8 546.4h0M279.4 576.5h0M352 610.2h0M293 581.1h0M332 543h0M309.6 627.3h0M335.8 563.6h0M324.5 594.9h0M343.5 608.9h0M323.1 599.9h0M318.3 594.6h0M257.4 539.5h0M270.9 570.8h0M281.8 551.2h0M259 529.3h0M363.5 627.2h0M352.8 610.7h0M295.7 540.9h0M317.2 568.5h0M333.7 622.8h0M347.2 583.2h0M338.5 619.7h0M321.2 647.9h0M329.2 571.6h0M265.6 545.1h0M328.3 592.8h0M255.1 548.6h0M236 552.4h0M282.2 560.9h0M378.2 562.1h0M323.5 540.4h0M282.1 548.8h0M332.6 601.4h0M278.2 611.1h0M274.8 532.7h0M322.8 592.4h0M329 592.2h0M301.5 551.2h0M357.4 587.2h0M329 616.6h0M279.4 563.4h0M274.3 566h0M331.2 585.9h0M330.3 576.8h0M289.2 548.9h0M325.7 520.1h0M306 622.6h0M324.7 625.1h0M323.2 572.1h0M320.7 594.5h0M259.1 550.5h0M284.7 560.3h0M325.3 644.4h0M280.2 523.9h0M276.8 542.6h0M337 587h0M333.9 596.6h0M305.1 571.9h0M320.8 632.1h0M333.7 583.5h0M316 559.4h0M331.1 576.7h0M329.5 524.6h0M284.3 569.6h0M313.6 591.5h0M272.1 561.7h0M328 527.4h0M309.8 530.4h0M304.5 510.1h0M300.8 526.6h0M390.4 633.4h0M288.4 587.7h0M281.3 521.3h0M313.3 578.2h0M329.4 570.7h0M300.9 574.7h0M275.6 538.2h0M320.5 601.1h0M323.9 600.6h0M297.5 563.8h0M249.2 538.8h0M248.6 576h0M352.1 538.5h0M345.4 597.4h0M345.2 600h0M307.6 554.1h0M347.1 536.1h0M363.4 572.2h0M305.6 548.5h0M340.9 564.3h0M290.8 580.1h0M383.5 583.8h0M301.5 594.5h0M307 608h0M337.8 579.8h0M307.8 628.1h0M340 596.3h0M311.5 582.6h0M278.9 533h0M283.8 597.6h0M293 574.4h0M368.4 603.4h0M316.5 623.4h0M328 545.7h0M285.3 562.2h0M324.3 613.6h0M300.5 586.6h0M287.5 548.6h0M351.7 563.9h0M281.5 577.5h0M326.5 550.5h0M272.7 564.8h0M350 589.7h0M314.9 641.3h0M347.5 620.8h0M309.9 591.2h0M374.7 592h0M336.8 524.9h0M310.2 526.8h0M314.4 627.6h0M303 565.8h0M319.8 531.1h0M303.5 533.4h0M323.9 565.7h0M321.5 528.7h0M340.2 539.2h0M307.6 559.3h0M315.2 621.4h0M344.6 551.2h0M280.4 520.1h0M265.9 528.8h0M305.4 518.8h0M333.7 562.3h0M309.5 617.4h0M338.2 602.3h0M284.4 573.8h0M273.7 541.4h0M267.4 561h0M325.1 586.4h0M299 583.5h0M349.5 540h0M294.6 573.3h0M253.8 533.2h0M302.6 518.7h0M434.3 659.9h0M307.5 521.1h0M326.4 548.2h0M330.3 563.3h0M271.5 525.2h0M300.1 544.4h0M301.6 596.1h0M314.7 600.5h0M353.9 588.5h0M292.5 518.1h0M300.3 551.8h0M357.7 589.5h0M367.6 636.6h0M313.8 582.4h0M297.2 604.9h0M290.4 530.1h0M324.3 595.4h0M325.8 573.2h0M324.1 525.7h0M306.9 545.6h0M324.5 544.8h0M315.8 615.8h0M325.9 628.2h0M288.3 534.6h0M400.4 615.5h0M252.6 528.1h0M256.5 555.3h0M322.5 564.3h0M318.8 568.8h0M295 523.8h0M368.8 623h0M287.9 609.6h0M332 605.3h0M322.1 624.7h0M289.9 551.5h0M346 538.3h0M341.8 551.6h0M340.9 556.6h0M322.5 523.7h0M315.7 549.6h0M250.7 539.1h0M275.3 571.3h0M312 594.6h0M324.1 548.3h0M297.6 575.9h0M332 609.5h0M310.2 534.9h0M298 565h0M294.3 536.1h0M283.8 586h0M294.4 553.3h0M306.5 517.3h0M238.4 551.9h0M354.9 562.8h0M316.1 524.5h0M250.9 527.7h0M308.6 568h0M317.3 623.6h0M280.7 576.5h0M340.6 606h0M320.9 563.8h0M325.9 573h0M331.6 557.9h0M295.7 571.7h0M341.2 562.2h0M254.7 545.6h0M313.8 528.4h0M328.1 580.4h0M288.3 541.4h0M314.4 586.7h0M274.7 537.3h0M339.8 582.9h0M335.6 626.7h0M268.1 542.2h0M365.3 582.4h0M231.4 556h0M342.2 632.8h0M301.8 571.2h0M283.9 523h0M350.6 606.1h0M348.9 575.5h0M366.2 601.4h0M283.5 542h0M306.5 513.9h0M342.4 633h0M307.8 585h0M283.3 561.4h0M292.6 528.3h0M259.8 617.1h0M333 547.7h0M268.9 536h0M270.7 559.2h0M241.6 555.5h0M400.2 642.5h0M265.7 566.4h0M295.8 589.2h0M316.5 566.4h0M357.6 588.9h0M319 537.1h0M270.8 566.3h0M348.7 613.3h0M305.2 569.6h0M329.5 525.7h0M297 522.3h0M290.2 544.9h0M340.9 535.5h0M264.4 553.1h0M335.7 555.4h0M255 564h0M308.6 625.2h0M340.6 559.6h0M329.9 533.2h0M353.9 622.7h0M357.6 596.2h0M343.2 537.3h0M308.5 540.7h0M329.6 575h0M303.2 565.5h0M321.2 616.7h0M310.2 545.6h0M356.9 617.5h0M322.6 599.6h0M323.9 600.2h0M282.7 563.3h0M327.6 583.9h0M325 530.3h0M236.9 543.7h0M362.8 595.5h0M263.9 555.7h0M331.9 612h0M281.4 530.9h0M352.1 601.4h0M281.1 523.7h0M286 565.5h0M252.9 543.9h0M314.3 588.8h0M343.6 609.9h0M261.6 529.1h0M345.4 584.1h0M296.1 514.4h0M316.4 577.2h0M373.8 647.5h0M362.8 628h0M313.3 517.5h0M337.1 606.3h0M369.1 555.2h0M290.9 570.2h0M271.1 554.7h0M338.2 614.2h0M302 591.2h0M328.7 578.2h0M262.7 570.4h0M305 555.8h0M298.6 568.2h0M292.5 565.5h0M265.2 544h0M281.7 589h0M317.9 546.9h0M306.1 542.6h0M313.3 538.6h0M321.6 594.8h0M325.7 534.2h0M283.3 574.4h0M337.2 578h0M258.1 547.1h0M341.1 616.6h0M328.3 585.6h0M318.2 597.2h0M348.6 593h0M294.1 601.2h0M327.9 525.1h0M313.6 583.2h0M328.1 627.3h0M271.6 558h0M262.7 536.6h0M321.5 604.3h0M356.3 607.3h0M327.3 538.6h0M321.6 527h0M300.2 596.2h0M245.8 549.9h0M271.1 571.5h0M263.2 549.4h0M332.4 622.3h0M333.9 604.6h0M249.6 530.9h0M330.6 547.6h0M256.6 558.2h0M325.3 547.7h0M337.2 620.2h0M316.5 617h0M318.5 577.7h0M342.8 536.6h0M308.7 580.2h0M388.6 586.9h0M381.3 584.5h0M250.3 577.3h0M255.3 541.3h0M336.8 571.1h0M282.7 594.4h0M262.7 540.3h0M309.6 588h0M344.3 609.8h0M351.7 604.3h0M317.7 564.1h0M350.9 547.2h0M375.9 592.3h0M363.7 579.2h0M276.5 560.9h0M265 542.4h0M306.4 608.3h0M344.2 595.9h0M308.1 595.5h0M311.7 577.5h0M331.5 536.8h0M300.9 559h0M330.7 608.7h0M290.4 581.9h0M342.9 620.3h0M318.7 590.1h0M324.6 527.2h0M259.4 551.8h0M340.8 561.7h0M260.3 581.3h0M322.7 556.1h0M303.1 572.7h0M323.7 537.1h0M322.7 573.2h0M325.5 586h0M298.7 565.3h0M314.4 596.6h0M326.5 542.8h0M293.5 594.1h0M351.2 607.9h0M282.7 522.5h0M328.7 655.7h0M346.2 552.8h0M328.5 620.9h0M365.6 551.7h0M269.4 533.3h0M311.1 522.4h0M324.3 595.5h0M299.2 544.5h0M299.8 604h0M325.5 557.5h0M306.4 561.1h0M341.5 651.1h0M310.4 606.2h0M273.4 573.2h0M300.7 512.1h0M283.4 572.4h0M304 539.5h0M273.4 579.4h0M350.6 573.2h0M273.1 549h0M287.3 580.4h0M308.6 550.1h0M276.3 530.6h0M278.3 568.6h0M285.4 542.4h0M284.5 524.8h0M347.6 620.3h0M332.1 562.7h0M301.9 569.5h0M324.6 571.1h0M342.3 591.5h0M252.2 548.6h0M304.8 586.3h0M352.4 622.6h0M249.4 535.5h0M284.6 525h0M289.7 532.3h0M334.4 598.4h0M272.5 550.9h0M328.5 535.4h0M274.3 527.9h0M300.4 546.3h0M292.7 570.7h0M367 576.5h0M267.4 522.6h0M376.9 559.8h0M292.2 557.9h0M269.5 574.8h0M250.9 552.8h0M312.5 579.4h0M340.6 534.9h0M325.8 523.9h0M313.5 585.7h0M296.8 513.3h0M288.8 533.1h0M308.6 538.1h0M293.6 568.1h0M342.8 549.6h0M367.7 572.2h0M283 568.7h0M334.9 613.5h0M351.2 602.3h0M305.7 535.5h0M307 579.7h0M320.1 624.3h0M291.9 582.9h0M280.3 535.3h0M298.3 566.1h0M337.2 593.1h0M265.1 551.4h0M365.3 594.8h0M319.2 547h0M324.5 529.1h0M324.4 542.4h0M255.9 558h0M335.1 606.2h0M267 522.3h0M290.2 607h0M327.5 536.4h0M387.9 629.6h0M343.7 563.2h0M298.4 590.9h0M340.9 575.8h0M350.8 535.9h0M312.9 618.5h0M331.7 614.1h0M293.7 517.3h0M266.1 529.8h0M247.5 559.4h0M328.7 616.9h0M311.6 528.3h0M313.7 544.7h0M397.9 630.7h0M343.3 561.2h0M318.3 598.4h0M345.5 554.7h0M296.1 535.7h0M380 617.5h0M275.2 519.5h0M283.2 550.9h0M287 518.7h0M266.3 576.7h0M300.1 555.2h0M269.7 542.9h0M302.7 556.9h0M268.6 566.6h0M285.1 573.8h0M260.7 543.4h0M349.4 570.9h0M344.3 594.2h0M310.7 577h0M357.5 572.4h0M268.3 559.5h0M313.7 539.4h0M319.4 550.9h0M301.6 565.9h0M339.2 563.3h0M333.3 637.7h0M302.4 585.7h0M271 539.4h0M309.9 599.2h0M348.2 591.7h0M284.2 559.4h0M281.5 548.2h0M356.2 593.1h0M337.3 587.9h0M339.7 574.3h0M312.7 558.4h0M294 516.7h0M307.6 621.3h0M272.8 546.6h0M249.1 593.1h0M331.4 533.1h0M295.7 567.6h0M320.9 585.8h0M250.6 548.3h0M340.2 588.9h0M325.7 548.3h0M295.2 569.1h0M349.2 633h0M281.8 527.7h0M371.3 537.3h0M258.9 549.2h0M317.4 605.9h0M279.4 600.8h0M276.7 549.3h0M310.8 537h0M301.3 619.7h0M305.3 600.2h0M335.7 604.6h0M348.8 596.8h0M332.8 544h0M335.4 596.8h0M369.2 629.4h0M352.6 594.7h0M274.7 537.1h0M280.4 641.6h0M344.7 600.5h0M276.2 535h0M300.9 579h0M327.6 588.4h0M270 558.6h0M297.9 565.4h0M333.8 613.1h0M366.5 621.5h0M342.5 582.1h0M301.7 584.3h0M269.2 535.6h0M308.2 511.3h0M321 538.4h0M321 583.6h0M266.2 533.5h0M267 535.5h0M322.3 596.6h0M291.6 556h0M301 547h0M255.3 546.2h0M307.5 584.8h0M344.7 611h0M323.6 576.7h0M343 609.6h0M370.3 623h0M360.2 617.8h0M342.1 585.7h0M276 540.7h0M292.1 612.6h0M332.1 557h0M330.9 620.8h0M267.2 526.3h0M289.7 600.5h0M353.9 608.5h0M360.7 579.2h0M368.8 645.5h0M321.2 553.4h0M283.1 580.6h0M243.6 574.7h0M278.8 520.3h0M303 513.5h0M331.2 549.7h0M301.5 534.5h0M307.2 607.9h0M323.3 532.5h0M316.3 538.6h0M338.3 582.9h0M339.3 598.5h0M347.7 631.6h0M321.2 544.2h0M329.7 563h0M268.5 532.3h0M312.9 519.5h0M299.3 537h0M293.2 605.9h0M359.3 559.1h0M264.2 560h0M332.5 614.6h0M312.8 534.4h0M312.6 609.1h0M322.2 528.7h0M248 555.7h0M327.5 548.8h0M335.7 627.3h0M275 567h0M268.3 561.5h0M364.9 585.6h0M348.5 602.9h0M285.8 585.6h0M274.9 557.5h0M326.4 555.3h0M335.2 591.3h0M332.9 590.6h0M341 557.5h0M332.3 574.5h0M354.5 608h0M297.7 514.2h0M307.6 565h0M272.8 524.5h0M314.2 598.4h0M287.1 584.7h0M316.1 539.9h0M277.1 535h0M279.1 559h0M372.3 620.7h0M337.4 555.9h0M361.6 553.3h0M274.2 568.8h0M370.1 603.9h0M325.3 542.6h0M335.6 608.5h0M334.4 583.7h0M316.9 528.9h0M265.2 550.2h0M283.7 571.3h0M274.4 557.4h0M336.2 654.2h0M327.9 558.3h0M304.5 553.3h0M305.5 538.4h0M319.2 606.5h0M299.7 615h0M372.8 579.4h0M279.8 523.8h0M240.5 534h0M274.1 556.8h0M325.5 543.5h0M271.3 532.4h0M338.1 558.1h0M327.1 593.6h0M350.7 591.2h0M278.4 552.9h0M319.2 540.3h0M386.3 617.2h0M354.1 618.9h0M318 594.8h0M336.3 612.5h0M325.5 583.5h0M385.6 599.8h0M273.9 542.1h0M323.1 597h0M289.7 556h0M308.3 557.5h0M347.2 617.3h0M282.3 558.5h0M317.3 618.2h0M271.2 577.3h0M278.8 532.2h0M264 560.6h0M307.1 522.2h0M282.7 582.6h0M306.2 565.2h0M277.6 527.7h0M243.1 532.1h0M292.3 537h0M299 517.4h0M323.8 600.1h0M317.4 548.8h0M295.9 530.4h0M333.4 624.5h0M307 552.1h0M269.8 570.1h0M283.2 546.4h0M349 540.3h0M360.4 571.2h0M288.2 585.6h0M264.8 555.9h0M285.5 553.3h0M337.2 561.2h0M280.8 566.7h0M295.5 516h0M243.8 534.9h0M288.3 561.3h0M278.7 525.2h0M338.3 576h0M300.2 542.2h0M349.3 585.3h0M279 548.1h0M375.8 632.3h0M345.7 543.2h0M329.3 611.8h0M354.4 543h0M365.4 585.3h0M293.7 554.6h0M274.4 568.2h0M274.8 546.3h0M307.9 593.6h0M329.6 581h0M250.7 560.4h0M265 543.7h0M282.4 521.4h0M284 521.6h0M252 544.6h0M325.3 556.2h0M277.4 575.1h0M296 556.4h0M304.6 565.7h0M338.2 605h0M324.9 583.4h0M297 588.6h0M345.6 563.6h0M286.2 583.6h0M274 559.9h0M359.7 574.6h0M301.3 605.8h0M343.7 601.4h0M316.5 586.6h0M331.5 554.5h0M264 529.7h0M287.4 544.4h0M298.1 559.1h0M254.4 529h0M258.5 540.1h0M302.9 570.5h0M305.5 578.5h0M292.4 560.8h0M272.1 552.6h0M273.6 544.7h0M251.4 527.8h0M320.6 556.6h0M280.2 538.8h0M342.7 595h0M275.5 527.4h0M327.1 534.9h0M306.8 598.9h0M403 633.8h0M307 556.4h0M310.5 612.5h0M257.1 536.3h0M302.3 591.8h0M327.1 620.8h0M316.2 513.8h0M336.7 620.2h0M245.1 531.6h0M259.3 548.5h0M274.6 548.6h0M267.1 535.8h0M336.5 573.1h0M286.4 617.5h0M332.4 578.3h0M308.9 519.9h0M312.1 528.8h0M390.2 566.6h0M300.4 517.2h0M334.9 613.1h0M358.4 565.8h0M288.6 605.9h0M348.9 622.7h0M334.4 598.5h0M357.5 591.3h0M277 552.2h0M285.8 600.1h0M323.9 546h0M336.6 549.5h0M325.1 585.8h0M284.6 551.5h0M322 557.5h0M297.1 628.4h0M283.7 583.9h0M274.9 541h0M324.3 575.2h0M293.1 528.2h0M313.2 529h0M295.1 552.6h0M311.8 594.8h0M299 642.1h0M309.9 583.8h0M313 578.5h0M322.6 529.6h0M286.3 528.4h0M349 620.4h0M326.2 580.6h0M262.7 535.1h0M359.5 638.7h0M249.9 538h0M293 567.6h0M286.7 568h0M261.6 540.4h0M344.1 613.9h0M324.9 578.9h0M364.3 598.3h0M327.6 586.7h0M350.4 606.4h0M343.5 622.3h0M260.1 537.4h0M318.2 510.3h0M358.5 530.4h0M264.2 524.5h0M289.9 522.8h0M330.6 538.8h0M307.7 514.1h0M258.2 552.8h0M309.1 561.4h0M303.3 591.9h0M272.6 558.1h0M270.9 544.3h0M302.5 574.5h0M328 563.1h0M295.2 561.4h0M319 518.9h0M252.4 565.2h0M310.7 572.4h0M319.3 547.9h0M299.6 567.5h0M316.1 557.6h0M311.9 522h0M312.9 529.7h0M315.8 532.8h0M308.1 583.9h0M348.7 557.6h0M325.7 606h0M415.8 593h0M283.4 523.7h0M309.3 613.9h0M311.2 553.1h0M261.9 541.5h0M241.7 530.5h0M314.6 601.2h0M332.4 568.7h0M376.7 597.1h0M284.8 553.1h0M334.2 645h0M323.1 530.1h0M267.7 567.7h0M311 569.3h0M302.6 585.3h0M356.4 572.4h0M319 539.2h0M353.2 604.4h0M280.3 522.1h0M343 549.9h0M336.7 584.8h0M319.3 621h0M298.1 514.3h0M338.9 560.1h0M363.4 531.8h0M341.4 566.9h0M295.6 591h0M242.9 558.1h0M308.7 564.9h0M293.3 539.7h0M300.6 519.4h0M331.7 623.8h0M345.9 616.5h0M284.7 516.7h0M319.9 579.5h0M312.2 563.7h0M310.9 595h0M344.7 618h0M334.8 580.7h0M399.4 586.4h0M331.5 575.2h0M284.1 574.2h0M350.6 605.2h0M330.3 616.6h0M288.6 592.4h0M263 543.3h0M338.1 568.9h0M298.8 531.8h0M332.8 566.6h0M307.2 525.4h0M319 620h0M277.9 558h0M275.1 532.9h0M346.6 586.6h0M366.2 623.5h0M323.8 553.3h0M286.7 607.4h0M315.5 547.3h0M342.8 599.4h0M327.1 599.7h0M284 541.3h0M317.5 598.4h0M390.6 551.7h0M311.5 536.2h0M303.1 539h0M327.4 602.5h0M343.6 551.4h0M330.3 590h0M319.2 596h0M288.2 601.6h0M298.7 548.7h0M309.2 518.7h0M252.8 538h0M321.1 547.9h0M335.5 592.3h0M287.6 573.1h0M261.5 526.3h0M315.5 533.3h0M351.6 585.8h0M309.3 588.4h0M341.4 591.5h0M273.5 549.8h0M257.3 532h0M281.7 566.8h0M311.6 547.3h0M336.1 549.8h0M245.3 566.9h0M289.9 596h0M308.7 569.1h0M342 632.9h0M350.7 620.1h0M294.9 567.4h0M262 583.1h0M294.9 538.1h0M338.7 558.7h0M274 521.8h0M271.3 536.4h0M281.3 550.4h0M288.3 590.7h0M253.4 632h0M319.5 561.3h0M286.2 534.6h0M317.4 526.9h0M309.2 543.3h0M334 555.5h0M296.4 541.1h0M346.8 610.7h0M270.8 568.7h0M345.3 529.4h0M332.2 618.3h0M280.4 533.1h0M308.8 590.1h0M308 608.3h0M251.4 529.7h0M318.8 524h0M318.1 605.6h0M356.3 534.6h0M331.6 555.9h0M357.8 550.6h0M307 571.5h0M366.9 621.8h0M329.5 590.2h0M326.4 546.8h0M339.6 576.9h0M288.7 555h0M294.3 597.6h0M291.2 580.3h0M269.4 562.8h0M328.9 590.8h0M346.6 559.9h0M310.8 547.2h0M277.7 521.4h0M361 584.1h0M329.2 540.7h0M329.3 599h0M298.7 592.9h0M329.9 605.9h0M294.9 513.1h0M243 537.5h0M356.4 602.1h0M293.3 567.9h0M327.1 529.9h0M295.8 562.9h0M257 543.1h0M325.5 545.6h0M357.9 579.3h0M366.5 620.1h0M336.2 569h0M283.7 532h0M311.6 565.5h0M295.6 559.9h0M315.5 538.4h0M306.8 615.4h0M341.8 553.5h0M337.9 561.9h0M261.8 559.1h0M364.6 562.6h0M325 562.5h0M301.9 591h0M335.8 522.1h0M316.6 537.8h0M274.9 556.3h0M300.2 565.7h0M298.3 529.3h0M305.1 597.8h0M331.4 576.4h0M286.8 520.6h0M415.2 617.6h0M366 571.5h0M342.1 605.8h0M293.9 605.4h0M332.4 589.4h0M261.2 573.9h0M284.1 563.4h0M291 554.6h0M253.3 527.9h0M294.9 591.5h0M323.9 608.6h0M297.8 540.3h0M259.4 538.7h0M362.3 557.6h0M286.7 520.3h0M283.9 553.3h0M242.9 533.6h0M307.5 528.1h0M302 521.9h0M348 597.2h0M291 582.8h0M317.4 556.2h0M252.7 541.2h0M318.7 598.5h0M304.3 525.8h0M273.7 520.5h0M270.1 550h0M352.4 572.2h0M275.7 573h0M338.6 593.8h0M304.6 584.7h0M325.3 609.8h0M303.5 521h0M291.1 584.7h0M349.6 580h0M286.9 583.3h0M316.1 584.7h0M340.7 525.4h0M307.5 565.1h0M311.3 584.1h0M254.2 532h0M270.4 545.9h0M351.4 647.1h0M288.9 574.9h0M268.8 562.1h0M277.2 541.9h0M264.4 525.8h0M355.4 551.2h0M254.9 604.1h0M376.5 571.3h0M341.1 573.6h0M350.5 593h0M291 518.9h0M293.6 537.4h0M320.9 593.6h0M314.1 542h0M344.9 595h0M337.2 584.2h0M352.3 616.9h0M292.4 568.8h0M356.8 619.2h0M295.9 525.5h0M289.2 532.3h0M286.9 537.4h0M337.6 594.2h0M317.7 599.2h0M277.9 521.2h0M325.6 532.8h0M352 606.3h0M333.8 591.7h0M311.5 601.5h0M366.4 580.8h0M330.8 565.5h0M365.3 621.9h0M299.6 604.5h0M281.3 571.2h0M285.8 544.3h0M323 574.6h0M357.3 593.9h0M350.5 601h0M301.4 527.4h0M349 569.2h0M387.7 623.7h0M316.1 540.6h0M360.2 618.7h0M311.3 575.1h0M322.9 577.2h0M356 548.9h0M319.8 536.8h0M286.2 586.6h0M374.4 627.7h0M340.9 603.8h0M313 594.8h0M310.2 598.5h0M283 542.8h0M327.3 574.1h0M292.1 605h0M288.2 566.7h0M298.5 537.2h0M240.1 533.3h0M320.7 618.4h0M349.4 621.5h0M306.4 533.6h0M306.1 591.1h0M313.4 556.9h0M348.7 630.3h0M312.9 529.4h0M339 558.4h0M309.5 521.4h0M297.3 564.1h0M331.3 535.9h0M354.6 590.7h0M372.4 567h0M290.3 544.1h0M303.6 587.1h0M333.3 518.6h0M314.1 593.8h0M310.8 592.9h0M333.5 589h0M260.8 529.2h0M298 547.6h0M336.7 521.1h0M261.9 581.7h0M324.4 534.8h0M312.9 552.6h0M328.6 617.5h0M310.3 563.7h0M314.5 589.6h0M275.6 571.7h0M309.5 587.9h0M347.1 572.4h0M274.3 579.6h0M271 532.8h0M343.8 572.5h0M315.4 561.7h0M301.8 516.1h0M301.5 526.9h0M313.6 628h0M348.8 582h0M296 563.6h0M336.2 618.1h0M288.5 533.7h0M337.5 591.5h0M287.9 568.5h0M314.4 635.9h0M295.8 620.5h0M361.8 619.8h0M311.1 620.3h0M330.6 610.5h0M292.2 583.3h0M276.2 561.9h0M270.3 523.9h0M350.5 585.4h0M333.6 558.7h0M313.8 610.5h0M332 548.9h0M289.4 538.6h0M289.7 588.1h0M278.2 546.4h0M324.8 596.5h0M316.7 617.6h0M292.8 560.4h0M297.4 533h0M319 555.4h0M291.7 546.1h0M271 565.9h0M328.2 574.3h0M336.6 604.4h0M295.5 588.8h0M299 525.9h0M274.1 571.1h0M317.6 522.4h0M276.9 525.8h0M302.9 543.3h0M302.6 543.8h0M303.2 588.5h0M295.6 523.9h0M362.2 603.4h0M259.7 559.7h0M341.1 551.7h0M279.7 566.1h0M317.4 611.6h0M259.9 568.6h0M292.6 586.4h0M323.8 551.6h0M284.1 579.6h0M270.2 533h0M340.2 524.7h0M302.9 549.5h0M350.6 560.1h0M264.2 542h0M281.2 609h0M389 626.8h0M430.5 621.7h0M296.5 583.2h0M351.4 512h0M330.4 553.7h0M298.8 563.7h0M306.9 516.8h0M329.8 547.5h0M275.9 530.4h0M324.9 513.8h0M315.6 561.8h0M326.1 606.2h0M304.2 522.8h0M279.1 521.6h0M314.7 605.9h0M253.5 536h0M338.7 591.1h0M304.5 523.3h0M350.1 587.7h0M338.8 594.4h0M301.1 557.1h0M270.5 575.2h0M297.7 558.5h0M283.8 559.8h0M356.9 571.9h0M275.6 606.3h0M346.4 620.4h0M276.8 528.2h0M375.5 588.6h0M265.9 544.5h0M279 535.2h0M322.2 611.3h0M248.2 539.3h0M310.9 607.2h0M263.3 613.4h0M321.7 601.9h0M297.2 562.9h0M323.4 609.9h0M388 539.9h0M338.6 599.5h0M344 542.3h0M255.7 541.6h0M359.3 619.7h0M333.6 566.3h0M279.1 536.1h0M384.4 591.1h0M350.1 587.6h0M343 612h0M341.3 590.9h0M248.4 552.9h0M319.4 551.1h0M336.3 594.3h0M315.3 524.6h0M325 612.6h0M375.6 596.3h0M279 521.1h0M238.4 534.1h0M310.4 522.3h0M333.4 599.4h0M337.2 593.1h0M321.4 583.2h0M297.7 594.5h0M355.3 612.8h0M356.5 522.8h0M343.9 580.4h0M278.2 582.4h0M370.6 583.5h0M287.3 579.5h0M356.2 531.1h0M305.5 594.1h0M314.5 527.5h0M319.1 609.1h0M294.5 564.3h0M250.2 554.6h0M262.6 559.8h0M332.3 603.1h0M271 538.7h0M347.3 576h0M298.9 576.6h0M266.8 568.9h0M333.9 615.2h0M346.3 592.3h0M311.4 573.9h0M354.7 594.2h0M346.3 567.4h0M353 571.3h0M275.5 526.7h0M307.9 533.1h0M254.5 546.5h0M310 596.7h0M331.1 610.5h0M321.6 586.6h0M365.5 596.2h0M292.6 575.2h0M258.6 541h0M327 529.3h0M348.7 640.1h0M295.5 580.2h0M350.4 567.8h0M291.4 585.7h0M332 619.5h0M331.5 554.3h0M328.8 596.6h0M308.3 558.6h0M299.8 524h0M290.7 524.7h0M362 608.1h0M235.7 589.8h0M277.4 558.4h0M342.4 594.7h0M304.6 553.7h0M270.7 526h0M287.6 575.6h0M332.1 609h0M322.1 584.8h0M299.4 578.2h0M355.2 627h0M326.4 548.1h0M358.6 639.2h0M326.9 624.2h0M316.3 588.2h0M352.1 636.5h0M306.7 534.2h0M303.7 516.1h0M254.9 556.2h0M256.2 534.1h0M293.6 581.3h0M338.8 617.8h0M295.3 552h0M339.3 595.7h0M305.4 533h0M284.5 527.5h0M293.2 591.9h0M332.3 607h0M359.3 584.6h0M302.5 547.7h0M301.8 602.4h0M270.3 521.3h0M278.6 528.4h0M360.4 591.1h0M275 558.6h0M335.3 615.4h0M375.2 593.3h0M282 567.6h0M305.4 583.5h0M261.4 572.2h0M280.4 573.8h0M373.4 603.4h0M343.6 566.7h0M278.3 615.2h0M329.3 645.1h0M359.7 643.2h0M282 583.7h0M275 552.3h0M297.8 584.2h0M310.5 526.5h0M303 525.7h0M330.9 586.9h0M350.2 609h0M325.7 577.5h0M345.5 632.9h0M287.7 532.4h0M333.6 590.4h0M300.2 585.5h0M251.7 555.8h0M284.7 584.3h0M272 560.1h0M337.7 569.3h0M286.5 599.4h0M297 528.6h0M353.5 585.4h0M265.4 535h0M279.8 587.5h0M305.2 550.4h0M338.8 569.7h0M266.7 525.8h0M275.2 532.2h0M277.1 579.6h0M311.6 579.2h0M331.3 587.5h0M280.9 576h0M313.4 535.1h0M364.9 616.1h0M354.7 604.1h0M365.8 635.9h0M312.3 563.4h0M295.6 581.3h0M299.6 610.7h0M334.5 583.7h0M325.9 599.4h0M347.3 599.4h0M293.2 514.3h0M317.1 611h0M287.5 583h0M347.5 586.3h0M324.1 582.6h0M464.8 656.7h0M295.2 518.4h0M360.6 613.1h0M335.1 532.3h0M321.6 634.9h0M326.3 547.3h0M329.5 608.1h0M326.4 594.2h0M293.1 561.9h0M306.2 533.4h0M321.5 602.8h0M301.6 561.3h0M319.3 598.5h0M310.8 538.7h0M325.6 559h0M244.7 530.4h0M320.2 532.4h0M311.5 594.8h0M318.9 662h0M309.6 592.6h0M264.1 561.7h0M262.4 542h0M276.2 560.2h0M338.7 592.8h0M338.8 613.1h0M359.9 617.3h0M321.7 617.5h0M374.6 574.4h0M307.6 586.9h0M328.1 617.2h0M282.9 537.8h0M334.7 553.1h0M361.6 607.1h0M301 548.4h0M312.9 541.1h0M370.4 612.1h0M329.2 627.4h0M327.6 599.5h0M307.7 589.9h0M287.7 597.6h0M295.3 591.9h0M272.3 529.1h0M285 532.9h0M330 542.6h0M311.8 530.8h0M274.2 556.8h0M351.6 619.3h0M310.3 528.1h0M326.6 616.2h0M302 555.8h0M372.6 548.8h0M269.2 550.3h0M369.1 605.2h0M251.1 547.6h0M318.1 588.3h0M331.2 592.2h0M289.6 549.7h0M313.9 611.7h0M341.2 563.1h0M294.3 593.6h0M292.4 519.9h0M293.9 606.6h0M318.1 585.1h0M293.6 529.9h0M303.7 557.6h0M304.9 559.6h0M286.6 591.8h0M288.3 600.7h0M330.2 611.5h0M314.9 579.7h0M320.3 536.2h0M406.1 539.4h0M336.2 609.4h0M323.6 568.5h0M298.3 539.1h0M371.3 570.2h0M341.6 507h0M288.8 592.3h0M245.8 528.8h0M294.5 570.9h0M332 586.6h0M362.3 630.5h0M261.2 534.8h0M300.8 583.3h0M301.7 564h0M366.5 542.5h0M241.3 543.5h0M274.8 587.5h0M366.3 552.8h0M281.2 521.3h0M328.1 591h0M329.9 594.2h0M323.7 551.3h0M262.6 526.4h0M339.7 620.3h0M333.8 537.9h0M391 524.1h0M322.9 566.8h0M370.8 601.3h0M319.4 584.2h0M257 548.5h0M285.5 521h0M319.8 613.4h0M339.4 588.1h0M308.7 621.9h0M346.3 601.9h0M297.5 640.9h0M297.9 550.2h0M303.7 523.6h0M298.5 574.9h0M295.7 559.5h0M284.3 533.3h0M415.1 638.6h0M296.8 542.9h0M294.2 578.5h0M405.5 578.8h0M280.3 544.4h0M306.3 601.6h0M344.4 621.5h0M344.4 603.8h0M328 529.8h0M336.1 615.5h0M300.8 602.6h0M339.2 564.9h0M250.1 582.1h0M322.8 516.1h0M343 610.5h0M366.8 632.8h0M326 545.5h0M360.7 606.6h0M255.2 529.1h0M290.7 557h0M323.1 611.8h0M327.7 586.5h0M352.7 627.8h0M341.1 619.5h0M298.2 521.9h0M347.5 640.8h0M349.5 531.8h0M298.6 579.4h0M311 546.4h0M306.1 534.1h0M367.2 573.5h0M266.7 540.9h0M307.5 561.2h0M298.5 515.4h0M318.6 585.3h0M358.7 603.5h0M297.2 528.9h0M327.1 616.7h0M310.1 611.7h0M297.5 543.9h0M313 542.6h0M345.8 581.9h0M337.4 541.8h0M301.5 617.4h0M264 587.6h0M253.9 568.1h0M333.8 575.7h0M290.4 540h0M301.7 554.7h0M314.5 576.7h0M314.9 608.7h0M300.8 585.2h0M254.9 608.4h0M314.9 621.7h0M360 591.7h0M345.7 550.1h0M272.9 530.5h0M262.6 548.8h0M268.9 538.2h0M332.7 629.2h0M252.5 541.3h0M338.1 609.5h0M256 551.8h0M334.4 547.1h0M287.3 567.2h0M310.6 622.9h0M298.8 569.3h0M308.7 564h0M369.8 560.5h0M331.1 556.6h0M309.4 525.9h0M310.6 544.2h0M317.9 511.7h0M377.5 572.4h0M254.8 542.5h0M351.3 568.4h0M256.1 563.8h0M320.6 616.9h0M382.6 583h0M263.7 567.6h0M304.8 591.1h0M376.6 569.3h0M276.9 540.4h0M287.2 526.9h0M268.3 528.4h0M360.7 535.1h0M313.5 578.3h0M275.4 528.9h0M310.7 536.8h0M283.6 559.7h0M362.7 605.4h0M254.6 555.1h0M349.8 570.3h0M343.9 569.6h0M332 599.6h0M312.7 540.5h0M303.9 604.5h0M310.7 616h0M320.7 623.1h0M339.9 606.9h0M347.5 525.2h0M363.4 582.5h0M250.2 540.2h0M343.7 541.3h0M325.3 561.9h0M301.7 548.6h0M267.9 523.3h0M311.3 553.5h0M261.8 565.8h0M241.1 531.7h0M311.2 594.3h0M313.7 622h0M310.2 544.2h0M333.1 565.7h0M345.5 618.4h0M343.9 559.4h0M320.4 585.7h0M361.1 593.9h0M273.3 520.4h0M436.5 567h0M240.6 534.1h0M316.3 590.4h0M299.9 519.9h0M265 541.8h0M334.5 575.5h0M322.8 571.3h0M295.7 594.6h0M239.9 553.8h0M364.6 582.4h0M277 542.9h0M350.6 648.1h0M317.5 577.8h0M276.5 559.9h0M266.2 557.9h0M325.5 613.1h0M333.7 605.8h0M249.3 563.7h0M293.4 575.2h0M284.2 528.8h0M286.2 595.1h0M361.2 561.8h0M294.3 582.7h0M253.6 588.2h0M332.8 558.3h0M274.1 558.7h0M278.2 531.8h0M288.1 573.4h0M319.8 589.8h0M257.3 566.5h0M303 534.5h0M316.6 534.4h0M318.6 545.3h0M253.3 600.5h0M271.2 529.7h0M304.6 594.3h0M275.5 526.1h0M298 517h0M347.5 577.3h0M270.5 526.1h0M294.7 569.2h0M333.9 568.5h0M274.6 546.3h0M370.5 611.2h0M369.1 639.8h0M263.2 559.5h0M298.4 563.9h0M290.6 522.6h0M349.6 542.8h0M290.4 517.4h0M290.9 563.8h0M305.2 516.3h0M316.1 578.1h0M278 570.7h0M312.8 536.1h0M306.4 587.4h0M300.4 540h0M295.3 514.4h0M351.5 592.2h0M274.7 638.2h0M288.5 545.3h0M327.5 547.3h0M334 627.9h0M348.5 530.4h0M273 554h0M308.9 581.5h0M294.1 523.1h0M323.3 552.6h0M246.7 545.1h0M256.3 544.7h0M285.3 547.4h0M287.7 600.8h0M317 524.4h0M291.5 559.9h0M277.1 518.8h0M231 543h0M283.5 540.7h0M344.9 624.9h0M287.9 530.5h0M278.7 527.8h0M249.1 544.5h0M288.1 549h0M333.6 617.1h0M293.8 608.4h0M360 583h0M335.1 553.8h0M327.6 580.7h0M327.5 619.8h0M345.6 536.6h0M319 596.4h0M311.4 587.1h0M288.1 533.2h0M294.9 513.4h0M430.2 591.7h0M336.6 563.5h0M351 574.1h0M311 526.7h0M316.5 587.3h0M287.5 555.9h0M301 560.2h0M274.5 538.5h0M247.8 529.7h0M293.5 521.1h0M344.7 587.8h0M318.3 605.1h0M346.5 615.9h0M300.3 587.6h0M340.5 600.7h0M306.8 554.7h0M319.5 567.2h0M336.8 611.9h0M277.1 572.8h0M356.2 642.6h0M329.1 544.9h0M323.4 516.8h0M346.9 601.4h0M275.1 534.9h0M329 549.5h0M259.1 525.3h0M377.9 580.7h0M287.3 589.5h0M351.7 603h0M313.7 612.9h0M261.2 544h0M314.8 533.1h0M341 593.1h0M342.6 594.6h0M296.4 592.3h0M332.5 527.7h0M326.9 553.8h0M328.3 596.5h0M312.5 574.6h0M349.2 614.8h0M345.2 612.1h0M324.3 577.3h0M265 542.2h0M346.5 565.9h0M294.2 591.7h0M319.4 588.2h0M256.6 549.7h0M290.5 559.9h0M347.5 593.1h0M282.8 570h0M310.3 582.5h0M271.8 532h0M279.1 582.9h0M339.1 542.2h0M334.5 573.6h0M344.1 584.5h0M307.1 621h0M306.3 525.8h0M323.3 588.6h0M347 634.7h0M281.9 536.7h0M331.5 583.5h0M360 608.9h0M313.6 518.7h0M255.1 537.2h0M315.5 622.6h0M326.3 544.5h0M312 585.7h0M350.8 572.9h0M281.4 563.6h0M319.9 573h0M271.1 588.4h0M334.3 585.5h0M297.5 593.2h0M262.8 536h0M336.6 604.7h0M295.7 518.8h0M300.6 586.6h0M302.1 513.3h0M326.3 550.1h0M346.4 612.9h0M272.4 573.7h0M280.3 552.2h0M334.9 613.3h0M313.1 548.3h0M341.9 598.9h0M322.5 544.3h0M245.9 555.5h0M313.8 612.9h0M313.2 566.8h0M305 609.6h0M260.2 529.9h0M305.6 590.7h0M296.6 554h0M325.9 610h0M339.7 580.1h0M338.3 618.1h0M341.1 540.6h0M329.3 531.9h0M258.2 533.9h0M357.8 557.2h0M336.4 601.8h0M283.4 554.4h0M322.3 532.4h0M304.8 574.7h0M316.6 553h0M324.5 537.6h0M283.7 590.8h0M322.1 551.4h0M315.9 574.9h0M363.5 609.2h0M351 571.7h0M343.5 535h0M391.1 571h0M337.2 596.7h0M284.7 609h0M316 526h0M263.4 559.5h0M320.5 606h0M297.3 514.7h0M299.9 536.2h0M320.4 611.1h0M314.3 614.8h0M249.6 534.5h0M293.4 523.2h0M254.4 556.4h0M303.8 584.3h0M314.6 584h0M331.9 617.6h0M288.3 602.4h0M316.7 519.3h0M320.9 532.3h0M265.6 567.7h0M343.5 614.4h0M273.5 578.2h0M304.2 561.7h0M313.7 623h0M290.8 538.3h0M332.3 544.8h0M269.2 561.8h0M352.5 601.5h0M369.1 545.9h0M256.7 544.5h0M352.4 625.6h0M346.8 583.2h0M336.7 533.1h0M260 567.5h0M260.6 544.7h0M315.4 605.3h0M356.2 607.1h0M307.5 556h0M296.4 533.4h0M303.6 557.9h0M271.9 565.5h0M300.4 555.4h0M285.7 562h0M315.8 551h0M271 560.2h0M311.1 535.6h0M249.4 531.7h0M299.2 590h0M348.9 561.4h0M297.6 592.7h0M319.9 569.7h0M354.6 610.2h0M266.8 576.8h0M310.3 608.6h0M265.4 558.9h0M351.7 572.8h0M284.6 587.9h0M308.6 553.8h0M239.9 566.1h0M314.5 549.1h0M338.6 615h0M332.8 614.6h0M255.8 547.2h0M295.8 555.5h0M302.9 528h0M289.7 525.7h0M257.4 581.7h0M328.8 605.6h0M318.5 588.3h0M311.1 579.3h0M349.2 621.2h0M287.8 582.3h0M329.5 580.3h0M297.6 516h0M295.9 512.8h0M302.1 622.4h0M350.1 586.6h0M298.7 583.3h0M298.8 591.8h0M312.7 528.2h0M282.5 574.2h0M279.2 563.2h0M276.5 526.9h0M227.2 611.4h0M267.2 528h0M311.4 550h0M298.3 541.1h0M326.4 607.3h0M264.3 542.8h0M321.6 593.1h0M370.9 559.5h0M317.5 612.8h0M309 539.3h0M261 573.5h0M336 581.1h0M349.4 543.3h0M263.5 564h0M311.5 557.9h0M356.6 572h0M297.6 610.4h0M329 602.3h0M269.9 528.9h0M343.9 608.6h0M293.3 526.7h0M333.5 601.2h0M279 547.2h0M332.2 566.4h0M336.4 581.1h0M324.6 540.6h0M313.8 611.3h0M320.7 514.1h0M341.6 610.4h0M347.7 608.7h0M343.4 542h0M325.4 615.9h0M258.7 526.7h0M360.7 580.9h0M298.8 513.1h0M308.1 516.3h0M302.7 541.9h0M268.9 553.1h0M382.2 572.9h0M380 615.4h0M375.8 632.2h0M266.4 535.6h0M302.3 560.7h0M308.3 524.6h0M288.5 553.7h0M343.6 584.2h0M258.2 557.4h0M327.6 556.7h0M334 533.1h0M284.7 516.5h0M331.1 529h0M256.8 564h0M259.7 544.3h0M310 582.3h0M281.6 521h0M334.3 637h0M347.9 587.3h0M319.4 599.2h0M275.6 548.1h0M259 533.8h0M319 626h0M304.1 535.9h0M349 561.7h0M261.6 560.4h0M300.8 576.2h0M322.1 593.3h0M373.4 608.4h0M388.8 585.9h0M357.2 609.2h0M317.5 592.7h0M337.8 562.4h0M339.3 595.9h0M293.6 591.6h0M297.8 581.5h0M330.6 520.2h0M324.9 573.5h0M322.1 516.9h0M335 597h0M314.3 520.6h0M314.7 511.1h0M348.2 570.5h0M298 576h0M290.1 564.3h0M358 578.6h0M304.7 639.8h0M324.9 575.8h0M350.6 645.2h0M259.2 561.6h0M322.4 589h0M377 553.6h0M340.5 561.7h0M341.9 540.4h0M284.7 594.1h0M286.9 561.7h0M309.2 559h0M264.1 543.5h0M309.7 585.3h0M328 613.7h0M309 579.9h0M275.5 628.4h0M282.4 532.5h0M251.9 550.1h0M355.1 612.2h0M288.8 554.3h0M339.7 555.1h0M345.7 607.1h0M276.2 569.3h0M276.8 532.3h0M300.1 539.4h0M347.8 632.3h0M303.6 556.9h0M348.7 566.9h0M271.1 543.9h0M308.5 522.4h0M290.1 533.6h0M329.6 623.8h0M342 582.1h0M347 588.6h0M350.1 576.9h0M281 579.3h0M322.8 594.5h0M366.4 623.2h0M383.4 574h0M324.4 517h0M282.1 585.8h0M350.2 593.3h0M338.3 561.2h0M341.8 595.1h0M338.6 627.1h0M345.4 543.9h0M275.3 573.9h0M326.5 607.9h0M293.1 568.2h0M294.6 567.8h0M318.8 561.6h0M286.5 615.4h0M317.7 571.2h0M286.9 551.2h0M282.4 560.9h0M317.6 604.4h0M291.2 592.5h0M300.7 580.6h0M342 604.6h0M263.6 546.8h0M276.5 554.8h0M337.2 603.6h0M326.4 535.3h0M340.1 626.6h0M335.9 570.8h0M287.1 578.4h0M409.5 609.5h0M328.2 553.8h0M270.1 563.8h0M357.6 615.2h0M318.1 536.9h0M342.4 556.8h0M296.1 542.8h0M318.7 550.5h0M302.3 576.3h0M332.8 576.6h0M328.2 629.9h0M326.8 576h0M294.7 560.1h0M325.4 552h0M262.8 559.6h0M329.1 571.9h0M333 577.5h0M271 552.1h0M289.7 567.9h0M344.9 579.9h0M315 537h0M315.1 530.6h0M321.2 602.2h0M345.4 574.1h0M340 599.2h0M298.5 600.1h0M372.7 550.7h0M306 583.9h0M346 613.1h0M319 634.6h0M350.3 618.6h0M322.3 546.1h0M249 540.6h0M347.6 596.2h0M371.8 571.2h0M333.2 579.9h0M268.9 573.2h0M297.3 515.7h0M242 543.2h0M342.7 637.2h0M255.5 549.4h0M266.9 547.4h0M277.2 546.1h0M258.2 533.9h0M342.7 603.1h0M268.3 522.9h0M332.8 563.9h0M287 532.8h0M368.8 579.7h0M270.1 570h0M336.3 589.2h0M318.6 541.9h0M281.3 539.7h0M361.7 607.4h0M346.3 596.3h0M276.9 545.4h0M292.4 538.8h0M340.5 606.2h0M299.7 613.5h0M302.1 540.8h0M343.5 557.4h0M296 519.8h0M244.9 543.7h0M356.7 619.4h0M313.6 524.9h0M301.7 542.9h0M325.7 601h0M266.7 570.3h0M290 526.4h0M282.8 547.1h0M324.1 578.6h0M314.1 613.9h0M315.2 592.3h0M282.3 562.7h0M321 591.4h0M343.7 609.5h0M322.6 615h0M252.7 604.3h0M298.1 584.2h0M363.6 596.6h0M272.8 548.4h0M338.1 603.7h0M329.1 588.4h0M305.7 577.1h0M327 534.9h0M364.4 645.4h0M335.4 564.3h0M366.3 632h0M284.8 556.2h0M281 564.4h0M299.1 551.3h0M336.1 624.7h0M297.1 591.9h0M318.9 551.6h0M331.4 563.1h0M311.9 592.9h0M315.1 591.1h0M333.3 610.7h0M302.3 553.8h0M247.6 531.7h0M305.1 598.5h0M300.2 521.5h0M359.6 591.8h0M350.9 627h0M249.6 549.4h0M326.7 548.7h0M293.3 549.6h0M324 535.9h0M343.7 566.6h0M307.9 612.3h0M262.5 523.5h0M314.5 556.6h0M320.7 528.7h0M301.8 579.7h0M342.7 612.8h0M367.2 598h0M316.3 577.9h0M360.2 611.4h0M338.5 548.8h0M291.7 597.5h0M315.7 597h0M293.6 531.2h0M284.3 553.1h0M324.6 541.1h0M436.1 537.1h0M253.2 548.3h0M315.7 569.7h0M290.7 592.9h0M322.3 540.5h0M263.9 547h0M359.6 600.7h0M256.1 542.7h0M359.3 598.7h0M384 604.6h0M308.6 565.8h0M349.2 581.2h0M264 537h0M316 590.8h0M305.5 584.3h0M333.2 531.8h0M321.9 562.2h0M308.4 577.9h0M293.8 629h0M333.2 602.4h0M301.2 521.3h0M280.7 568.9h0M292.6 578.2h0M299.8 605h0M278.2 598.9h0M360.2 638.2h0M323.9 554.2h0M306.5 614.3h0M351.3 567h0M282.5 538.8h0M244 535h0M335.2 536.2h0M304 588.8h0M332.1 576.5h0M340 606.1h0M278.9 562.6h0M288.9 542.9h0M307.2 629.6h0M296.7 594.3h0M307.8 540.5h0M321.4 579.5h0M303.2 580.8h0M290 609.6h0M367.2 561h0M351.1 632.2h0M305.3 598.5h0M293 590.9h0M297.1 569.6h0M288.5 588.8h0M331.7 541h0M278.6 559.1h0M368.7 637.6h0M353.6 555.6h0M304.8 614.1h0M304.9 622.3h0M321.4 527h0M320.4 617.3h0M347.8 619.6h0M291 561h0M313.2 607.5h0M317 534.1h0M273.9 557.5h0M346.5 568.3h0M296.3 554.7h0M363.5 582.4h0M307.7 516h0M318.1 524.7h0M352.1 577.5h0M358.9 582.1h0M364 552h0M302.4 593.4h0M296.8 515.3h0M333 616.3h0M302.8 522.3h0M322.1 572.3h0M324.9 564.1h0M355.6 613.1h0M325 583.6h0M296.3 556.6h0M337.7 616.4h0M331.8 622.4h0M328.8 618.5h0M369 584.9h0M313.6 529.6h0M330.4 576.2h0M344.7 553.3h0M295.9 591.6h0M347.3 579h0M324.9 584.4h0M298.4 519.9h0M308.5 566.4h0M308.6 608.6h0M310.4 568.3h0M333.2 598.7h0M333.9 581.3h0M293.9 552.8h0M353.3 588.8h0M305.8 577.3h0M313.9 584.9h0M352.3 547.7h0M344.7 601.3h0M345.1 609.8h0M322.3 601.7h0M388.4 654.7h0M277.7 533.9h0M262.4 526.2h0M368.2 601h0M268.8 534h0M233.8 543.4h0M300.9 570.5h0M243 529.9h0M248.4 539.8h0M253.4 590.7h0M294.1 547.9h0M295.2 597.9h0M305.1 602.1h0M269 562.1h0M309.9 554h0M346.3 617.9h0M324.6 593.3h0M316 622.8h0M333.4 523.6h0M333.4 609.8h0M319 592.1h0M266.4 536.3h0M312.9 537.9h0M264.3 565.3h0M277.8 533.2h0M335.6 611.6h0M347.1 586.3h0M262.6 576.7h0M339.7 550.8h0M327.9 563.3h0M303 547h0M319.6 520.6h0M331 538.4h0M320.9 544.2h0M273.2 593h0M295.3 610.9h0M296 601.2h0M349 597.3h0M300 590h0M329.4 600.1h0M304.8 601.9h0M375.8 526.5h0M337 572.5h0M317.3 551.9h0M285.6 571.3h0M343.4 582.2h0M288.6 553.8h0M261.9 571.5h0M298.6 552.2h0M263.4 561.1h0M312.1 533.9h0M357.8 607h0M372.7 583.4h0M300.5 596.6h0M297.3 543.3h0M263.5 563.3h0M281.5 545.5h0M272.9 551.2h0M334.2 533.8h0M300.6 550.9h0M256.9 649.5h0M368.5 612.4h0M319.4 541.3h0M344.1 540.3h0M333.8 602.5h0M374.2 562.4h0M297.7 610.7h0M309.1 606.9h0M332.7 546.7h0M293.3 538h0M295.3 571.9h0M350.1 665.6h0M341.7 587.7h0M292 561h0M415.9 585.8h0M312.6 542.4h0M316.9 612.9h0M317.1 573.9h0M271.8 528.7h0M310.2 529.5h0M309.5 592.7h0M284.7 580.9h0M307.1 585.7h0M245 543.5h0M284.2 564.8h0M304.3 543.5h0M325.8 572.1h0M307.2 606h0M358 606h0M339.2 566.9h0M294.3 561.3h0M280.9 520.1h0M341 604.2h0M323 601.4h0M328 569h0M314.9 539.5h0M296.1 531.7h0M329.1 541.2h0M265.3 552.5h0M283.9 526.3h0M289 589.9h0M308.5 557.3h0M277.2 568.8h0M305.3 599.6h0M287.3 527.2h0M292.3 599.1h0M250.2 527.6h0M338.3 590.8h0M336 591.6h0M301 564.2h0M350.5 588h0M323.6 618.8h0M285.7 554.8h0M267.4 540.1h0M357.4 580.4h0M325.3 537.2h0M351.2 604h0M348.1 602h0M322.8 549.4h0M316 569.3h0M340.5 589h0M274.9 532.6h0M318.7 636.3h0M367.4 604.6h0M328.6 587.9h0M318.1 580h0M293 576.8h0M317.8 604.2h0M330.2 567.5h0M343.2 588.4h0M303.6 538.6h0M336.3 581.8h0M300.7 540.8h0M329 591.7h0M367.2 588.3h0M353.4 548h0M346.2 568.3h0M292.6 540.4h0M290.5 555.4h0M319.6 528.1h0M340.3 563.2h0M296.8 587.7h0M354.8 589.3h0M255.1 534.2h0M371.7 574.4h0M389.2 571.5h0M359 613.8h0M300.8 569.5h0M273.5 586.1h0M333.3 604.6h0M298.7 566.7h0M319.1 612.1h0M281.5 576.9h0M342.9 629.9h0M325.2 520.3h0M255.4 545h0M295.2 551.1h0M243.2 531.2h0M349.3 636.2h0M348.5 584.4h0M322.5 600.8h0M340.3 529.6h0M266.1 559.8h0M373.2 529.2h0M244.6 542.3h0M331.1 559.6h0M251.5 607h0M339.3 599.4h0M302.2 532.8h0M261.9 528.5h0M337 558.3h0M250.3 635.4h0M336.7 563.1h0M397.9 627.2h0M318 579.8h0M276.6 550h0M294.4 547.6h0M288.8 582.2h0M302.7 546.2h0M335.9 669.1h0M274.2 545.5h0M358.5 540h0M245.6 538h0M314.9 531.6h0M358.5 623.9h0M264 582.4h0M302.5 542.3h0M312.2 593.2h0M294.8 599h0M350.6 593.7h0M322.7 611h0M281 610.6h0M324.3 650.7h0M307.4 595.4h0M327.7 613.3h0M328.2 562.1h0M361.1 601.9h0M322.8 546.5h0M285.5 521.7h0M324.5 628.5h0M343.8 643.1h0M251.5 539.4h0M332 622.2h0M311.2 538.8h0M297.1 605h0M353.9 584.1h0M324.4 596.7h0M332.5 570.6h0M253.3 545.9h0M346.9 603.6h0M250.5 546.2h0M328.6 536.2h0M279.2 538.9h0M297.6 527.1h0M358.4 600.9h0M287.7 541.4h0M265.5 555.9h0M294.1 569.2h0M342.3 580.4h0M263.7 524.7h0M277.2 541.1h0M314.8 660.7h0M304.7 578.5h0M362 560h0M275.2 588h0M319.2 554.8h0M314.6 533.8h0M322.5 523.6h0M277.6 539.9h0M354.8 536.7h0M320.2 561.6h0M285.3 525.5h0M314.8 539.9h0M269.8 523.3h0M285.7 521.4h0M274.8 539.2h0M335.4 571.1h0M302.7 537.6h0M315.7 515.6h0M317.4 530.9h0M314.3 518.2h0M291.2 539.7h0M271.3 556.8h0M288.4 580.8h0M333.7 624h0M338.1 570h0M304 526.8h0M304.1 539.1h0M361.9 620.6h0M323.5 541.3h0M263.3 527h0M341.4 552.8h0M285.7 578.1h0M300 584.5h0M250.7 539.1h0M319.5 532.6h0M294.4 545.9h0M272 639.8h0M327.4 620.7h0M319.7 526.9h0M325.3 532.9h0M321.4 578.2h0M317.4 539h0M308.7 539.4h0M320.1 630.4h0M314.6 608.2h0M316.1 535.3h0M323.6 566.6h0M270.9 546.3h0M300.8 622.7h0M305.8 544.8h0M304.8 579.7h0M236.3 595.3h0M315.6 543.6h0M274 580.7h0M267.4 557.1h0M372.2 606.1h0M265.3 582.2h0M352.6 594.7h0M323.2 633.2h0M323.4 587.6h0M318.8 555.2h0M360.5 564.3h0M370.4 634.4h0M329.2 601.2h0M376.5 588.2h0M347.8 599.6h0M317.1 605h0M312.1 526.1h0M286.3 554.3h0M328.9 596.8h0M287.5 559.8h0M294.6 545.6h0M283.1 607.6h0M350.3 568h0M288.5 556.1h0M293 567.5h0M327.6 562.8h0M301.4 524h0M271.3 543h0M334.3 629h0M306.8 519.5h0M352.2 586.1h0M277.5 566.9h0M326.7 574.7h0M329.5 632.1h0M261.7 540.4h0M313.1 585.6h0M347.2 564.1h0M263.7 528.4h0M228.7 549.4h0M293.5 534h0M344.2 561.5h0M237 551.1h0M323.5 632.5h0M322.6 545.9h0M302.3 557.3h0M282.8 580.6h0M336.3 562.5h0M325.1 614.7h0M344 597.3h0M337.2 543.4h0M359.4 582.2h0M274.1 589.2h0M296.3 561.7h0M335.7 547.7h0M289 518.9h0M294.9 542.7h0M291.3 530.5h0M342.8 557.8h0M307.4 570.8h0M324.2 581.4h0M295.9 615.2h0M287 519.9h0M298.6 611.1h0M271.4 521.4h0M294.3 520.2h0M346.7 594.1h0M317.6 552.7h0M264.5 567.5h0M361.1 580.1h0M307 605.3h0M289.7 554.2h0M381.7 584.7h0M278.4 554.1h0M322.8 560.1h0M274.3 524.8h0M300.5 540.3h0M305.8 575h0M322.1 616h0M314.3 541.4h0M308.1 609.4h0M357.7 596.6h0M356.9 596.8h0M357.2 625.2h0M353 550.2h0M352 565.1h0M328.1 555.1h0M297.9 581.9h0M322.9 551h0M352.3 556.3h0M327.5 553.1h0M306.4 512.1h0M334.4 615h0M347.7 630.5h0M318.6 627h0M350.4 574.2h0M303.2 517.8h0M354.2 593.5h0M310.2 581.8h0M310.9 597h0M312.8 602.5h0M352.9 557.2h0M339.6 622.8h0M280.8 517.8h0M303.8 611.5h0M323.3 598.1h0M272.8 553h0M336.3 523.9h0M311.7 607.1h0M271.1 567.1h0M298.6 624.8h0M279 560.7h0M331.5 577.6h0M331.6 591.5h0M332.4 572.6h0M302.5 605.3h0M275.8 532h0M297.8 512.3h0M254.5 556.8h0M346 637.1h0M274.8 578.7h0M328.1 512.9h0M241.2 537.1h0M337 546.1h0M310.7 615.7h0M337.6 587h0M373.5 573.6h0M244.5 529.2h0M336.4 550.5h0M307.5 614.3h0M253.1 565.8h0M252.7 557.4h0M281.7 611.3h0M272 571.7h0M289.2 527.3h0M257.4 534.6h0M307 590.5h0M273.7 567h0M281.3 611.1h0M265 534.7h0M355 627.2h0M307.8 591.7h0M326.5 547.2h0M355.4 611.2h0M346.8 576.1h0M318.5 539.7h0M338.9 531.5h0M315.6 576.1h0M279.5 551.5h0M268.1 546.5h0M286.4 542.4h0M321.6 510.2h0M344.3 571.1h0M367.8 575.2h0M368.4 603.6h0M271 534.9h0M294 665.4h0M307.8 634.4h0M238.3 544.5h0M325.3 574.4h0M328.3 608.7h0M257.6 548.7h0M348.1 602.8h0M260.6 525.8h0M362.8 572.7h0M292.7 529.5h0M277.6 542.7h0M263.4 559.2h0M278.3 530.1h0M311.7 553.2h0M283.1 576.8h0M326.8 613.2h0M359.5 580.8h0M322.9 539.3h0M318.4 630.1h0M328.7 584.5h0M315.1 583.5h0M290.8 553.2h0M349.7 631.7h0M260.2 541.3h0M302 525.1h0M234.7 542.1h0M352.3 577.9h0M277.4 526.7h0M267.2 530.5h0M323.7 567.7h0M309.8 625h0M295.3 553.4h0M330.3 563.6h0M337.7 617.7h0M220.7 584h0M291.6 524.5h0M319.7 606.3h0M341.2 538.8h0M281.7 544.8h0M315.9 551.1h0M316.9 565.8h0M356 610h0M321.8 614.7h0M335.3 648.4h0M402.7 596.8h0M288.7 527.4h0M315.8 535.6h0M318.3 628.6h0M296.2 564.8h0M316.7 610.3h0M271.6 546.9h0M348.1 531.3h0M265.1 532.4h0M312.8 594.1h0M309.8 612.3h0M298.2 608.2h0M243.1 539.7h0M337 609.4h0M247.2 565.4h0M314.8 604.7h0M327.4 560.8h0M348.2 572h0M347.8 609.7h0M346.8 566.6h0M326.3 540.2h0M326.1 606.7h0M289.8 591.3h0M338.1 551.3h0M298.9 543h0M290.1 538.7h0M307.5 549.1h0M277.7 518.8h0M371.9 601.6h0M245.3 552.7h0M339.7 601.8h0M291.3 523.9h0M349 637h0M304.2 575h0M272.6 564.3h0M342.5 586h0M336.1 563.1h0M310.2 568.9h0M309.9 576.1h0M266.9 543h0M341.6 637h0M338.1 602.5h0M304.4 571.1h0M332.8 571.6h0M318.8 534.5h0M361.2 588.6h0M303.6 535.1h0M299 514.2h0M299.8 566.3h0M332.9 569.7h0M327.6 614.5h0M326.6 597.4h0M323.3 576.2h0M330.3 622.4h0M300.1 583.9h0M316 604.6h0M280.9 589.2h0M272.3 540.7h0M275.7 571.9h0M326.4 564.3h0M285.4 544.5h0M320.1 555.6h0M276.3 618.9h0M302.3 570.7h0M374.7 605.9h0M272.7 565.3h0M338.9 567.5h0M390.1 642.6h0M309.7 532.7h0M337.8 588.2h0M326.7 568.6h0M325.6 573.6h0M342.4 604.2h0M316.6 606.5h0M277.2 536.8h0M294.4 574.1h0M334.2 600.6h0M350.8 568.8h0M328.5 543.7h0M267.2 587.9h0M297.6 582h0M345.7 586.8h0M358.3 598.2h0M313 600.3h0M317.8 539h0M328.7 586.3h0M443 637.3h0M342.4 597.3h0M289.2 615.7h0M285.9 532h0M309.2 591.6h0M312.3 604.3h0M299.3 535h0M248.7 543.4h0M274.9 553.5h0M287 544.9h0M323.7 616.6h0M322.8 556h0M274.9 535.3h0M352 654.4h0M282.7 553.3h0M306.5 573.9h0M267.8 535.7h0M300.9 578.8h0M321.5 604.2h0M309.5 639.8h0M294.5 551.7h0M355 603h0M256.1 525.8h0M295.7 583.6h0M311.3 591.3h0M330.3 561.9h0M247.3 542.2h0M353.4 568.7h0M307.9 528.9h0M289.8 558.7h0M251.4 551.3h0M334.8 617.5h0M320.1 602.6h0M288.5 566.9h0M317 616.6h0M334 600.1h0M350.5 620.8h0M276.9 559.9h0M332.1 636h0M324 565.1h0M317.2 600.7h0M353.6 559.2h0M331 518.6h0M256.6 553.1h0M291 554.8h0M284.4 549.7h0M325.9 595.3h0M347.7 607h0M259.4 562h0M323.8 534.8h0M458.1 664.2h0M304.4 613.4h0M361.9 587.6h0M241.1 625h0M307.6 557.7h0M257 561.7h0M311.7 570.6h0M322 587h0M266.1 565.6h0M337.8 613.9h0M296.8 573.6h0M368.7 579.3h0M345.3 615.5h0M255.4 539.7h0M303.4 571.8h0M248.4 533.1h0M322 621.5h0M310.6 530.7h0M318.3 569.6h0M362.7 608.5h0M375.2 634.3h0M281.3 547h0M293.3 560.6h0M320.5 533.5h0M316.6 623h0M267.1 547.5h0M270.1 528.1h0M240.7 544.5h0M364.4 568.5h0M322.6 535.5h0M281 584.3h0M331.8 582.5h0M305.2 550.8h0M358.8 568.9h0M290.4 568.4h0M289 541.8h0M277.4 630.9h0M254.5 526.7h0M299.4 549.4h0M276.4 551.2h0M371.1 608.8h0M249.7 538.4h0M360.1 590.2h0M285.6 516.8h0M282.1 530.4h0M302.8 562.7h0M345.2 602.3h0M364.5 637.1h0M420.5 523.2h0M308.7 518.4h0M310.7 545.7h0M333.5 628.6h0M270.2 574h0M270.5 523.2h0M371.9 593.5h0M274.2 555.5h0M306.3 593.1h0M255 540.9h0M330.7 614.6h0M287.3 560.1h0M256.4 541.7h0M339.4 578.2h0M273.8 552.7h0M322.8 550.5h0M316.5 539h0M271.5 544.7h0M344.4 631.8h0M272.9 565.7h0M338.4 600.3h0M350.1 550.1h0M294.8 526.4h0M293.8 528.5h0M281 577.6h0M274.6 595.9h0M287.7 519.9h0M303.8 522.5h0M358.4 578.9h0M332 601.8h0M326 565.5h0M303.6 560.9h0M362.9 567.1h0M281.5 531.5h0M306 519.8h0M278.8 579h0M346.8 558.6h0M342.5 612.4h0M288.3 604h0M255 526.3h0M326.8 605.9h0M281.9 584.6h0M335.4 590.5h0M357.2 601.8h0M290.9 553.8h0M309.3 588.4h0M299.4 555.4h0M337.5 548.3h0M341 566.5h0M325.8 582.7h0M341.6 560.5h0M312.2 544.7h0M309.4 542h0M287.3 563h0M351.9 567.1h0M336.4 613.6h0M282.7 545.8h0M275.5 558.4h0M298.7 523.8h0M343.3 600.4h0M342.2 609.5h0M299.9 515.2h0M300.9 546h0M297.9 561.6h0M321.2 576.5h0M281.9 579.6h0M320.7 612.7h0M284.9 536.2h0M340.4 583.9h0M305.8 576h0M308.4 520.8h0M321.6 613.4h0M354.4 612.3h0M266 543.9h0M328.1 572.1h0M275.6 562.9h0M323.3 597.7h0M365.3 576.5h0M251.6 548.3h0M318.8 517.8h0M335.9 567.9h0M334.4 562.9h0M328.8 600.8h0M289.3 592.4h0M360.7 553.9h0M310 597.9h0M312.3 600.3h0M309.1 510.5h0M309.1 603.7h0M376.2 561.8h0M302.9 542.6h0M300.6 604.7h0M356.6 558.7h0M363.8 574.8h0M341.1 597.9h0M350.9 575.8h0M347.3 647h0M327.6 612.9h0M286.8 527.4h0M276.5 552.1h0M253.3 526.6h0M322 601.6h0M299.5 544.8h0M333.8 540.7h0M293 629.3h0M328.4 620.7h0M333.6 621.9h0M273.4 537.8h0M309.3 600.5h0M299.5 534.4h0M352.7 531.5h0M292.8 562.6h0M252.6 558.7h0M365 657.1h0M317.4 617.1h0M299.4 591.3h0M316.9 537.1h0M331.5 574.6h0M291.2 583.1h0M274.1 546.5h0M311.8 607.7h0M324.4 615.3h0M330.3 584.2h0M357.3 609.8h0M366.6 526.2h0M309.2 524.4h0M296.2 585.1h0M338.8 623.8h0M362.1 613.5h0M350.5 577.4h0M283.6 596.5h0M348.5 654.5h0M275.9 568.9h0M306.6 570.5h0M369.5 603.5h0M318.3 538.6h0M306.8 572.2h0M272.4 540.9h0M319.7 593.4h0M295 556.9h0M362.4 598.5h0M324.3 520.2h0M320 563.1h0M351.7 606.7h0M277 534.4h0M257.3 541.2h0M340.2 610.3h0M302.3 546.1h0M296.9 583.9h0M358.6 635.6h0M345.3 598.2h0M334.9 555.9h0M254 550.1h0M318 584.9h0M357.3 630.3h0M307.2 555.6h0M308.5 573.8h0M307 556.8h0M318.8 602.6h0M313 567.1h0M242.9 566.9h0M397.3 642h0M270.5 558.1h0M326.8 547.3h0M339.6 590.5h0M289.7 527.2h0M369.4 635.3h0M277.2 518.9h0M274.8 534.8h0M259.4 580.6h0M323.9 583h0M328.9 583.9h0M282.7 558.1h0M320.6 588.9h0M309.2 527.4h0M272.7 525.4h0M364.6 592.3h0M289 579.7h0M344.5 534.9h0M431.1 654.1h0M384.1 606.5h0M326.4 540.2h0M327.3 563.2h0M327 559.9h0M280.5 541.7h0M302.9 536.8h0M282.8 569.6h0M300.4 551.2h0M342.5 620.1h0M356.7 526.4h0M353.6 576.2h0M279.8 586.8h0M327.1 593.9h0M414.4 575.2h0M357.4 630.6h0M324.7 528.1h0M268.3 561.7h0M335 633.1h0M259 554.3h0M342.9 606.5h0M326.8 587.9h0M279.8 573.2h0M300.8 557.8h0M331.4 580h0M260.4 540.7h0M259.9 571.3h0M304.8 559.5h0M359.8 589.1h0M249.3 649h0M294.9 554.2h0M294.2 558h0M355.6 612.7h0M321.4 617h0M291.2 583.6h0M311.8 615.5h0M293.8 520.1h0M267 551.3h0M265.8 559.1h0M254.7 534.7h0M352.8 587.7h0M337.6 619.2h0M381 610.5h0M307.7 556.4h0M274.5 540.3h0M274.6 601.5h0M244 538.8h0M287.2 560.1h0M331.4 615.6h0M292.7 594.4h0M303.4 519.5h0M295 578.8h0M256.8 529.4h0M322.4 536.6h0M321.5 528.9h0M327 569.4h0M337.1 632.1h0M309.1 560h0M317 555h0M279.3 532.4h0M346 636.6h0M301.1 568.6h0M276.5 520.2h0M245.8 536.9h0M269.4 526.6h0M336.8 641.3h0M306.8 562.5h0M327.3 557.3h0M343.7 562.5h0M271.7 555.8h0M340.2 552.6h0M314 595.6h0M303.1 511.4h0M318.8 519.2h0M292 577.4h0M317.9 528.2h0M304.6 601.8h0M272.2 625.7h0M344.9 578.7h0M303.5 569.8h0M330.5 540.6h0M306.3 589.3h0M334.6 594h0M309 536.6h0M284.1 548.9h0M332.6 614.3h0M321.7 572.2h0M261.2 540.2h0M332.7 594.2h0M354.8 621.2h0M373.6 584h0M283.9 545.9h0M277.1 562.9h0M273.5 564.7h0M259.8 563.9h0M287.5 561.4h0M334.1 633.2h0M344.9 581.8h0M309.4 560.8h0M258.9 530.7h0M303 614.2h0M325.9 521.4h0M353 571.9h0M309.6 561.6h0M254.6 573.8h0M306.9 547.9h0M306.5 598.8h0M332.6 604.2h0M340.7 560h0M356.1 603.5h0M295.9 561.1h0M257.8 554.7h0M278.9 525.5h0M311.8 541.5h0M300 606.3h0M316.3 597.9h0M315.3 528.2h0M281.5 566.5h0M346.2 610.8h0M401.2 604.8h0M347.8 540.6h0M342.1 576.1h0M290.9 603.4h0M319.2 600.1h0M301.1 595.6h0M302.1 598.7h0M299.4 579.9h0M299 594.1h0M328.3 537.5h0M314.7 571.9h0M326.3 540.2h0M340.6 556.2h0M356.3 548.4h0M285.9 553.4h0M337.4 606.3h0M286.7 579.7h0M331.1 588.1h0M319.6 609.6h0M316.5 530h0M272.4 545.1h0M382.6 597.1h0M286.5 582.3h0M251.9 553h0M300.2 523.7h0M350.1 569.9h0M335.1 550.6h0M316.2 589.7h0M273.3 579.7h0M269.1 567.5h0M310.2 568.3h0M344.8 643.7h0M312.7 545h0M337.1 596.6h0M278.3 523.2h0M455.2 637.3h0M427.7 657.3h0M371.7 668.9h0" stroke="#00b900" stroke-width="4.1" stroke-linecap="round" fill="none"/>
<line x1="154.2" y1="558.41" x2="499.6" y2="446.36" stroke="#222" stroke-opacity="0.45" stroke-width="0.9" stroke-dasharray="5.3 2.5"/>
<line x1="268.8" y1="421" x2="268.8" y2="669" stroke="#999" stroke-opacity="0.9" stroke-width="1.2" stroke-dasharray="4.8 2.348"/>
<line x1="151.4" y1="521.2" x2="153.3" y2="521.2" stroke="#c8c8c8" stroke-opacity="0.85" stroke-width="1.5"/>
<line x1="154.0" y1="521.2" x2="499.3" y2="521.2" stroke="#c8c8c8" stroke-opacity="0.85" stroke-width="1.5" stroke-dasharray="5.3 2.31"/>
<text transform="translate(377.2 476.1) rotate(-17.97)" font-size="11.5" textLength="81" lengthAdjust="spacingAndGlyphs" fill="#111">WTP 7,500,000</text>
<path d="M149 415.8V675.1H505" fill="none" stroke="#000" stroke-width="1.7"/>
<path d="M144 422.1H149M144 446.9H149M144 471.7H149M144 496.5H149M144 521.3H149M144 546.1H149M144 571H149M144 595.8H149M144 620.6H149M144 645.4H149M144 670.2H149M154.2 675.1v4.8M211.6 675.1v4.8M268.9 675.1v4.8M326.3 675.1v4.8M383.6 675.1v4.8M441 675.1v4.8M498.4 675.1v4.8" stroke="#000" stroke-width="1.4"/>
<text x="139.3" y="425.8" text-anchor="end" font-size="12.3" textLength="69.8" lengthAdjust="spacingAndGlyphs">20000000.00</text>
<text x="139.3" y="450.6" text-anchor="end" font-size="12.3" textLength="69.8" lengthAdjust="spacingAndGlyphs">15000000.00</text>
<text x="139.3" y="475.4" text-anchor="end" font-size="12.3" textLength="69.8" lengthAdjust="spacingAndGlyphs">10000000.00</text>
<text x="139.3" y="500.2" text-anchor="end" font-size="12.3" textLength="63.1" lengthAdjust="spacingAndGlyphs">5000000.00</text>
<text x="139.3" y="525.0" text-anchor="end" font-size="12.3" textLength="23.3" lengthAdjust="spacingAndGlyphs">0.00</text>
<text x="139.3" y="549.9" text-anchor="end" font-size="12.3" textLength="70.1" lengthAdjust="spacingAndGlyphs">−5000000.00</text>
<text x="139.3" y="574.7" text-anchor="end" font-size="12.3" textLength="76.8" lengthAdjust="spacingAndGlyphs">−10000000.00</text>
<text x="139.3" y="599.5" text-anchor="end" font-size="12.3" textLength="76.8" lengthAdjust="spacingAndGlyphs">−15000000.00</text>
<text x="139.3" y="624.3" text-anchor="end" font-size="12.3" textLength="76.8" lengthAdjust="spacingAndGlyphs">−20000000.00</text>
<text x="139.3" y="649.1" text-anchor="end" font-size="12.3" textLength="76.8" lengthAdjust="spacingAndGlyphs">−25000000.00</text>
<text x="139.3" y="673.9" text-anchor="end" font-size="12.3" textLength="76.8" lengthAdjust="spacingAndGlyphs">−30000000.00</text>
<text x="154.2" y="693.5" text-anchor="middle" font-size="12.1" textLength="30.1" lengthAdjust="spacingAndGlyphs">−1.00</text>
<text x="211.6" y="693.5" text-anchor="middle" font-size="12.1" textLength="30.1" lengthAdjust="spacingAndGlyphs">−0.50</text>
<text x="268.9" y="693.5" text-anchor="middle" font-size="12.1" textLength="23.2" lengthAdjust="spacingAndGlyphs">0.00</text>
<text x="326.3" y="693.5" text-anchor="middle" font-size="12.1" textLength="23.2" lengthAdjust="spacingAndGlyphs">0.50</text>
<text x="383.6" y="693.5" text-anchor="middle" font-size="12.1" textLength="23.2" lengthAdjust="spacingAndGlyphs">1.00</text>
<text x="441.0" y="693.5" text-anchor="middle" font-size="12.1" textLength="23.2" lengthAdjust="spacingAndGlyphs">1.50</text>
<text x="498.4" y="693.5" text-anchor="middle" font-size="12.1" textLength="23.2" lengthAdjust="spacingAndGlyphs">2.00</text>
<text transform="translate(53.6 545.45) rotate(-90)" text-anchor="middle" font-size="13.8" textLength="108.7" lengthAdjust="spacingAndGlyphs">Incremental cost (JPY)</text>
<text x="245.6" y="714.7" font-size="14" textLength="160.7" lengthAdjust="spacingAndGlyphs">Incremental effectiveness (QALY)</text>
<circle cx="169" cy="729.8" r="3.1" fill="#cb0000"/>
<text x="176.3" y="732.9" font-size="11.1" textLength="89" lengthAdjust="spacingAndGlyphs">VTd cost-effective</text>
<circle cx="169" cy="746" r="3.1" fill="#00b900"/>
<text x="176.3" y="749.1" font-size="11.1" textLength="101" lengthAdjust="spacingAndGlyphs">D-VTd cost-effective</text>

<path d="M1.5 1.5H518.5V758.5H1.5Z" fill="none" stroke="#6e6e6e" stroke-width="1"/>
<path d="M0.5 0.5H519.5V759.5H0.5Z" fill="none" stroke="#000" stroke-width="1"/>
</svg>
</body></html>
